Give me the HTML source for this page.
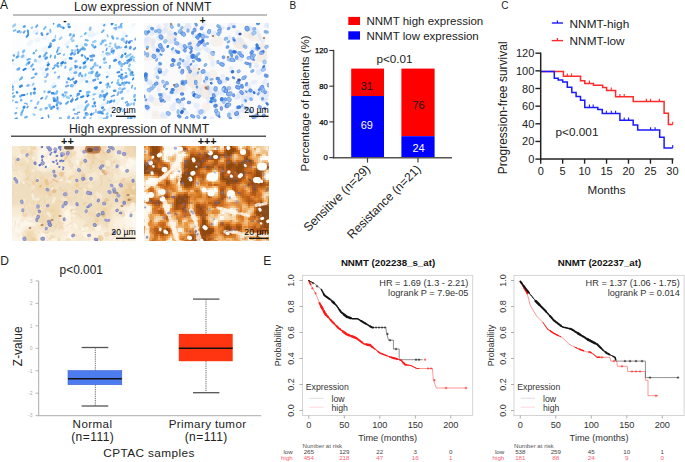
<!DOCTYPE html><html><head><meta charset="utf-8"><style>html,body{margin:0;padding:0;background:#fff;width:685px;height:462px;overflow:hidden}svg{display:block}text{font-family:"Liberation Sans",sans-serif}</style></head><body>
<svg width="685" height="462" viewBox="0 0 685 462">
<rect width="685" height="462" fill="#fff"/>
<text x="0" y="8.8" font-size="12" text-anchor="start" fill="#111" font-weight="normal" >A</text>
<text x="74.0" y="11.2" font-size="12.25" text-anchor="start" fill="#222" font-weight="normal" >Low expression of NNMT</text>
<line x1="13" y1="15" x2="267" y2="15" stroke="#aaa" stroke-width="1.6" />
<clipPath id="cp0"><rect x="12" y="23" width="124" height="96"/></clipPath>
<filter id="bl0" x="-10%" y="-10%" width="120%" height="120%"><feGaussianBlur stdDeviation="2.4"/></filter>
<filter id="sb0"><feGaussianBlur stdDeviation="0.35"/></filter>
<g clip-path="url(#cp0)">
<rect x="12" y="23" width="124" height="96" fill="#fcfdff"/>
<g filter="url(#sb0)" fill="none" stroke-linecap="round">
<path d="M97.8 93.4l3.4 -0.4M36.6 40.4l1.3 -0.4M123.3 37l1.1 -3.7M100.7 97.9l0.6 -1.1M75.7 70.6l0 -0.4M28.7 44.4l2.6 -2.7M66 44.6l2.7 -2.3M71.2 71.7l0.1 0.5M34.3 31.8l3 -0.6M108 72.5l0 0.5M77.3 107.2l0.6 -0.5M41.2 68.8l1.3 -0.8M65 59.7l0.1 -0.1M52.6 85.7l1.8 -1.7M107.5 111.2l2.4 -1.9M102.7 24.4l2.3 0.2" stroke="#e4f0fc" stroke-width="4.0" stroke-opacity="0.6"/>
<path d="M31.6 85.4l0.5 -0.3M99.8 44.6l3.1 -3M89.6 35.8l3.9 -1.9M117.2 103.3l1.2 -2.9M102.6 90.9l1 -0.8M123.8 51l3.3 -1.9M22 56.7l3.1 0.2M83.8 79l0.7 -1.6M71.5 86.3l2.6 -1.1M73.2 96.3l0.1 -0.6M44.1 38.6l1.7 -1.1M88.6 77.4l1.3 -1.1M80.2 67.5l0.3 -1.8" stroke="#e4f0fc" stroke-width="3.5" stroke-opacity="0.6"/>
<path d="M116.9 58.7l1.9 -1.6M38.7 61.3l2 -1M58.7 109.6l0.7 -2.6M129.5 48l0.4 -0.1M59.2 51.7l1.5 -1.6M113.1 110.5l1.1 -3.1M81.3 80l0.6 -0.7" stroke="#e4f0fc" stroke-width="4.5" stroke-opacity="0.6"/>
<path d="M121.5 86.5l1.8 -1.9M44.5 49.8l2.3 -1.6M103.5 104.1l1.2 0M79.7 107.3l1.7 -1M99.8 118l0.6 -0.2M44.5 73.3l1.3 -0.9M130.6 56.9l0.3 -0.7" stroke="#e4f0fc" stroke-width="5.0" stroke-opacity="0.6"/>
<path d="M116.8 38.7l4.1 0.2M91.4 95.4l2.7 -1.1M88.7 35.8l3.6 0.4M66 25.4l1.6 -0.9M73.2 76.7l3.3 -2.2M132.6 25.7l3.5 -3.3M73.7 33.2l0.4 -1.7M128.3 76.4l1.2 -3.9M94.1 35.5l3.8 -2.7M76 62l1.5 -1.5M99.8 105.3l4 -0.2" stroke="#e4f0fc" stroke-width="2.5" stroke-opacity="0.6"/>
<path d="M93.3 70.7l1 -3.9M110.2 107.1l1.6 -0.6M78.2 69.7l1.7 -2.4M131.6 61.7l3.9 -0.4M81 45.8l0.6 -1M13 83.5l3.7 -2.4M87.4 33.5l4.3 -2.8M106.5 90.6l1.3 -3M127.1 92.2l1.8 -1.5M64.6 95.2l4.8 0.8M64.1 60.1l1.4 -0.9M132.4 99.9l4.2 -2.1M101.9 54.9l3.1 1.4M10.3 63.7l3.7 -0M28.9 68.5l2.5 -0.6M88.1 83.1l4.7 -1.2" stroke="#e4f0fc" stroke-width="3.0" stroke-opacity="0.6"/>
<path d="M105 40.4l0.2 -0M123.9 78l1 -0.6M79.1 75.7l0.4 -1.4M21.3 114.8l0.2 -1.7M34.5 93.6l0 -0M135 88.6l1.9 -0.8M12.7 89.6l0.3 0M119 27.2l0.9 -0.2M22.1 56.8l1 -1.1M84.6 110l0.8 -0.5M75.5 61.5l0.5 -0.4M87.8 105.2l0.5 -0.7M117.3 38.3l0.1 0.1" stroke="#70b0f0" stroke-width="2.5" stroke-opacity="0.8"/>
<path d="M105.6 95.2l1.5 -1.7M94.3 47.3l1 -0.4M111.7 51.6l1.9 -1M71 54.3l1.4 -1.5M121.6 57l0.8 -1.7M114.1 90.8l1.1 0M60.1 118.4l0.1 -0.1M45.6 58.7l1.2 -1.1M135 99.9l1.2 0.2" stroke="#2080e0" stroke-width="2.5" stroke-opacity="0.8"/>
<path d="M11.2 101.2l1.6 -0.9M124.2 41.7l0.2 -0.6M131.6 57.7l2.7 -0.2M17.2 69.7l1.9 -0.4M45.7 98.8l1.3 -2.5M57.4 98.7l0.2 -1.1M118 81.1l0.4 -1.4M97.7 78.9l0.5 0M119.7 47.9l1.6 -0.4M102.8 51.9l0.5 -0.2M32.9 84.7l0.7 -1.2M95.6 75.1l1 -2.1M114.9 44.6l0.6 -0.7M63.7 96.7l1.8 -1.5M95.8 65.6l2 -0.2M59.7 39.2l1.8 -1.8M90.8 68.6l0.6 -0.1M73.4 35.7l0.7 -1" stroke="#80c0f0" stroke-width="2.0" stroke-opacity="0.8"/>
<path d="M89.9 29.6l0.5 -1.9M60.1 119.2l0.6 -0.8M94.6 65l0.6 -1.6" stroke="#90c0f0" stroke-width="2.5"/>
<path d="M132.7 79.6l0.8 -1.4" stroke="#2080e0" stroke-width="1.5"/>
<path d="M80.2 67.7l0.1 -0.1M85.8 113.5l0.8 -0.3M130.1 48.2l0.5 -1.1M92.8 55.5l1.1 0.3M97.9 76.1l0.3 -0.4M108 84.2l0 -0.5M46.1 69.6l1.4 -0.7M48.5 92.1l1.2 -0.4M127.4 60.8l1.6 -0.8M39.5 56.7l0.5 -0.3M42.2 34.9l-0.6 -1.5M93.5 80.4l1.6 -0.5" stroke="#3080e0" stroke-width="2.5" stroke-opacity="0.8"/>
<path d="M107.5 103.1l0.4 -1.8M122.3 89.5l2.5 -1.2M135.2 39.5l1 -1.1M20.9 78.9l1.3 -1.6M103.7 110.1l0.9 -0.6" stroke="#70b0f0" stroke-width="2.0"/>
<path d="M57.5 108.4l0.1 -0.2M126.3 76.8l0 -0.8M80.3 73.7l-0.1 -0.3" stroke="#60a0f0" stroke-width="2.5"/>
<path d="M15.8 102.3l1.4 -0.1M92.8 67.1l0.4 -0.3M102 32.2l1.6 -1.9M109.5 68l0.5 -2.3M127.9 118.2l0.8 -0.4M54.9 57.8l0.2 -1.8M30.9 94.4l-0 -1.7M85.6 40.1l2.2 0.4" stroke="#50a0e0" stroke-width="2.0" stroke-opacity="0.8"/>
<path d="M95.9 88.1l-0.1 -0.1M82.7 48.6l0.4 -0.7" stroke="#50a0e0" stroke-width="3.0" stroke-opacity="0.8"/>
<path d="M96.7 73.5l0.5 -1.1M16.8 57.2l1.4 -0.9M23.9 26.7l0.8 -0.4M95 88l1.7 -0.7M52.9 40.8l1.7 -0.8" stroke="#3090e0" stroke-width="2.5" stroke-opacity="0.8"/>
<path d="M74.7 113.7l2.8 0.2" stroke="#5090e0" stroke-width="1.5" stroke-opacity="0.8"/>
<path d="M111.9 24.1l0.8 -1.8M47.8 65.3l0.8 -1.1M53.5 106.9l0.2 -0.1M100.2 82.8l0.4 -0.2M75 82.9l1.2 -1.5M91.2 114.4l0.5 -0.4M129.2 42.5l0.4 -0.4M70 58.3l1.4 0.2" stroke="#3080e0" stroke-width="2.5"/>
<path d="M50.9 109.2l2.3 -1.5M107.2 34.9l0.8 1.9M133.9 61l-0.2 -1.6M111 50l1.5 -2M90.4 57l2 0.4M72.2 101.1l0.5 -3" stroke="#70b0f0" stroke-width="1.5" stroke-opacity="0.8"/>
<path d="M27.4 59.8l0.7 -0.4M54.6 65.7l1.4 -0.4M25.2 117.5l1.8 -0.8M21.9 112.4l1.2 -2.3M113.9 101.6l0.4 -1.2M31.3 66.4l1.5 -2" stroke="#60b0f0" stroke-width="2.0"/>
<path d="M35.1 107.8l1 -0.3M85.5 108.6l0.2 -1.3M15.3 113.4l0.9 -0.4M104 25.5l0.5 -0.6M97.3 76.4l2.3 -1.8M51.3 109.1l0.3 -1.6M90.1 56.1l1.4 -0M124 63.9l1.5 -1M23.8 32.6l0.9 -1.3M36.2 26.9l1.1 -1.6" stroke="#4090e0" stroke-width="2.0" stroke-opacity="0.8"/>
<path d="M61.5 63.5l1.4 -1.2M49.2 46.9l1.2 -0.6M34.5 89.2l0.2 -0.5M83.8 63.2l1 -0.8M87.5 58.7l0.3 0M54.2 100.8l1.7 -0.4" stroke="#2080e0" stroke-width="2.5"/>
<path d="M109.6 86.9l0.3 -0.5M71.6 50.5l1.2 -0.3M93.5 94.5l1.5 -0.4M37.4 104l1.1 -2.1M86.1 60.9l0.7 -0.7M50.5 32l-0.3 -2.3M63.8 54.9l0.5 -0.5M58.1 48.1l0.9 -0.6M134 104.8l0.1 -1.8M105.5 45.3l0.8 -0.6M36.5 33.8l0.4 -0.5M54.5 94.2l1.1 -0.6M115.7 29.4l0.6 -0.2M54.8 72.7l0.5 -0.3M60.6 26.9l2.1 0.3" stroke="#70b0f0" stroke-width="2.0" stroke-opacity="0.8"/>
<path d="M84.3 117.8l0.3 -0.2M126.1 46.9l0 0.2M33.8 93l0.8 -0.5M62.8 95l-0.1 -0.4M13.9 55.6l-0 0M119 76.2l1 -0.1M50.3 45.5l0.4 -1.9M103.6 96.1l0.3 -1M76.5 66.7l0.5 -0.1M122.3 83.3l0.1 -0.3M134.5 116.9l0.2 0.1M58.3 25.4l0.8 -0.6M100.1 67.3l0.1 -0.1M65.2 63l0.2 -0.2M17.8 31.9l1.5 -0.6M90.9 60.2l1.3 -0.2M57.7 66.3l0.4 0.1" stroke="#4090e0" stroke-width="2.5" stroke-opacity="0.8"/>
<path d="M44.9 77.2l2 -0.5M122.1 79.8l0.4 -2.4M76.6 96.1l1 -0.6" stroke="#60a0f0" stroke-width="1.5" stroke-opacity="0.8"/>
<path d="M12.2 87.1l0.8 -0.4M123.7 83.5l0.8 -0.9M28.2 33.1l-0.4 -2.7M57.4 63.7l0.7 -0.7M41.5 119l1.1 -1.1M106.7 77.1l1 -0.6" stroke="#2080e0" stroke-width="2.0" stroke-opacity="0.8"/>
<path d="M68.6 79l0 -0.4M23.7 107.6l0.6 -0.7" stroke="#3090e0" stroke-width="2.5"/>
<path d="M85.3 44.5l1 0.4M122.2 39.6l0.9 -0.6" stroke="#80c0f0" stroke-width="3.0"/>
<path d="M85.6 102.4l1.3 -1.3M104.6 97.4l0.6 -0.9M60.3 103.8l0.7 -0.4M47 34.4l0.9 -0.9M75.5 67.7l-0.3 -1.9M72.6 119l1 -1M125.1 47.3l1.1 -1.1" stroke="#3080e0" stroke-width="2.0" stroke-opacity="0.8"/>
<path d="M99.8 96.7l1.9 -1M73.7 109.8l0.3 -0.3M122.1 98.8l0.5 -0.6M87.1 92.2l2.3 -0.3M65.1 92.4l1.3 -0M101.1 43.8l0.1 -0.1M91.6 68.7l-0 0M57.9 26.3l2.2 -0.7M50.1 106.9l0.3 0.2M104 99.8l0.4 -0.4M44.1 56.3l0.5 -0.2" stroke="#60b0f0" stroke-width="2.5" stroke-opacity="0.8"/>
<path d="M102.2 107.9l0.6 -0.4M17 92.4l0.2 0.1M110 102.1l1.5 -1.2M63.5 28.1l0 0M114.3 60.7l1.5 -0.7M20.1 86.7l1.7 -1M81.9 55.4l0.3 -0.2M68.8 26.8l0.9 0.1M94.5 103.4l0.2 -1M52 93.3l1.4 -0" stroke="#4090e0" stroke-width="2.5"/>
<path d="M68.4 24.4l0.4 -0.2M126.5 36.1l0 -0.1M74.6 72.8l1.5 -0.2M106.1 118.5l1.3 -1.7M21.3 100.1l-0.1 0.2M92.7 106.3l0.7 0M102.5 41.9l0.3 -1.2M70.1 35.2l0.4 -1" stroke="#50a0f0" stroke-width="2.5" stroke-opacity="0.8"/>
<path d="M133.9 49.3l2.2 -1.8M119.1 85l1.5 -0.1M118.7 62.8l1.1 -1.3M127.2 63.1l1.6 -2" stroke="#60a0f0" stroke-width="2.0"/>
<path d="M131.5 73.3l0.6 -0.8" stroke="#4090e0" stroke-width="3.0"/>
<path d="M109.1 46.6l1.4 -0M47.6 62.8l1 -0.7" stroke="#80c0f0" stroke-width="1.5" stroke-opacity="0.8"/>
<path d="M100.3 112.8l1.9 -0.9M71.2 86l0.2 -0.7M45 54.7l0.2 -0.1M13.5 96.8l0.8 -0.7M82.7 49l2.1 0.3M104 59.5l0.6 -1M45.8 108.4l0.9 -0.4M119.5 109.5l1.7 -0.7M82.1 76l-0.1 -0.3M33.7 53.2l0.3 -0.2" stroke="#50a0e0" stroke-width="2.5" stroke-opacity="0.8"/>
<path d="M45.4 81.2l0 0.2M107.4 54.5l2.3 -0.4M119.3 88.7l0.6 -0.1" stroke="#90c0f0" stroke-width="2.5" stroke-opacity="0.8"/>
<path d="M91.6 73l0.9 -1.1M113.1 38.4l-0.8 -1.8M46.3 53l0.1 -0M128.8 82.9l0.4 -0.2M76.7 46.2l0.2 0" stroke="#60b0f0" stroke-width="2.5"/>
<path d="M130.4 119.4l1.1 -1.9" stroke="#50a0f0" stroke-width="2.5"/>
<path d="M50.5 57.4l0.4 -2.2M111.6 82.9l0.8 -0.8M106.3 50.4l0.6 -2.2" stroke="#3090e0" stroke-width="1.5" stroke-opacity="0.8"/>
<path d="M18.2 55l0.2 -2.7M89.6 119.8l1.1 -2.1M74.9 51.6l0.4 -1.2M71.2 39.3l0.8 -1.6M20.6 32.6l0.9 -0.4" stroke="#90c0f0" stroke-width="2.0" stroke-opacity="0.8"/>
<path d="M128.6 68.8l1.8 1.9M65.1 67.9l0.5 -1.4M43.9 29.1l1.8 -2.1M85.8 115.4l2.3 -1.1M29 58.9l1.2 0M93.2 99.3l0.6 -0.3M119.5 64.4l1.6 -1.4M85.3 75.7l0.4 -1.5M44.4 92l0.2 -0.8" stroke="#60b0f0" stroke-width="2.0" stroke-opacity="0.8"/>
<path d="M53.7 98.1l0.3 -0.1M47.2 74.9l0.4 -0.5M17.9 69.1l1.2 -0.7M66.9 82.4l0.2 -0.1M77.5 118.7l0.6 -1.1M55.8 100.9l1.8 -0.2M27.5 85.6l1 -0.3M68.4 118.5l0.4 -1.8M74.1 54.3l0.9 -0.5M116.9 48.1l1.9 -1.3" stroke="#60a0f0" stroke-width="2.5" stroke-opacity="0.8"/>
<path d="M101.9 113.3l1 0.3M125.5 83l1.4 -0.7M26.6 36.8l1.6 -2M77.6 50.5l0 -1M70.7 95.8l0.2 -0.2M117.4 72.5l1.9 -0.4" stroke="#4090e0" stroke-width="2.0"/>
<path d="M87.3 96.1l1.2 -0.7M79.8 91.2l0.9 -0.1M125.2 54.2l0.3 -0.7M23.5 69.9l2.2 -1.2" stroke="#2080e0" stroke-width="2.0"/>
<path d="M93.2 46.2l-0.9 -1.4M23.1 51.9l1 -1.4M104 119.4l-0.1 -0.7M72.3 86.1l0.5 -0.7M102.5 91.5l0.1 -0.1M121.5 66.1l1 -1.9M115.6 46.4l0.1 0.3M56.3 93.4l0.9 -2.1M134.2 96.7l0.7 -1.6" stroke="#80c0f0" stroke-width="2.5"/>
<path d="M61.2 65.5l0.1 -0.6M121.6 27.5l-0.5 -1.7M13.7 30.9l1.8 -0.8M106.1 53.5l2.3 -0.4M35.9 51l0.5 -0.7M129.1 66.2l0.9 -1.9M104.2 62.7l1.9 -0.3M53.2 87.2l2.3 -1.2" stroke="#80c0f0" stroke-width="2.0"/>
<path d="M126.1 43.1l0.7 -1.8M33.2 69.7l0.5 -0.6M72.3 79.4l1.1 -1" stroke="#5090e0" stroke-width="2.0"/>
<path d="M53.5 24l0.2 -0.9M56.8 52.3l1.1 -2.7M27.1 107.7l0.9 -1.4" stroke="#2080e0" stroke-width="1.5" stroke-opacity="0.8"/>
<path d="M84.7 34.3l1.1 -1.3" stroke="#70c0f0" stroke-width="2.0"/>
<path d="M15.3 119l1.6 -0.7M11.9 60.5l1.1 -0.3M53.7 99.3l1.3 -0.4" stroke="#50a0e0" stroke-width="2.0"/>
<path d="M95.5 106.6l-0.2 -0.8M111.5 96.4l2.8 -1.1M58.3 77l1 -0.6M57.6 98.9l-0.3 -1.8M111.2 116.2l-0.1 -1.2M52.8 68.9l1.6 -1.3" stroke="#3080e0" stroke-width="1.5" stroke-opacity="0.8"/>
<path d="M117.7 83.2l0.4 -0.1" stroke="#70c0f0" stroke-width="3.0"/>
<path d="M106.4 84.9l0.3 -0.5M67 97.3l1.9 0.6M124 84.6l0.5 -2.2M31.8 27.7l0.3 -0.2M89.2 73l1.6 -0.4M13.3 26.3l1.7 -1.6M49.2 105.5l0.5 -0.7M58.5 78l0.3 -0.2M40.4 109.6l0.8 -0.4M106.8 114.2l0.8 -0.6M127.1 105.1l2.3 -0.2M93.4 41.9l1.9 -0.6M57 103l0.9 -0.6M131.5 103.8l0 -0M72.4 40.9l1 -0.3M67.5 47.1l0.2 -0.3M70.1 69.7l1.2 -1.5M12 85.7l0 -0.3" stroke="#80c0f0" stroke-width="2.5" stroke-opacity="0.8"/>
<path d="M110.4 43.4l0 -0M126.3 56.7l1.2 -0.8M35.8 74.3l0.7 -0.6" stroke="#70c0f0" stroke-width="2.5" stroke-opacity="0.8"/>
<path d="M76.8 99.5l0.9 -1.4M125.7 102.6l1.5 -0.7M132.9 75.3l0.7 -0.2M120.7 25.2l1.4 -2.5M121.6 69.9l-0.3 -0.5M35.2 74.2l0.8 -0.7" stroke="#50a0f0" stroke-width="2.0" stroke-opacity="0.8"/>
<path d="M127.3 105.2l0.8 -1.2M20.4 96.6l0.1 -0.7M120.6 92.6l1.4 -1.1M73.6 36.1l0.1 -0.5" stroke="#70b0f0" stroke-width="2.5"/>
<path d="M28.3 63.3l0.9 -1M71.1 101.4l1.3 -1.6" stroke="#5090e0" stroke-width="2.5"/>
<path d="M75.7 99.9l1.5 -1.3" stroke="#4090e0" stroke-width="1.5"/>
<path d="M66.1 103.7l1.9 -1.8" stroke="#3090e0" stroke-width="2.0" stroke-opacity="0.8"/>
<path d="M40.9 98.9l1.6 -1.2" stroke="#3080e0" stroke-width="1.5"/>
<path d="M93 114.3l1 -1.8M96 112.5l-0.1 -2.9" stroke="#90c0f0" stroke-width="1.5"/>
<path d="M125.2 72.7l1.3 0.5M130.4 57.3l2.4 -1.2M27.1 94.4l0.3 -0.9" stroke="#70c0f0" stroke-width="1.5"/>
<path d="M131 74.6l0.1 -0M84 67.6l1.3 -0.9" stroke="#60b0f0" stroke-width="3.0" stroke-opacity="0.8"/>
<path d="M22 95.2l2.5 -0.3M77.9 53l0.6 -0.9M121.5 74.4l0.7 -0" stroke="#3080e0" stroke-width="2.0"/>
<path d="M81 97.2l2.5 -1" stroke="#3090e0" stroke-width="2.0"/>
<path d="M24.8 103.2l2.7 0.9M19.6 79.9l2 -2.3" stroke="#70b0f0" stroke-width="1.5"/>
<path d="M86.9 94.5l1.1 -1.2M129.1 55.1l1.5 -1M115.5 25l0.6 -0.1M33.6 114.4l1.1 0.5M26.3 64.9l1 -1.7" stroke="#70c0f0" stroke-width="2.0" stroke-opacity="0.8"/>
<path d="M98.6 112.4l1.3 -0.3" stroke="#4090e0" stroke-width="3.0" stroke-opacity="0.8"/>
<path d="M122.5 111.4l1.7 -2M57.4 103.3l2.6 -1.2" stroke="#60b0f0" stroke-width="1.5" stroke-opacity="0.8"/>
<path d="M85.7 58.1l-1 -2.1" stroke="#50a0f0" stroke-width="1.5"/>
<path d="M16.4 108.3l0.9 -0.2M80.6 36.5l1.2 -0.2M55.3 37.7l0.2 -2.1" stroke="#90c0f0" stroke-width="1.5" stroke-opacity="0.8"/>
<path d="M117.5 95l1 -2.7M100.3 95l0.2 -0.1M130.2 41.1l1.7 -0.2M114.2 28.3l2.4 -0.7M74 82l0.5 0.1" stroke="#60a0f0" stroke-width="2.0" stroke-opacity="0.8"/>
<path d="M35.5 60.8l-0.2 -0.4" stroke="#80c0f0" stroke-width="3.0" stroke-opacity="0.8"/>
<path d="M86.4 81.5l0.7 -0.1M56.8 105.4l0.1 -0.4M121.1 77.7l0.2 -1.2" stroke="#50a0e0" stroke-width="2.5"/>
<path d="M30.8 100.9l0.8 -0.3" stroke="#90c0f0" stroke-width="2.0"/>
<path d="M48.7 117.4l-0.4 -2.2M57.4 54.2l2.9 -0.6M70.3 80.2l1.1 -0.8" stroke="#50a0e0" stroke-width="1.5"/>
<path d="M107 87.6l1.4 -2.5M113 53.7l1.1 -1.9" stroke="#50a0f0" stroke-width="1.5" stroke-opacity="0.8"/>
<path d="M131.7 87.9l0.6 -2.3M31.5 78.3l2.6 -1.2M77.7 112.5l1.9 -0.2" stroke="#4090e0" stroke-width="1.5" stroke-opacity="0.8"/>
<path d="M130 60.1l0.9 -0.6M78.1 94.2l0.6 -0.1" stroke="#3080e0" stroke-width="3.0" stroke-opacity="0.8"/>
<path d="M11.6 93.8l1.7 -0.8" stroke="#60b0f0" stroke-width="1.5"/>
<path d="M79.5 51l1.3 -1.6" stroke="#50a0f0" stroke-width="2.0"/>
<path d="M96.2 75.8l1.4 -1" stroke="#70b0f0" stroke-width="3.0" stroke-opacity="0.8"/>
<path d="M86.6 106.9l0.4 -1.2" stroke="#70c0f0" stroke-width="2.5"/>
<path d="M66 86.5l2.3 -0.9" stroke="#5090e0" stroke-width="2.0" stroke-opacity="0.8"/>
</g>
</g>
<clipPath id="cp1"><rect x="144" y="23" width="125" height="96"/></clipPath>
<filter id="bl1" x="-10%" y="-10%" width="120%" height="120%"><feGaussianBlur stdDeviation="2.4"/></filter>
<filter id="sb1"><feGaussianBlur stdDeviation="0.35"/></filter>
<g clip-path="url(#cp1)">
<rect x="144" y="23" width="125" height="96" fill="#fbfafa"/>
<g filter="url(#sb1)" fill="none" stroke-linecap="round">
<path d="M214.6 41.7l4.2 0M145.8 56.2l4.3 0M253 36.4l4.4 0" stroke="#f0e4d8" stroke-width="9.5" stroke-opacity="0.4"/>
<path d="M201.2 86.7l2.4 0" stroke="#f0e4d8" stroke-width="5.5" stroke-opacity="0.4"/>
<path d="M180.1 88.4l0 2.1M222 105.2l2.3 0" stroke="#f0e4d8" stroke-width="7.5" stroke-opacity="0.4"/>
<path d="M152.8 40.6l0 1.9M253.1 60.9l2.5 0M239.8 93.9l6.5 0M176.6 88.2l6.7 0" stroke="#f0e4d8" stroke-width="6.5" stroke-opacity="0.4"/>
<path d="M189.4 68.3l0.8 0M156.1 102l3.5 0M185.1 29.5l2.3 0M187.8 28.2l0 0.7M244.4 45.9l0.2 0" stroke="#f0e4d8" stroke-width="8.0" stroke-opacity="0.4"/>
<path d="M192.7 43l3.6 0M194.6 86.9l0 0.7M210.9 55.1l0 2.1M154.4 117.2l7.3 0" stroke="#f0e4d8" stroke-width="6.0" stroke-opacity="0.4"/>
<path d="M143.7 77.2l3 0M151.4 85.7l9 0" stroke="#f0e4d8" stroke-width="4.0" stroke-opacity="0.4"/>
<path d="M166.6 28.9l0 0.9M232.9 57.8l4.4 0" stroke="#f0e4d8" stroke-width="7.0" stroke-opacity="0.4"/>
<path d="M206.3 106.7l0 0.7M247.3 34.4l3 0M213 73.9l0 0.9" stroke="#f0e4d8" stroke-width="8.5" stroke-opacity="0.4"/>
<path d="M229.6 88.6l1.5 0" stroke="#f0e4d8" stroke-width="4.5" stroke-opacity="0.4"/>
<path d="M244.1 99.1l2 0M153.9 113l2.8 0M150 44.2l1.6 0" stroke="#f0e4d8" stroke-width="5.0" stroke-opacity="0.4"/>
<path d="M194 76l0 4" stroke="#f0e4d8" stroke-width="16.0" stroke-opacity="0.6"/>
<path d="M206 89l0 4M239 43l0.1 0" stroke="#f0e4d8" stroke-width="12.0" stroke-opacity="0.6"/>
<path d="M171 38l2 0M262 48l0 10" stroke="#f0e4d8" stroke-width="10.0" stroke-opacity="0.6"/>
<path d="M159.2 55.7l-0.2 0.4M251.2 28.9l-0 0M196.2 48.2l-0.1 0.5M173.4 40.8l-0.7 1.2M256.6 66l-0.1 0.1M150.2 81.7l-2.1 0M194.5 35.8l-0.3 0M180.9 45.5l0.5 0.3M148.4 108.3l-0.4 0.8M230.3 58.4l-1.9 0.1M149.7 29l-0.6 -1.1M180.1 61l-1 0.3M238.6 110.5l1.5 0.1M213.9 102.3l0 0M221.1 82.4l-0.3 -0.7M199.4 89.9l-1.1 0.8M186 62.8l-0.2 0.1M251.8 96.1l0.1 0.7M227.6 104.7l0 0.2M204.3 34.3l0 1M150.2 99.9l1.2 0.4M222.8 63.5l-1.1 0.7M168.5 97.8l-0.1 0.8M262.6 40.1l-0.3 0.4M166.9 23.5l-1.1 0.8M152.3 33.2l-0.1 -0.1M217 92.1l-1 -0.3M159 27.2l-0.3 0.2M229.4 37.7l0 0M204 47.4l1.8 1.2M244.9 108.7l-0.8 1.9M188.2 57.9l-0.1 -0.3M199.9 94.9l-0.3 -0.3M223.2 101.7l-0 -0.7M214.4 87.9l-0.9 0.5M240.1 39.9l0.5 1.5M147.6 105l-0.9 1.3M186.2 112.9l-0.5 0.1M234.9 41.7l-0 -0M253.2 49.5l0.1 0.2M241.1 58.2l-0.2 0.8" stroke="#d8e4fc" stroke-width="5.0" stroke-opacity="0.6"/>
<path d="M230.1 57l-0.3 2M268.7 93.2l-1.2 1.6M196.2 65.6l-1.5 1.6M266.9 98.6l-1.5 2M259.5 109.5l1.7 0.6M181.7 108.9l0.9 0.5M238.8 94.4l-0.2 2.4M232.1 50.3l-2.2 0.4M174.6 35.8l-0.5 0.5M252.7 116.5l2.4 1.1M162.6 37.5l-2.1 1.5M231.1 68.1l0 2.7M268.1 24.2l1.3 2.2M153.3 41.1l-0.1 1.9M232.7 111.6l-2.1 0.5M166.6 70.6l0.1 0.2M255.6 82.1l-3 0.4M219.5 93.1l3 0.7M220.9 26.9l2 1.1M248.2 97.7l1 0.8M150.7 96.4l1.9 1.8M166.8 113.1l1.5 1.4M158.7 89.6l0.1 0.6M184.2 62.9l0.7 3.2M222.2 81l2.9 0.4M188.3 61.1l-0.1 2M160.8 48l2.4 0.3M264.4 91.5l1.1 1.4" stroke="#d8e4fc" stroke-width="4.0" stroke-opacity="0.6"/>
<path d="M173.3 64.7l1.5 0.2M265.6 99.9l-2.8 0.5M156.6 68.7l-1.1 0.8M245.5 101.8l-2.8 0.1M174.8 103.6l-1.4 1.7M258.8 35.1l1 2.7M236.5 108l-0.3 1" stroke="#d8e4fc" stroke-width="3.5" stroke-opacity="0.6"/>
<path d="M262.2 97.1l1.3 0.2M258.8 72l0.1 0.2M172.6 107.9l0.5 0.4M148.3 39.1l-0.5 0.2M159.3 37.5l-0.1 0.1M206.9 74.4l-0 1.3M187.7 23.2l0.4 0.1" stroke="#d8e4fc" stroke-width="6.0" stroke-opacity="0.6"/>
<path d="M249.4 111.1l2.6 0.3M250.5 28.2l-0.5 0.2M176.1 90.9l-0.4 1.6M153.3 47.1l0 0M231.4 53.6l-0.9 0.2M146.2 39.7l-1.5 0.4M246.8 98.1l-0 0.1M238.5 82.8l0.6 2.4M150.9 98.7l0.8 0.6M230.1 25.2l0.8 0.9M165.4 116.4l-0.1 0.2M146.5 43.5l-0.4 1.5M155 55l-1.4 1.7M169.4 41.2l0.3 0.8M258.6 92.5l0 0.1M197.6 48.6l1.9 1M185.6 64.6l2.4 1.2M157.9 66.8l0.2 0.5M230.2 115.5l-0.4 1M162.7 114.1l-0.3 1.4M157 49.4l-2.6 0.1M212.7 61.8l-0.2 2.8M237.3 114.4l0.9 2.2M211.9 118.6l-0 0.1M206.7 81.2l-1.1 0.4M180.4 102.4l1.8 2.1M150.6 83.5l-0 -0M266.1 25.1l1.3 1M249 86.2l0.3 0M171.7 91.7l-0.5 1.3M204.2 24.2l-0.1 0.9M265.5 81l-1.2 1.7M189.1 26.9l-0.1 0.1M152.5 30.5l-0.8 0.2M157.1 82.1l0.7 1.4M203.7 111.6l-1.6 1.8M241.9 52.9l-1.3 1M222.6 76.1l-0.6 0.3M262 90.6l-0.2 0.9M157.9 31.4l-0 0M256.1 91.4l-0.2 0.2M186.2 27.7l-0.2 0.2M209.7 91.7l1.3 1.5M227.2 90l-0.4 -1.1M257.2 31.5l-0 0M208.5 98.6l0.2 2.6M194.6 74.5l-0.4 0.2" stroke="#d8e4fc" stroke-width="4.5" stroke-opacity="0.6"/>
<path d="M243.9 92l-1 1.5M196.3 105.4l0.6 0M156.2 74.9l-0.1 0.1M164.9 29.9l-0.7 0.9M233.3 24.1l-0 -0.1M170.5 32.9l-0.6 0.2M208.4 50.3l0.3 0.1M215 94.6l0.3 0.2M164.6 73.4l-0.9 0.1M163.4 94.9l0.5 0.6M247.4 92.2l1.7 0.3M158.5 33l1.7 0.3M214.1 33.5l-0.9 0.8M174.7 51.1l-0.9 0.2M265.4 91.7l-0.1 0.1M198.8 111l0 0.5M237.5 97.1l-1.2 0.3M237.8 32.9l0.9 0.6M183.5 48.2l-0.2 0.1M243.6 98.1l-0.2 0.8" stroke="#d8e4fc" stroke-width="5.5" stroke-opacity="0.6"/>
<path d="M172.9 48.2l-0.8 1M193 61.3l0.8 0" stroke="#70b0f0" stroke-width="2.5"/>
<path d="M234.2 26.7l-0.6 0.1M196.5 37.1l1.5 1.2M187 117.5l-0.6 0.9M192.5 32.4l0.1 0.8M243.4 77.6l1 0.4M225.3 98.9l0.5 0.9M198 35.7l0.8 0.6" stroke="#4080e0" stroke-width="3.0" stroke-opacity="0.8"/>
<path d="M228.4 59.5l0.9 0.6M208 87l-0.2 1.7M193.5 92.3l-0.5 0.9M233.5 38.2l-0.1 0.4" stroke="#70a0f0" stroke-width="3.0" stroke-opacity="0.8"/>
<path d="M262.9 51.9l-1.2 0.6M211.7 98.4l0.9 0M172.3 89.8l0.7 0M239.5 107l-1.4 0.2" stroke="#4080e0" stroke-width="3.5"/>
<path d="M263.9 69.3l-1.3 0.5M212.2 53.1l0.6 0.9M223.6 88.4l-0.2 1.3M148.7 89.9l0.6 0.4M143.8 52.7l0.6 0.6M256.8 48.4l0.4 0.4M218.1 113.1l-0.4 0.5" stroke="#70a0f0" stroke-width="4.0" stroke-opacity="0.8"/>
<path d="M264.5 108l0.8 0.9M259.1 89.5l0.2 0.8M177.9 99.2l-1.1 0.7" stroke="#4080e0" stroke-width="2.5" stroke-opacity="0.8"/>
<path d="M183.2 33.8l0.7 0.7" stroke="#5080e0" stroke-width="4.5" stroke-opacity="0.8"/>
<path d="M218.8 115.9l0.5 0.8M168 46.1l-0.4 0.6M211.1 83l0.4 0.4M233.9 40.1l0.6 0.3M266.7 103.3l0.9 1.1M264 66.3l-0.6 0.7" stroke="#4080e0" stroke-width="2.5"/>
<path d="M181.4 72.3l0.7 0.8M217.9 61.5l0.1 1.1M199.4 96.1l-0.8 1M183 81.2l-1.1 0.4" stroke="#6090e0" stroke-width="3.0" stroke-opacity="0.8"/>
<path d="M215.9 105.7l-0.7 0.2" stroke="#3070d0" stroke-width="4.0" stroke-opacity="0.8"/>
<path d="M166.8 82.6l0.6 0.8M204.1 44.2l0.6 0.8M198 116.4l0.7 0.9M220.3 28.6l-0.3 1.2M160.5 96l0.7 0.3M162.9 81.5l0.1 0.4" stroke="#70a0f0" stroke-width="3.5" stroke-opacity="0.8"/>
<path d="M167.1 88.7l-0.9 0.5M245.9 91.3l0.8 0.6M175.7 50.6l0.9 0.7" stroke="#4080e0" stroke-width="2.0" stroke-opacity="0.8"/>
<path d="M236.8 113.4l-0.6 0.3" stroke="#3070d0" stroke-width="4.5" stroke-opacity="0.8"/>
<path d="M233.6 94.7l-0 0.9M162.7 100l-1.5 0.9M250 64l0 0.5M199.3 41.9l0.4 0.6M230.3 118.4l0.4 0.5M190.5 71.3l-0.6 0.6" stroke="#3070e0" stroke-width="3.0" stroke-opacity="0.8"/>
<path d="M180.3 58.9l0.1 0.7M199.5 59.1l0.7 1.2M183.3 60.3l-0.5 0.7M213.3 100.5l-0.9 0.4M163.7 101.3l1.1 0.1" stroke="#5090e0" stroke-width="2.5" stroke-opacity="0.8"/>
<path d="M175.3 39.1l-0.4 1M206.3 36.7l1.3 0.3M157.1 59.1l-0.9 1.4M242.4 105.2l-0.6 0.9M204.2 80.8l0.1 0.9" stroke="#70a0f0" stroke-width="2.5" stroke-opacity="0.8"/>
<path d="M205.8 64.6l-0.8 0.7M188.1 30.1l-0.2 1M228.9 28.2l-0.7 0.5M250.8 98.9l0.6 0.6M159.4 94.4l1.8 0.1M164.9 85.2l-0.6 1.2M185.7 81.2l0.2 1.2M190.3 43.3l-1.2 0.5M246.8 83.3l-0.6 1.7M242.9 78.2l-0.1 0.6" stroke="#5090e0" stroke-width="3.0" stroke-opacity="0.8"/>
<path d="M198.1 72.2l-0.5 1.2" stroke="#70b0f0" stroke-width="2.0"/>
<path d="M181.7 93.9l0.8 0M263.9 115.3l-0.4 0.3M201.8 28.1l-0.3 0.5M241 55.4l1.3 0.6M241 91.8l1.1 1.3M199.1 44l-0.9 0.8M226.4 90.6l-1.4 0.5M182.5 70.6l0 1.1M189.3 102.4l-0.7 0" stroke="#3070e0" stroke-width="3.5" stroke-opacity="0.8"/>
<path d="M194.6 29.4l-0.1 1.1M145.8 76.6l-0 0.5M209.3 31l-0.4 1.2M176.2 43.3l1.2 0.2M193.7 55.8l-0.8 0.9M230.4 51.5l0.1 0.9" stroke="#5090e0" stroke-width="4.0" stroke-opacity="0.8"/>
<path d="M253.2 116.9l0.5 0.7M228.8 104.4l0.5 0.1M230.6 93.2l-0.4 1.2M160 70.1l-0.5 0" stroke="#6090e0" stroke-width="4.0" stroke-opacity="0.8"/>
<path d="M226.2 105l-0.6 1.2M197.1 86.6l-0.2 0.8M185.1 47.8l0.6 0.3M245.3 100.2l0.6 0.8" stroke="#60a0e0" stroke-width="2.5"/>
<path d="M179.3 63.6l-0.7 0.8M227.1 78.7l0.5 0.3M216.2 110.3l-0.3 1.1M191.9 115.9l1.6 0.8M178.7 115.8l1 0.9M157.7 50.7l0.8 0.2M252.2 51.7l-0.9 1M241.7 85.6l0.5 1.4M198.2 59.8l0.7 0.4M184.5 45.9l0.8 1.1M206.6 78l-0 0.7M195.7 81.4l0.1 1.8M265.1 92l0 0.6" stroke="#4080e0" stroke-width="3.5" stroke-opacity="0.8"/>
<path d="M191.4 63.9l-0.9 0.9M180.1 67.1l-0.9 0.7" stroke="#3070e0" stroke-width="2.0" stroke-opacity="0.8"/>
<path d="M237.1 87.1l1.5 0.6M227.3 104.9l-0.3 1.3M262.3 86.8l-1 1M147.6 107.3l-0.4 0.3" stroke="#3070e0" stroke-width="4.0" stroke-opacity="0.8"/>
<path d="M252.4 55.6l0.1 0.7M219.4 81.6l0.4 0.5" stroke="#3070e0" stroke-width="4.5" stroke-opacity="0.8"/>
<path d="M268.5 84.5l-0 1.3M254.5 28.8l-0.4 0.2M188.2 67.6l0.6 1.5M238.9 71.2l-0.5 0.3M259.3 106.7l0.8 0.5M261.9 53.1l-1.1 0.1" stroke="#6090e0" stroke-width="3.5" stroke-opacity="0.8"/>
<path d="M165.5 41.1l-0.4 0.5M264.5 61.6l0.2 0.9M254.4 32.6l-1 0.8" stroke="#70b0f0" stroke-width="4.0" stroke-opacity="0.8"/>
<path d="M145.8 32.2l0.5 1.3M239 53l0.7 0.1M180.6 30.6l-0.8 1.2M151.3 88.4l0.6 0.1M256.8 115.4l-0.6 0.3" stroke="#60a0e0" stroke-width="4.0" stroke-opacity="0.8"/>
<path d="M212.4 79.3l-1.8 0.1" stroke="#70a0e0" stroke-width="2.5" stroke-opacity="0.8"/>
<path d="M160.1 45.4l0.5 0.9" stroke="#3080e0" stroke-width="4.5" stroke-opacity="0.8"/>
<path d="M168 113.3l0.7 0.3M159 30.9l0.5 0.3" stroke="#60a0e0" stroke-width="4.5" stroke-opacity="0.8"/>
<path d="M183.8 98.8l-1.5 0.6M175.1 33.4l0.7 0.5M245.9 63.1l1.7 0.4M181.7 32.9l0.2 0.5M221.3 107.8l0.1 1.4" stroke="#3070d0" stroke-width="3.0" stroke-opacity="0.8"/>
<path d="M201.4 111.7l-0.8 0.5M196.2 95.8l0 0.5" stroke="#70a0f0" stroke-width="4.5" stroke-opacity="0.8"/>
<path d="M160.7 36.6l0.5 0.7M228.1 94l0.5 0.2M203.4 71.4l-0.6 0.2M231.8 59.7l0.6 0M153.7 56.1l0.5 0.4" stroke="#4080e0" stroke-width="4.5" stroke-opacity="0.8"/>
<path d="M172.7 64.9l-0.9 0.3M196.2 57.2l-0.2 0.9M156.6 83.4l-1.1 0.7M213.6 95l0.4 1.1" stroke="#3070d0" stroke-width="3.5" stroke-opacity="0.8"/>
<path d="M215.7 88.2l-0.2 1.4M250.2 90.4l0.5 0.2M176.9 85.4l-1.2 0.3M221.3 64l1.4 0.8M190.7 47.7l0.3 0.4M265.8 75.6l0.9 0.3" stroke="#4080e0" stroke-width="4.0" stroke-opacity="0.8"/>
<path d="M200.9 42.7l-0.5 0.1" stroke="#5080e0" stroke-width="3.0"/>
<path d="M234.4 60.1l-0.1 1" stroke="#70a0f0" stroke-width="2.0"/>
<path d="M229.1 41.4l-1.3 0.9M183.5 108.8l1.1 0.4" stroke="#60a0e0" stroke-width="2.5" stroke-opacity="0.8"/>
<path d="M145.9 74.3l-0.4 0.9M221.9 99l-0.1 0.6M199.7 34.8l0.3 0.7M159.6 71.3l0.4 0.6M173.1 60.2l0.6 0.3" stroke="#4080e0" stroke-width="4.0"/>
<path d="M253 70.6l-1.3 0.9M155.7 30.9l-0.2 0.5M250 110.6l0.4 0.8M254.5 55.2l-0.9 0.8M178.7 24.8l0.1 0.7M207.3 43.6l0.4 0" stroke="#60a0e0" stroke-width="3.0" stroke-opacity="0.8"/>
<path d="M157.2 77.1l0.7 0.7M188.5 46.9l1 0.2" stroke="#70a0e0" stroke-width="3.0" stroke-opacity="0.8"/>
<path d="M182.2 111.6l-0.6 0.7" stroke="#3070d0" stroke-width="3.5"/>
<path d="M266.9 46.5l-0.8 0.6M245.4 107.8l1.6 0.5M228.8 87.9l0.6 0.3M244.5 46.3l1.1 0.7M245.2 76.8l-0.8 1" stroke="#70a0e0" stroke-width="3.5" stroke-opacity="0.8"/>
<path d="M226.2 90.4l-0.2 0.4" stroke="#5080e0" stroke-width="3.5" stroke-opacity="0.8"/>
<path d="M182.1 27.5l-0.4 0.1M198.9 53.6l-1.6 1.2M153.4 85.7l0.9 1.1M224 102l-0.3 0.4M178.2 110.7l-0.3 1.7" stroke="#70b0f0" stroke-width="3.0" stroke-opacity="0.8"/>
<path d="M218 25.9l0.8 0.5M218 33.9l0.5 0.6M228.9 114.2l-0.2 1.6M263.2 89.1l-0.8 1.8M147.5 54l-0.1 1.7M171.5 26.2l0.5 0.9M265.4 31.8l1.7 0.3M226.3 38.5l-0.8 0.5" stroke="#60a0e0" stroke-width="3.5" stroke-opacity="0.8"/>
<path d="M184.5 50.2l0.5 0.5M223.4 57l0.2 0.4" stroke="#70a0f0" stroke-width="3.5"/>
<path d="M214.9 100.1l-0 0.6M159.9 63.6l0.5 0.2M151.9 28.5l0.5 0.2" stroke="#60a0e0" stroke-width="3.5"/>
<path d="M233 77.4l1 0.7" stroke="#6090e0" stroke-width="2.5"/>
<path d="M253.9 92.3l0.4 0.7M157.3 49.6l0.9 0.5M259.2 48.2l-1.7 0.1" stroke="#3070e0" stroke-width="2.5"/>
<path d="M258.6 93.4l-0.6 0.9M252.9 59.4l1 0.4" stroke="#70a0f0" stroke-width="2.5"/>
<path d="M250.1 65.8l0.1 1.3" stroke="#70b0f0" stroke-width="2.5" stroke-opacity="0.8"/>
<path d="M256.8 44.8l0.6 1.6" stroke="#3080e0" stroke-width="3.0"/>
<path d="M192.3 55.9l-0.1 0.8" stroke="#6090e0" stroke-width="4.5" stroke-opacity="0.8"/>
<path d="M177.6 52.1l0.9 0.2M258.3 23.3l-0.6 0.1" stroke="#5090e0" stroke-width="3.5"/>
<path d="M202.8 36.1l0.2 0.7M179 101.2l-0.6 0M228.7 99.1l0.8 0.7" stroke="#5090e0" stroke-width="4.5" stroke-opacity="0.8"/>
<path d="M183.9 83l-0.1 0.7" stroke="#70a0f0" stroke-width="4.0"/>
<path d="M147.7 47.3l-0.5 0.1" stroke="#70b0f0" stroke-width="3.0"/>
<path d="M213.8 52.2l-1.1 0.3M146.2 99.6l-0.4 0.6" stroke="#6090e0" stroke-width="2.5" stroke-opacity="0.8"/>
<path d="M144 96l0.2 0.8M231.3 54.1l0.4 1.6" stroke="#60a0e0" stroke-width="3.0"/>
<path d="M218.9 30.6l1 1.4M249.2 57.8l-1 0.1M251.7 57.8l0.8 0.3M227.7 46.9l-0.4 0.3" stroke="#5090e0" stroke-width="3.5" stroke-opacity="0.8"/>
<path d="M146.1 79.3l-0 0.6M237.4 82.3l1.3 0.6" stroke="#3080e0" stroke-width="3.0" stroke-opacity="0.8"/>
<path d="M232.8 71.6l-0.6 0.3" stroke="#3070d0" stroke-width="3.0"/>
<path d="M205.3 117.4l-1 0.6M146 106.1l1 0.4" stroke="#5090e0" stroke-width="2.5"/>
<path d="M233.8 51.8l1.3 0.1M202.8 40.7l-1.1 0.8" stroke="#3070e0" stroke-width="3.5"/>
<path d="M171.1 92.3l1.3 0.1M148.6 31.7l-0.6 0.6" stroke="#5090e0" stroke-width="3.0"/>
<path d="M191.5 51.1l-1 1.5M224 87.2l1.2 0.7M182.7 82.7l-0.9 1" stroke="#3070d0" stroke-width="2.5" stroke-opacity="0.8"/>
<path d="M192.8 55.3l-0.1 1.9M210.7 101.6l0.6 0.2" stroke="#4080e0" stroke-width="3.0"/>
<path d="M160.8 98.2l-0.7 0.6" stroke="#70a0e0" stroke-width="2.5"/>
<path d="M160.4 54.3l1.2 0.5" stroke="#5090e0" stroke-width="2.0"/>
<path d="M247 28.4l0.2 0.5" stroke="#3070d0" stroke-width="5.0" stroke-opacity="0.8"/>
<path d="M236.7 57l0.1 1.1" stroke="#3080e0" stroke-width="3.5" stroke-opacity="0.8"/>
<path d="M217.2 114.2l0.9 0.5" stroke="#70a0e0" stroke-width="4.0" stroke-opacity="0.8"/>
<path d="M217.3 78.5l1 0.3" stroke="#6090e0" stroke-width="3.5"/>
<path d="M195.7 23.5l0.7 1.6M262.6 98.5l-0.1 0.6" stroke="#70a0e0" stroke-width="3.0"/>
<path d="M162.3 49.4l0.5 0.7" stroke="#5080e0" stroke-width="4.0" stroke-opacity="0.8"/>
<path d="M194.4 94.4l-0.6 1" stroke="#3070e0" stroke-width="3.0"/>
<path d="M228.4 59.5l0.9 0.6M204.1 44.2l0.6 0.8M198 116.4l0.7 0.9M157.2 77.1l0.7 0.7M266.9 46.5l-0.8 0.6M188.5 46.9l1 0.2M153.4 85.7l0.9 1.1M224 102l-0.3 0.4M193.5 92.3l-0.5 0.9" stroke="#b0d0f0" stroke-width="1.5" stroke-opacity="0.8"/>
<path d="M263.9 69.3l-1.3 0.5M165.5 41.1l-0.4 0.5M212.2 53.1l0.6 0.9M264.5 61.6l0.2 0.9M196.2 95.8l0 0.5M148.7 89.9l0.6 0.4M218.1 113.1l-0.4 0.5" stroke="#b0d0f0" stroke-width="2.5" stroke-opacity="0.8"/>
<path d="M183.2 33.8l0.7 0.7M228.1 94l0.5 0.2M231.8 59.7l0.6 0M153.7 56.1l0.5 0.4" stroke="#90c0f0" stroke-width="3.0" stroke-opacity="0.8"/>
<path d="M181.4 72.3l0.7 0.8M205.8 64.6l-0.8 0.7M217.9 61.5l0.1 1.1M199.4 96.1l-0.8 1M188.1 30.1l-0.2 1M250.8 98.9l0.6 0.6M164.9 85.2l-0.6 1.2M218 33.9l0.5 0.6M188.2 67.6l0.6 1.5M155.7 30.9l-0.2 0.5M254.5 55.2l-0.9 0.8M242.9 78.2l-0.1 0.6" stroke="#a0c0f0" stroke-width="1.5" stroke-opacity="0.8"/>
<path d="M236.8 113.4l-0.6 0.3M252.4 55.6l0.1 0.7M219.4 81.6l0.4 0.5" stroke="#90b0f0" stroke-width="3.0" stroke-opacity="0.8"/>
<path d="M233.6 94.7l-0 0.9M250 64l0 0.5M225.3 98.9l0.5 0.9M146.1 79.3l-0 0.6M226.4 90.6l-1.4 0.5M230.3 118.4l0.4 0.5M221.3 107.8l0.1 1.4M237.4 82.3l1.3 0.6M190.5 71.3l-0.6 0.6" stroke="#90b0f0" stroke-width="1.5" stroke-opacity="0.8"/>
<path d="M179.3 63.6l-0.7 0.8M216.2 110.3l-0.3 1.1M226.2 90.4l-0.2 0.4M221.3 64l1.4 0.8M184.5 45.9l0.8 1.1M206.6 78l-0 0.7M195.7 81.4l0.1 1.8" stroke="#90c0f0" stroke-width="2.0" stroke-opacity="0.8"/>
<path d="M237.1 87.1l1.5 0.6M263.9 115.3l-0.4 0.3M201.8 28.1l-0.3 0.5M241 55.4l1.3 0.6M172.7 64.9l-0.9 0.3M191.9 115.9l1.6 0.8M241 91.8l1.1 1.3M199.1 44l-0.9 0.8M236.7 57l0.1 1.1M182.5 70.6l0 1.1M147.6 107.3l-0.4 0.3M189.3 102.4l-0.7 0M265.1 92l0 0.6" stroke="#90b0f0" stroke-width="2.0" stroke-opacity="0.8"/>
<path d="M206.3 36.7l1.3 0.3M242.4 105.2l-0.6 0.9" stroke="#b0d0f0" stroke-width="1.0" stroke-opacity="0.8"/>
<path d="M268.5 84.5l-0 1.3M145.8 32.2l0.5 1.3M254.5 28.8l-0.4 0.2M218.9 30.6l1 1.4M209.3 31l-0.4 1.2M249.2 57.8l-1 0.1M228.9 114.2l-0.2 1.6M251.7 57.8l0.8 0.3M238.9 71.2l-0.5 0.3M263.2 89.1l-0.8 1.8M147.5 54l-0.1 1.7M171.5 26.2l0.5 0.9M261.9 53.1l-1.1 0.1M160 70.1l-0.5 0M244.5 46.3l1.1 0.7M226.3 38.5l-0.8 0.5" stroke="#a0c0f0" stroke-width="2.0" stroke-opacity="0.8"/>
<path d="M227.3 104.9l-0.3 1.3M160.1 45.4l0.5 0.9M160.7 36.6l0.5 0.7M262.3 86.8l-1 1" stroke="#90b0f0" stroke-width="2.5" stroke-opacity="0.8"/>
<path d="M168 113.3l0.7 0.3M202.8 36.1l0.2 0.7M159 30.9l0.5 0.3M179 101.2l-0.6 0M228.7 99.1l0.8 0.7" stroke="#a0c0f0" stroke-width="3.0" stroke-opacity="0.8"/>
<path d="M183.8 98.8l-1.5 0.6M245.9 63.1l1.7 0.4M181.7 32.9l0.2 0.5" stroke="#80b0f0" stroke-width="1.5" stroke-opacity="0.8"/>
<path d="M201.4 111.7l-0.8 0.5" stroke="#b0d0f0" stroke-width="3.0" stroke-opacity="0.8"/>
<path d="M223.6 88.4l-0.2 1.3M228.8 87.9l0.6 0.3M143.8 52.7l0.6 0.6M162.9 81.5l0.1 0.4M254.4 32.6l-1 0.8" stroke="#b0d0f0" stroke-width="2.0" stroke-opacity="0.8"/>
<path d="M215.7 88.2l-0.2 1.4M176.9 85.4l-1.2 0.3M203.4 71.4l-0.6 0.2M162.3 49.4l0.5 0.7" stroke="#90c0f0" stroke-width="2.5" stroke-opacity="0.8"/>
<path d="M180.6 30.6l-0.8 1.2M151.3 88.4l0.6 0.1M228.8 104.4l0.5 0.1M230.6 93.2l-0.4 1.2M176.2 43.3l1.2 0.2" stroke="#a0c0f0" stroke-width="2.5" stroke-opacity="0.8"/>
<path d="M196.2 57.2l-0.2 0.9M156.6 83.4l-1.1 0.7M213.6 95l0.4 1.1" stroke="#80b0f0" stroke-width="2.0" stroke-opacity="0.8"/>
<path d="M187 117.5l-0.6 0.9M243.4 77.6l1 0.4" stroke="#90c0f0" stroke-width="1.5" stroke-opacity="0.8"/>
<path d="M247 28.4l0.2 0.5" stroke="#80b0f0" stroke-width="3.5" stroke-opacity="0.8"/>
<path d="M224 87.2l1.2 0.7" stroke="#90b0f0" stroke-width="1.0" stroke-opacity="0.8"/>
<path d="M198 35.7l0.8 0.6" stroke="#90c0f0" stroke-width="1.0" stroke-opacity="0.8"/>
<path d="M163.7 101.3l1.1 0.1" stroke="#a0c0f0" stroke-width="1.0" stroke-opacity="0.8"/>
<path d="M173.8 85l0.4 0M198.8 69l0.4 0M212.8 36l0.4 0M227.8 57l0.4 0M170.8 24l0.4 0M146.8 49l0.4 0M263.8 38l0.4 0" stroke="#9c6c3c" stroke-width="2.0" stroke-opacity="0.8"/>
<path d="M205.8 87.6l0.5 0.9" stroke="#a86024" stroke-width="2.5" stroke-opacity="0.8"/>
<path d="M238.6 80l0.8 0" stroke="#183090" stroke-width="3.0" stroke-opacity="0.8"/>
<path d="M239.6 34l0.8 0" stroke="#183090" stroke-width="2.5" stroke-opacity="0.8"/>
</g>
</g>
<clipPath id="cp2"><rect x="12" y="146" width="124" height="95"/></clipPath>
<filter id="bl2" x="-10%" y="-10%" width="120%" height="120%"><feGaussianBlur stdDeviation="2.4"/></filter>
<filter id="sb2"><feGaussianBlur stdDeviation="0.35"/></filter>
<g clip-path="url(#cp2)">
<g filter="url(#bl2)">
<path d="M-13.1 122h13v12.5h-13zM-0.7 122h13v12.5h-13zM11.7 122h13v12.5h-13zM110.9 122h13v12.5h-13zM-13.1 133.8h13v12.5h-13zM-0.7 133.8h13v12.5h-13zM11.7 133.8h13v12.5h-13zM110.9 133.8h13v12.5h-13zM-13.1 145.7h13v12.5h-13zM-0.7 145.7h13v12.5h-13zM11.7 145.7h13v12.5h-13zM110.9 145.7h13v12.5h-13zM61.3 157.6h13v12.5h-13zM73.7 157.6h13v12.5h-13zM110.9 157.6h13v12.5h-13zM-13.1 169.4h13v12.5h-13zM-0.7 169.4h13v12.5h-13zM11.7 169.4h13v12.5h-13zM61.3 169.4h13v12.5h-13zM86.1 169.4h13v12.5h-13zM110.9 169.4h13v12.5h-13zM123.3 169.4h13v12.5h-13zM135.7 169.4h13v12.5h-13zM148.1 169.4h13v12.5h-13zM-13.1 205.1h13v12.5h-13zM-0.7 205.1h13v12.5h-13zM11.7 205.1h13v12.5h-13zM110.9 205.1h13v12.5h-13zM73.7 216.9h13v12.5h-13zM48.9 228.8h13v12.5h-13zM73.7 228.8h13v12.5h-13zM48.9 240.7h13v12.5h-13zM73.7 240.7h13v12.5h-13zM48.9 252.6h13v12.5h-13zM73.7 252.6h13v12.5h-13z" fill="#f6ead2"/>
<path d="M24.1 122h13v12.5h-13zM24.1 133.8h13v12.5h-13zM24.1 145.7h13v12.5h-13zM-13.1 157.6h13v12.5h-13zM-0.7 157.6h13v12.5h-13zM11.7 157.6h13v12.5h-13zM24.1 157.6h13v12.5h-13zM86.1 157.6h13v12.5h-13zM98.5 157.6h13v12.5h-13zM24.1 169.4h13v12.5h-13zM36.5 169.4h13v12.5h-13zM48.9 169.4h13v12.5h-13zM73.7 169.4h13v12.5h-13zM98.5 169.4h13v12.5h-13zM-13.1 181.3h13v12.5h-13zM-0.7 181.3h13v12.5h-13zM11.7 181.3h13v12.5h-13zM24.1 181.3h13v12.5h-13zM48.9 181.3h13v12.5h-13zM61.3 181.3h13v12.5h-13zM73.7 181.3h13v12.5h-13zM86.1 181.3h13v12.5h-13zM98.5 181.3h13v12.5h-13zM110.9 181.3h13v12.5h-13zM-13.1 193.2h13v12.5h-13zM-0.7 193.2h13v12.5h-13zM11.7 193.2h13v12.5h-13zM24.1 193.2h13v12.5h-13zM36.5 193.2h13v12.5h-13zM48.9 193.2h13v12.5h-13zM61.3 193.2h13v12.5h-13zM73.7 193.2h13v12.5h-13zM86.1 193.2h13v12.5h-13zM98.5 193.2h13v12.5h-13zM110.9 193.2h13v12.5h-13zM24.1 205.1h13v12.5h-13zM36.5 205.1h13v12.5h-13zM73.7 205.1h13v12.5h-13zM86.1 205.1h13v12.5h-13zM48.9 216.9h13v12.5h-13zM86.1 216.9h13v12.5h-13zM98.5 216.9h13v12.5h-13z" fill="#f0dec0"/>
<path d="M36.5 122h13v12.5h-13zM48.9 122h13v12.5h-13zM36.5 133.8h13v12.5h-13zM48.9 133.8h13v12.5h-13zM36.5 145.7h13v12.5h-13zM48.9 145.7h13v12.5h-13zM36.5 157.6h13v12.5h-13zM123.3 157.6h13v12.5h-13zM135.7 157.6h13v12.5h-13zM148.1 157.6h13v12.5h-13zM61.3 205.1h13v12.5h-13zM123.3 205.1h13v12.5h-13zM135.7 205.1h13v12.5h-13zM148.1 205.1h13v12.5h-13zM-13.1 216.9h13v12.5h-13zM-0.7 216.9h13v12.5h-13zM11.7 216.9h13v12.5h-13zM24.1 216.9h13v12.5h-13zM123.3 216.9h13v12.5h-13zM135.7 216.9h13v12.5h-13zM148.1 216.9h13v12.5h-13zM-13.1 228.8h13v12.5h-13zM-0.7 228.8h13v12.5h-13zM11.7 228.8h13v12.5h-13zM-13.1 240.7h13v12.5h-13zM-0.7 240.7h13v12.5h-13zM11.7 240.7h13v12.5h-13zM-13.1 252.6h13v12.5h-13zM-0.7 252.6h13v12.5h-13zM11.7 252.6h13v12.5h-13z" fill="#fcf6ea"/>
<path d="M61.3 122h13v12.5h-13zM123.3 122h13v12.5h-13zM135.7 122h13v12.5h-13zM148.1 122h13v12.5h-13zM61.3 133.8h13v12.5h-13zM123.3 133.8h13v12.5h-13zM135.7 133.8h13v12.5h-13zM148.1 133.8h13v12.5h-13zM61.3 145.7h13v12.5h-13zM123.3 145.7h13v12.5h-13zM135.7 145.7h13v12.5h-13zM148.1 145.7h13v12.5h-13z" fill="#f0d8b4"/>
<path d="M73.7 122h13v12.5h-13zM73.7 133.8h13v12.5h-13zM73.7 145.7h13v12.5h-13z" fill="#fcf0e4"/>
<path d="M86.1 122h13v12.5h-13zM86.1 133.8h13v12.5h-13zM86.1 145.7h13v12.5h-13zM123.3 181.3h13v12.5h-13zM135.7 181.3h13v12.5h-13zM148.1 181.3h13v12.5h-13zM123.3 193.2h13v12.5h-13zM135.7 193.2h13v12.5h-13zM148.1 193.2h13v12.5h-13z" fill="#eacc9c"/>
<path d="M98.5 122h13v12.5h-13zM98.5 133.8h13v12.5h-13zM98.5 145.7h13v12.5h-13zM36.5 181.3h13v12.5h-13zM48.9 205.1h13v12.5h-13zM98.5 205.1h13v12.5h-13zM36.5 216.9h13v12.5h-13zM24.1 228.8h13v12.5h-13zM24.1 240.7h13v12.5h-13zM24.1 252.6h13v12.5h-13z" fill="#f0d8ae"/>
<path d="M48.9 157.6h13v12.5h-13zM61.3 216.9h13v12.5h-13zM110.9 216.9h13v12.5h-13zM36.5 228.8h13v12.5h-13zM61.3 228.8h13v12.5h-13zM86.1 228.8h13v12.5h-13zM98.5 228.8h13v12.5h-13zM110.9 228.8h13v12.5h-13zM123.3 228.8h13v12.5h-13zM135.7 228.8h13v12.5h-13zM148.1 228.8h13v12.5h-13zM36.5 240.7h13v12.5h-13zM61.3 240.7h13v12.5h-13zM86.1 240.7h13v12.5h-13zM98.5 240.7h13v12.5h-13zM110.9 240.7h13v12.5h-13zM123.3 240.7h13v12.5h-13zM135.7 240.7h13v12.5h-13zM148.1 240.7h13v12.5h-13zM36.5 252.6h13v12.5h-13zM61.3 252.6h13v12.5h-13zM86.1 252.6h13v12.5h-13zM98.5 252.6h13v12.5h-13zM110.9 252.6h13v12.5h-13zM123.3 252.6h13v12.5h-13zM135.7 252.6h13v12.5h-13zM148.1 252.6h13v12.5h-13z" fill="#fcf0de"/>
</g>
<g filter="url(#sb2)" fill="none" stroke-linecap="round">
<path d="M108.5 146.3l1.9 4.6M95.7 227.4l-3.5 3.8M101.6 184.1l-2.6 3.1M18.9 223.2l-0 3.4M112.7 172.5l-0.7 5.4M25.8 179.6l5.3 0.5M56.8 224.5l-0.9 3.1M21.9 232.3l2.6 5M34 198.4l-0.6 5.5M37.7 171.1l3.5 3M32 181.1l1.8 2.9M56 187.8l4.8 0.2M99 145.3l-2.2 3.3M92.7 163.1l-2.9 2.1M84.6 156.3l2.2 3.7M106.1 219.7l0.8 3.8M11.2 218.8l1.8 3.2M30 175.8l-3.7 3.6M60.6 161.3l4.6 3.9M27.2 220.7l4 0.9M53.6 222.9l-5.2 3M125.1 236.1l-1.9 4.6M16.3 173.5l3.8 3.5M60.6 148.1l-4.3 0.8M59.8 227.8l3.2 0.3M26.3 173.6l1.7 4.4M97.2 144.3l1.4 3.6M120.1 144.4l2.4 3.8M79.3 187.7l3 1.6M99.3 160.2l2.9 3.9M111.5 161.3l0.6 5M70.1 213.4l-3.5 0.2M127 192l-4.8 0.2M43.4 200l2.5 3.9M92 167.5l-3.5 4.8M34.7 211.7l-2.7 5M52 209.3l1.4 2.9M52.1 235.3l2.5 2.3M51 237.6l-4.4 3.2M60.1 230l2.7 3.1M27.3 178.4l-3 1.2M93.5 214.4l1.7 3.9M39.5 223.5l4.8 3.1M132.1 176.3l-4.7 3.2M95.5 150.1l-2.3 3.3M86.8 224.4l3.8 3.7M71.2 154.1l-0 3.2M126 209.6l-5 2.5M56.4 190.1l-0.8 4.6M71.5 153.2l3.5 3.5M131.9 191.1l2.7 2.7M112.2 156.1l-3.2 1.1M119.7 230.5l-5.7 0.7M34.3 189.8l-2.2 2.1M135.2 175.5l-0.7 3.4M81.2 187.8l-5.4 2M95.4 181.5l-2.6 2.2M44.1 196.9l-0.5 4.2M78 167.5l4 3.6M52.2 227.7l-3.6 4.1M113.4 171.8l-3.9 2.6M83 162.6l5 3M85.3 183.2l3.8 1M58.9 221l0.2 3.7M47.9 198.3l-3.9 3.1M86.9 225l-3.5 1M52.5 235l-2.1 4.4M94.5 170.2l-5.1 2.9M52.8 185.1l-2.7 4.1M54.1 226.1l1.1 3M125.4 229.1l-3.2 0.8M102.4 152.1l4.5 1.3M132.3 154.7l-4 4.4M70.3 223.5l-4 2.8M29.9 226.5l4.7 0.9M86.9 211.8l5.4 2.5M61.4 198.3l1.9 2.7M109.2 198.1l-0.6 4.9M111.2 147.2l-0.7 4.5M98.5 191.5l-2.2 3.5M120.5 183.6l0.7 3.8M90.9 145l0.5 4.7M73.1 213.4l5.3 1.3M26.5 183.2l3.8 2.6M117.7 213l4.4 3.9M45.9 209.3l-3.5 3.2M83.6 230.7l-0 4.7M39.9 177.5l4.2 0.7M76.1 196.7l-2.5 2.1M108.6 167l-3 0.2M34.8 217.2l-4 4.1M61.3 149.2l-2.8 3.9M47 210.1l5.1 0.7M15.6 221.1l-0.9 5.7M50 235l2.9 3.5M117 238.7l1.9 4.3M59.5 190.4l5.3 0.8M92.3 149.4l1 3.1M107.5 177.2l3.3 3.6M15.2 202l-3.2 1M117.7 168.1l-5.2 1.7M68.8 212.4l3.8 1M79.6 215.7l3.2 2.5M63.1 201.4l-0.5 3.7M54.9 235.9l-4.4 3.2M109.5 203.1l-3.9 0.6M116.4 214.8l4.6 2.1M64 174.1l0.6 5.3M44.9 156.3l-0.9 3.3M21.1 232.2l-2.9 4.7M92 162.7l-1.2 5.4M82.5 179.4l4.4 0.2M116.4 169.5l2.7 5.1M27.9 166.1l0.2 4.2M68.1 163.6l2.1 2.8M40.5 162.8l3.5 4.3M14.1 170.3l3 0.6M60 193.6l4.9 2.9M47.3 213.1l3.9 3.7M35.1 174.6l-0.3 5.2M135.2 146.1l-0.7 5.9M46.7 236.3l3.4 2.2M23.7 146.6l-4.6 1.1M74 209.2l3.7 0.1M130.2 211.2l1 5.2M60.5 187.6l2.7 2.7M51 152.6l-4.4 1.9M57.1 156.4l-4.1 0.4M86.9 148.6l1.2 4.4M64.8 188.2l2.4 4M58.3 201.7l3.6 0.5M54.5 214.8l-1.3 4.9M24.9 204.8l-1.1 5.7M106.1 171.3l3.8 2M19.5 181l3 4.3M101.9 149.9l3.2 4.9M116.2 196l1.5 4.4M119.3 165.9l-0.8 4.9M130.2 188.3l2.5 5.4M135.5 209.3l-4.2 3.2M33.3 236.9l0.1 4.4M117.6 180.8l4.4 3.5M47.4 191.4l1.5 3.3M49.7 177.7l1.9 3.7M132.4 228.2l-3.3 0.5M41.1 200.5l-4.1 3.7M102.3 161.3l3.4 3.8M45.5 154.6l2.7 3M124 212.9l-2.9 3.1M39.9 201.3l-2.4 1.8M106.9 179.2l4.1 2.1M71 223.3l-1.8 2.9M101.5 178.3l0.1 5.7M92.2 145.8l0 5.2M35.4 208.2l2.6 2.1M59.9 171.9l5.5 0.7M15.4 158.6l0.7 5.1M71.5 200.7l-1.4 5.2M32.7 168.9l-0.4 4.7M94.3 158.1l-1.3 3.2M106.7 229.4l4 3.2M88.9 235.3l-0 4.7M107.4 190.8l2 3.8M27.5 171.4l3 3.7M67.8 181.8l-0 3.2M87.4 188.8l1.8 5.4M81.6 159l4.8 2.1M124.6 224.6l-1.6 4.9M10.4 193.1l3.4 1.1M21.7 198.8l-4.2 1" stroke="#e0b880" stroke-width="0.5" stroke-opacity="0.6"/>
<path d="M30.8 203.4l-0.8 2.1M74.9 152.8l-0.3 0.7" stroke="#f0d8b0" stroke-width="3.0" stroke-opacity="0.8"/>
<path d="M82.3 149.5l-0.1 1.1M15.8 193.5l0.1 1.3M103.6 178.1l0.7 1.6M107.3 190.7l2.5 1.4M29.4 147.2l-1 1.8M87.8 216.5l1.6 0.7M14.1 203.7l-0.3 -0M115.7 160.5l-0.4 0.6M80.4 167.9l-0.2 0.1M65 203.2l0 0.3" stroke="#f0e0c0" stroke-width="3.5" stroke-opacity="0.8"/>
<path d="M121.6 216.2l-1.1 -0.8" stroke="#f8f0e8" stroke-width="3.0" stroke-opacity="0.8"/>
<path d="M87.7 186.8l-0.2 2.3M90.9 184.9l-0.2 0.7M50.2 179.6l-0.6 -1.2" stroke="#f0d8b0" stroke-width="2.5" stroke-opacity="0.8"/>
<path d="M29.6 204.3l0.8 1.4M108.9 216.7l0.1 3M81.9 147.9l0.7 1.9M56 180.2l0.1 0.5" stroke="#f8e8d8" stroke-width="2.0" stroke-opacity="0.8"/>
<path d="M96.8 193.1l0.9 2.6M124.7 160.8l-0.4 2.2M24.8 154.3l-1.2 2.3M36.4 216.6l-0.8 0M116.1 184.1l0.4 1" stroke="#f8e8d8" stroke-width="3.0" stroke-opacity="0.8"/>
<path d="M67.1 208.6l-0.9 1.9M108.4 149.3l-2 0.7M88.3 228.5l1.6 1.4" stroke="#f8e8c8" stroke-width="4.5" stroke-opacity="0.8"/>
<path d="M69.9 234.9l0.8 2.3M123.4 232.1l0 0.2M42.9 234.4l0 0.1M121.5 168l1.8 1.8" stroke="#fff8f0" stroke-width="4.0" stroke-opacity="0.8"/>
<path d="M104.3 201.6l-0.3 2.9M110.7 206l-0 0.4M49.3 210.2l0.3 0.2M126.3 186.6l-0.1 2.4" stroke="#f0d8b0" stroke-width="3.5" stroke-opacity="0.8"/>
<path d="M130.6 195.6l4.4 1M113.9 170.8l3.8 2.6M119.2 208.7l1.2 2.1M69.8 190.8l0.5 0.3M21.5 206.4l1.8 0.4" stroke="#f8e0c8" stroke-width="2.0" stroke-opacity="0.8"/>
<path d="M118.9 229.1l-0.9 1.4M91.8 221.8l-0.8 0.4M48.7 219.7l-0.3 0.9M50.4 228.3l-0.7 2.3M107.2 216.4l2.5 1.3M47.6 204.7l0.3 1.3" stroke="#f0e0c0" stroke-width="2.5" stroke-opacity="0.8"/>
<path d="M128.4 166.2l0.4 0.2M52.8 189.1l-0.8 1M132.6 160.8l-0.7 0.6M126.9 239.1l-0.8 0.7M17 231.3l3.3 2" stroke="#fff8f0" stroke-width="3.0" stroke-opacity="0.8"/>
<path d="M71.5 167.8l-0.1 0.1M85.6 158.8l2.8 2.2M76.2 235.9l-0.2 0.1M92.6 199.1l0.8 0.3" stroke="#f8e0c8" stroke-width="3.0" stroke-opacity="0.8"/>
<path d="M25.7 159.4l2 1.9M48.1 225.1l-0.5 1.3M100.4 225.5l0.2 2.7M26.6 203.5l-0.3 1.5M33.3 187.1l-0.7 0.9M121.4 145.5l1.4 2.2" stroke="#f8e8d0" stroke-width="3.0" stroke-opacity="0.8"/>
<path d="M35.1 172.5l0.4 3.5M29.4 145.6l-0.4 2.5M60.7 223l1.8 0.4M92.6 213.8l-3.6 1.9M106.8 226.2l-0.7 -1.1M45.6 209.3l3.2 0.3M32.9 193.6l-0.9 -0M58.8 219.4l-0.1 0.1" stroke="#f0d8b8" stroke-width="2.5" stroke-opacity="0.8"/>
<path d="M110.6 224.4l2.9 0.9M47.6 154.6l0.5 4.1M126.9 216.8l-0.2 0.5" stroke="#fff8f0" stroke-width="2.5" stroke-opacity="0.8"/>
<path d="M33.1 221.2l-0 -0.3M21.9 220.8l-0.1 -0.4M28.8 148.5l0.5 0" stroke="#f8e8d8" stroke-width="4.0" stroke-opacity="0.8"/>
<path d="M126.2 190.7l-0.3 -0.2" stroke="#e8c090" stroke-width="3.5" stroke-opacity="0.8"/>
<path d="M126.2 211.5l0.2 3M100.3 231.5l-1.8 1M134.8 166.7l0.4 2.5M23.6 200.9l0.9 0.4" stroke="#f8f0e0" stroke-width="4.0" stroke-opacity="0.8"/>
<path d="M129.7 159.1l0 0.8M126.3 214.3l-0 0.1M134.3 224.5l-0.4 1.5M135.1 215.4l0.2 0.8M45.1 156.9l1.1 1M18.6 181.8l-0.3 0M132.6 161.7l0.3 0.3" stroke="#fff8f0" stroke-width="3.5" stroke-opacity="0.8"/>
<path d="M119.8 235.5l2.5 2.4M61.2 154.2l-2.1 1.5M123.5 177.2l-0 0.1M99.8 200l-0.4 0.1M32.8 170.3l0.7 0.7M30.2 151.7l0.1 0.5M48.2 213.3l1.8 2.7" stroke="#f8f0e0" stroke-width="3.0" stroke-opacity="0.8"/>
<path d="M127.5 191.9l-1.7 0.2" stroke="#f0d098" stroke-width="4.0" stroke-opacity="0.8"/>
<path d="M44.2 231.4l3.2 0.8M72.2 165.2l-0.4 0.6M101.5 176.8l-0.3 1.2" stroke="#f0d8b8" stroke-width="3.5" stroke-opacity="0.8"/>
<path d="M97.2 155.3l1.6 1.2M62.2 228.1l0.2 0.8M111.8 173.2l0.7 0.1M77.4 164l-0.7 1.5" stroke="#f8e0c8" stroke-width="4.0" stroke-opacity="0.8"/>
<path d="M31.1 151.9l-0.5 1.1M82 162.3l-1.6 1.5M34.2 148.2l0.3 0.1M34.4 182l-0.8 1.2" stroke="#f0d0a0" stroke-width="3.5" stroke-opacity="0.8"/>
<path d="M54.3 190.6l-0.6 0.6" stroke="#e0b078" stroke-width="4.0" stroke-opacity="0.8"/>
<path d="M22.7 151.2l0.6 0M96.1 223l0.4 2M66.7 197.9l1.5 1.1M122.1 213l0.8 1.4" stroke="#f0d8b0" stroke-width="5.0" stroke-opacity="0.8"/>
<path d="M68.1 240.5l-0 0.1" stroke="#f0e0c0" stroke-width="5.0" stroke-opacity="0.8"/>
<path d="M70.4 226l0.2 1.1M134.2 218.3l-1 3" stroke="#fff8f8" stroke-width="3.0" stroke-opacity="0.8"/>
<path d="M59.3 223.4l-0.3 -0.3M103.7 174l-0.5 -0M87.2 192.5l-0.8 -0M26.7 202l-0.5 1.7" stroke="#f0d8b8" stroke-width="4.0" stroke-opacity="0.8"/>
<path d="M113.4 209.8l-0.9 2M45.7 157.6l0 0M51.4 178.6l-1.9 0.8" stroke="#f8e0c8" stroke-width="4.5" stroke-opacity="0.8"/>
<path d="M48.5 152.6l-2.7 2.9M93.8 238.1l-0.4 1.3" stroke="#f8e8d8" stroke-width="2.5" stroke-opacity="0.8"/>
<path d="M127.3 165.5l0.2 0.2M100.1 237.1l-0.8 0.1M46 158l-3.2 2.8" stroke="#fff8f0" stroke-width="2.0" stroke-opacity="0.8"/>
<path d="M76.9 177.7l-0.1 -0.1M93.1 146.9l-2.1 3.4M37.2 199.4l-0.4 1.2M46.9 230.3l-0.3 -0.3M58.4 227.7l1 1.2M83.6 161.2l2.2 2.1M73 204.3l-0.6 -0.4M109.8 155.1l-0.9 1.5M47.6 198.3l-1.2 -1.2" stroke="#f0e0c0" stroke-width="3.0" stroke-opacity="0.8"/>
<path d="M31.5 146.3l-0.6 2.1M73.7 176.1l-3.8 2.3" stroke="#f0d8a8" stroke-width="2.5" stroke-opacity="0.8"/>
<path d="M47.6 206.8l0.8 1.7M125.2 189.4l-2.2 1.1M80.8 192.9l-0.1 0.5M136.6 155l-2.1 1M58.9 238.4l0 2" stroke="#f0d8b0" stroke-width="2.0" stroke-opacity="0.8"/>
<path d="M42.5 215.6l-0.8 0.2M61.3 226.4l-0.8 1.4M95.5 216.8l0.7 0.2M42.1 177.7l-2.2 2.1" stroke="#f0d8b0" stroke-width="4.0" stroke-opacity="0.8"/>
<path d="M54.4 159.9l-3.3 1.3" stroke="#f8f0e8" stroke-width="2.5" stroke-opacity="0.8"/>
<path d="M129.8 164.6l-0.7 0.2M77.4 161.8l0.4 2.1" stroke="#f8f8e8" stroke-width="3.5" stroke-opacity="0.8"/>
<path d="M114.1 161.6l-0.6 0.8M72.4 234.8l-0.1 0.2M100.4 214.7l-1.4 -0.1M85.4 203l-1.8 0.8" stroke="#f0d0a0" stroke-width="2.5" stroke-opacity="0.8"/>
<path d="M67.2 181l2.9 1.2M64.8 233.8l-2.5 1.2M84.5 153.2l1.2 0.9M117.8 151.7l-1.9 1.6M32.5 194.4l0.8 4" stroke="#f8f0e0" stroke-width="2.5" stroke-opacity="0.8"/>
<path d="M81.9 229.2l-3.1 0.3M70.9 222.8l3.2 2.1M83.1 216.6l-0 -1.3M86.1 226.4l-1 -0.9M18 165.3l0.7 0.4" stroke="#f8e0c8" stroke-width="2.5" stroke-opacity="0.8"/>
<path d="M60.1 155.6l0.5 0.3M33.5 158.5l-0.1 -0.6" stroke="#f8f0d8" stroke-width="3.5" stroke-opacity="0.8"/>
<path d="M107.1 177l0.7 0.5M100.8 190.9l-0 0.7M96.1 228.9l-0.8 -0.3M22.5 199.7l0 0.9" stroke="#f0e0c0" stroke-width="4.0" stroke-opacity="0.8"/>
<path d="M98.6 227.9l-1.7 0.4M68.1 211.9l-1 0.4" stroke="#fff8e8" stroke-width="5.0" stroke-opacity="0.8"/>
<path d="M99.2 211.8l-2.2 0.5M38.3 178.4l1.2 2.1M38.1 149.4l-4.4 1.7" stroke="#f8e8c8" stroke-width="2.0" stroke-opacity="0.8"/>
<path d="M65 176.8l-3.3 2.7M53.8 146.3l2.2 2.9M116.7 231.5l-5 0.4" stroke="#f8f0e8" stroke-width="2.0" stroke-opacity="0.8"/>
<path d="M130.2 238.4l-3 1.1" stroke="#f8f0e8" stroke-width="3.5" stroke-opacity="0.8"/>
<path d="M85.4 227.2l-0.2 -1.2M73.4 187.1l1.1 3M128.3 153.3l-0 0M121 193.4l-2.3 1M99 239l-0.9 -0.3M80.2 180.8l1.9 1.5M68.9 160.6l1.3 2.1" stroke="#f0d8b8" stroke-width="3.0" stroke-opacity="0.8"/>
<path d="M71.6 215l0.2 3.7M35.4 233.7l-1.8 3.4M133.1 202.4l2.4 1.4M21.6 198.8l-5.2 0.3" stroke="#f0e0c0" stroke-width="2.0" stroke-opacity="0.8"/>
<path d="M113.9 231.9l-2.2 1.7M14.1 166.1l-0.1 0.2M133.6 187.1l-0.2 0.4" stroke="#f8e0c8" stroke-width="3.5" stroke-opacity="0.8"/>
<path d="M49.8 193l-1.8 -0.4M51.9 181.7l-1.6 0.9M55.9 188.3l-1.2 1.3M71.8 209.7l-1 1.3" stroke="#f0d0a8" stroke-width="2.5" stroke-opacity="0.8"/>
<path d="M100 213.9l-0.3 0.5M89 154.3l1 2" stroke="#f0d8a8" stroke-width="4.5" stroke-opacity="0.8"/>
<path d="M13.2 228.7l-1 0.2" stroke="#f8f0e8" stroke-width="4.0" stroke-opacity="0.8"/>
<path d="M93.1 161.3l0.8 2" stroke="#f0d098" stroke-width="2.0" stroke-opacity="0.8"/>
<path d="M105.1 206.1l-2.7 3.7M99.6 233.3l1.3 3.4M62.9 232.6l-2.5 2.9M27.9 155.4l-0.8 0.3" stroke="#f8e8d0" stroke-width="2.5" stroke-opacity="0.8"/>
<path d="M40.7 185.9l-0.5 0.6" stroke="#e0b078" stroke-width="2.0" stroke-opacity="0.8"/>
<path d="M83.2 175.3l0.4 2.7" stroke="#e8c898" stroke-width="4.0" stroke-opacity="0.8"/>
<path d="M98.9 194.9l1.5 1.4M45.5 229.1l0 0.3M12.1 162l0.2 0.1" stroke="#f8e8d8" stroke-width="4.5" stroke-opacity="0.8"/>
<path d="M61.7 230.6l-0.8 1.9M114.5 236.4l-0.1 0.2M62.7 199.2l2.7 0.6M111.6 223.4l-0.4 2M37.3 231.6l-1.4 1" stroke="#f8e8d0" stroke-width="3.5" stroke-opacity="0.8"/>
<path d="M40 224.1l-1.5 -0.1M41 169.3l4.3 1.2M23.4 182.6l-0.1 0.4M70.3 171.1l-0.2 0.1M64.9 150.1l0.4 0M73.7 215.8l-2.2 -0.1M59.7 175.5l-0.1 0.1M55.9 155.2l-2.6 0.7" stroke="#f8f0d8" stroke-width="2.5" stroke-opacity="0.8"/>
<path d="M82.8 229l-0 0.6" stroke="#fff8e8" stroke-width="4.0" stroke-opacity="0.8"/>
<path d="M54.4 198.5l-1.5 3.6" stroke="#f8f0d8" stroke-width="3.0" stroke-opacity="0.8"/>
<path d="M134.3 215.9l1.6 1.1" stroke="#f8f8e8" stroke-width="4.5" stroke-opacity="0.8"/>
<path d="M91.1 178.5l-1.1 0.5M25.1 217.5l-0.6 0.5M74.5 219.3l-1 2.4" stroke="#f8e8d0" stroke-width="4.5" stroke-opacity="0.8"/>
<path d="M67 232.6l-2 1.4" stroke="#f8e8d8" stroke-width="3.5" stroke-opacity="0.8"/>
<path d="M108.5 147.2l-0.2 -0.2M73 227.7l-1 -0.1M101.7 173.2l-0.4 0.1M112.2 226.9l-0.5 0.1" stroke="#f8e8d0" stroke-width="4.0" stroke-opacity="0.8"/>
<path d="M14.2 173.1l-4 2.4M84.2 195.2l-0.6 2.1" stroke="#f8e8d0" stroke-width="2.0" stroke-opacity="0.8"/>
<path d="M44.2 199.6l-3.5 3.2M55.3 178.5l-2.3 1.8M84.7 233.4l1.9 0.3M37.8 231.7l1.5 0.7" stroke="#f0e0c0" stroke-width="1.5" stroke-opacity="0.8"/>
<path d="M77.1 185.2l-0.1 -0.1" stroke="#f0d098" stroke-width="4.5" stroke-opacity="0.8"/>
<path d="M128.7 199.1l2.8 0.3" stroke="#d8b078" stroke-width="2.0" stroke-opacity="0.8"/>
<path d="M92.4 197.5l0.3 4.6" stroke="#f8f0e0" stroke-width="1.5" stroke-opacity="0.8"/>
<path d="M103 161.3l-1.5 0.8" stroke="#f0d0a0" stroke-width="2.0" stroke-opacity="0.8"/>
<path d="M103.7 208.5l0.4 2.3M112.9 193.9l0.7 2.1" stroke="#f0d8a8" stroke-width="4.0" stroke-opacity="0.8"/>
<path d="M107.4 234.3l-1.1 0.2M64 178.1l-0.1 0.3" stroke="#f0d8b8" stroke-width="5.0" stroke-opacity="0.8"/>
<path d="M89.8 185.8l0.6 0.2" stroke="#f8e8d0" stroke-width="5.0" stroke-opacity="0.8"/>
<path d="M65.9 158.5l-0.3 1.3M101.3 145.4l-2.1 4.1" stroke="#f0d8b8" stroke-width="2.0" stroke-opacity="0.8"/>
<path d="M20.4 156l-1 0.8M17.2 234.4l1.6 0" stroke="#f8f0e0" stroke-width="4.5" stroke-opacity="0.8"/>
<path d="M24.4 214.6l0.7 0.1" stroke="#f0d0a8" stroke-width="4.5" stroke-opacity="0.8"/>
<path d="M46.2 180.7l1 3.1" stroke="#e8c088" stroke-width="3.5" stroke-opacity="0.8"/>
<path d="M51.2 192l-0.8 2.6M123.9 179.4l-1.7 1.9" stroke="#f0d0a8" stroke-width="4.0" stroke-opacity="0.8"/>
<path d="M117.4 162.3l0.3 0.7" stroke="#f0e0c8" stroke-width="5.0" stroke-opacity="0.8"/>
<path d="M135 197.6l0 1.3M104.5 208.9l0.7 0.7" stroke="#f0d0a0" stroke-width="3.0" stroke-opacity="0.8"/>
<path d="M87.2 228.9l-1.3 -1.3" stroke="#f8f8e8" stroke-width="2.5" stroke-opacity="0.8"/>
<path d="M120.8 155.8l2.7 2.2" stroke="#fff8f0" stroke-width="1.5" stroke-opacity="0.8"/>
<path d="M74.5 226l0 2.4M103.7 168.4l-0 -0.4M78.4 231.4l2 0.1" stroke="#f8f0d8" stroke-width="4.5" stroke-opacity="0.8"/>
<path d="M74.6 165.8l2.6 3.6M38.7 199.1l-4.4 0.4M126.2 232.7l3.1 0.3M67.9 234.8l0.8 0.1M62.4 179.6l-2 0.7" stroke="#f8f0e0" stroke-width="2.0" stroke-opacity="0.8"/>
<path d="M74.3 223.7l2.5 4.3" stroke="#fff8e8" stroke-width="2.0" stroke-opacity="0.8"/>
<path d="M54.9 146.8l0.9 0.4" stroke="#fffff8" stroke-width="5.0" stroke-opacity="0.8"/>
<path d="M96.7 220.3l0.1 0" stroke="#f0d0a0" stroke-width="4.5" stroke-opacity="0.8"/>
<path d="M125.4 237.1l-2.8 0.1M134.6 238l-0.3 2.1M12.4 229.5l0.1 2" stroke="#f8f0e0" stroke-width="3.5" stroke-opacity="0.8"/>
<path d="M114.4 209l-1 0.9M84.6 189.7l0.7 1.1M69.1 175.7l-0.2 0.7" stroke="#f8e8c8" stroke-width="3.5" stroke-opacity="0.8"/>
<path d="M103 171.1l2.4 2.2" stroke="#d8a870" stroke-width="3.5" stroke-opacity="0.8"/>
<path d="M53 239.8l2.9 0.1M99.4 234.5l2.2 2.2" stroke="#fff8e8" stroke-width="3.0" stroke-opacity="0.8"/>
<path d="M70.7 176.1l-2.1 3.4" stroke="#f0d0a0" stroke-width="1.5" stroke-opacity="0.8"/>
<path d="M115.4 185.4l0.1 1.4" stroke="#f8e8d8" stroke-width="5.0" stroke-opacity="0.8"/>
<path d="M103.8 214.8l-1 1.3" stroke="#e0b880" stroke-width="3.5" stroke-opacity="0.8"/>
<path d="M106.5 200.4l0.2 0.1M61.7 174.2l-0.6 0.3" stroke="#e8c090" stroke-width="4.5" stroke-opacity="0.8"/>
<path d="M88.9 147.8l-0 -1.8" stroke="#e0b078" stroke-width="2.5" stroke-opacity="0.8"/>
<path d="M90.7 150.4l2.2 1.9" stroke="#e8c088" stroke-width="4.0" stroke-opacity="0.8"/>
<path d="M111.5 235.9l0.2 4.7M87.6 148.9l-1.9 2.6" stroke="#f8f0d8" stroke-width="2.0" stroke-opacity="0.8"/>
<path d="M98.8 148.1l-2.3 2.5" stroke="#d8a868" stroke-width="2.5" stroke-opacity="0.8"/>
<path d="M100.5 237l0.5 1.3" stroke="#e8c898" stroke-width="5.0" stroke-opacity="0.8"/>
<path d="M106.1 171.8l-0.1 0.1" stroke="#f0d0a8" stroke-width="3.0" stroke-opacity="0.8"/>
<path d="M118.7 182l-2 4.5" stroke="#f8e8d0" stroke-width="1.5" stroke-opacity="0.8"/>
<path d="M33.6 174.6l-0.1 0.3M51.6 228.3l1.2 1.3M93.9 201.4l-0.3 0.2" stroke="#f0e0c0" stroke-width="4.5" stroke-opacity="0.8"/>
<path d="M100.5 217.1l2.3 0.4M24.8 211.2l0.3 2.6" stroke="#f0e0b8" stroke-width="2.0" stroke-opacity="0.8"/>
<path d="M108.7 203l-0 0" stroke="#f0e0b8" stroke-width="4.5" stroke-opacity="0.8"/>
<path d="M57.6 187.5l-1.8 0.5" stroke="#f8f0d8" stroke-width="1.5" stroke-opacity="0.8"/>
<path d="M130.9 204.6l0.8 1.3" stroke="#e8c898" stroke-width="2.0" stroke-opacity="0.8"/>
<path d="M66.8 215.7l-1.3 1.1M41 163.9l-2.5 1.2" stroke="#f8f8e8" stroke-width="1.5" stroke-opacity="0.8"/>
<path d="M41.3 208.6l-2.6 1.1M19.4 176.5l-0 -0.1" stroke="#f8e8c8" stroke-width="2.5" stroke-opacity="0.8"/>
<path d="M48 165.1l-0.3 0.1" stroke="#fffff8" stroke-width="4.0" stroke-opacity="0.8"/>
<path d="M90.5 150.3l-0.6 -0.2" stroke="#f0d0a0" stroke-width="4.0" stroke-opacity="0.8"/>
<path d="M58.4 201l-0 0" stroke="#f0d8b8" stroke-width="4.5" stroke-opacity="0.8"/>
<path d="M33.9 240.2l0.1 0" stroke="#f0d0a0" stroke-width="5.0" stroke-opacity="0.8"/>
<path d="M23.7 164.6l-3.5 0.4" stroke="#f0d8a8" stroke-width="2.0" stroke-opacity="0.8"/>
<path d="M132.5 204.8l-0.4 1.5M84.3 234.1l2 0.9" stroke="#fff8e8" stroke-width="4.5" stroke-opacity="0.8"/>
<path d="M100.3 234.4l3.6 2" stroke="#f8e8d8" stroke-width="1.5" stroke-opacity="0.8"/>
<path d="M107.6 162.6l0.4 1.3" stroke="#f8f0d8" stroke-width="5.0" stroke-opacity="0.8"/>
<path d="M106.7 238.8l0.4 0.1" stroke="#f8e8c8" stroke-width="4.0" stroke-opacity="0.8"/>
<path d="M66.7 156.8l-1.4 2.1" stroke="#e8c890" stroke-width="2.5" stroke-opacity="0.8"/>
<path d="M53 179.3l4.6 2.6" stroke="#e0b888" stroke-width="1.5" stroke-opacity="0.8"/>
<path d="M26.1 170.8l1.2 1.5" stroke="#f0d8a8" stroke-width="3.5" stroke-opacity="0.8"/>
<path d="M78.6 169.9l0.7 0.5M98.8 214.6l-0.8 0.7M127.3 170.8l-0.4 0.2M38.2 216.4l-0.2 1" stroke="#6c78b4" stroke-width="3.5" stroke-opacity="0.8"/>
<path d="M21.6 201.4l0.4 1M55.1 149.2l0.6 0.5M114.2 189.2l-0.5 0.6M38 206l0 0.9M109.1 191.8l0.8 0.5M102.7 212.5l-0.1 0.4M103.8 203.5l0.7 0.2M84.7 151.6l-0.7 0.3M118.1 195.4l0.6 0.3" stroke="#7884c0" stroke-width="3.5" stroke-opacity="0.8"/>
<path d="M131.1 215l-0.2 0.8M90.7 204.8l-1 0.5M76.9 191.4l-0.5 0.5M63.1 205.9l-0.2 0.8M117.2 166l-0.3 0.7M84.8 160.6l0.3 0.4M27.3 154.7l-0.5 0.6M22.8 209.7l-0 1M105.7 220l0.6 0.3M111.3 185.3l0.8 0.5M86.3 210.8l-0.2 0.7M46.4 228.2l-0.2 0.8" stroke="#7884c0" stroke-width="3.0" stroke-opacity="0.8"/>
<path d="M114.5 191.8l0.4 0.1M108.9 150.9l-0.6 0.5M94.5 224.8l0.6 0.4" stroke="#606cb4" stroke-width="3.5" stroke-opacity="0.8"/>
<path d="M114 232.3l0.8 0.4M112.5 148.1l0.7 0.8M90.6 193.1l0.2 0.5M117.4 210.1l-0.6 0.5M116.4 199.9l0.3 0.8M54.7 175.5l0.5 0.5M76.9 203.7l0.3 1.1M98.7 200.2l-0.5 0.7M39.2 211l0.3 0.7M14.8 178.7l0.6 0.8M85.3 160.5l0.4 0.6M16.8 181.1l0.1 1" stroke="#606cb4" stroke-width="3.0" stroke-opacity="0.8"/>
<path d="M42.4 238.7l0.6 0.1M110.1 146.8l0.5 0.4M65.7 203l-0.2 0.6" stroke="#606cb4" stroke-width="4.0" stroke-opacity="0.8"/>
<path d="M123.8 153.9l0.6 0.1M24.4 238.6l0.2 0.6M88.1 192.9l0.5 0.1" stroke="#6c78c0" stroke-width="4.0" stroke-opacity="0.8"/>
<path d="M132.9 180.4l0.2 0.7M35 163l0.2 0.5M102.9 166l-1.1 0.1" stroke="#5460b4" stroke-width="3.0" stroke-opacity="0.8"/>
<path d="M64.2 218.8l-0 1M76.7 180.2l0.2 0.5M36.7 219.6l0.1 0.8M18.2 159.3l-0.4 0.2" stroke="#6c78b4" stroke-width="3.0" stroke-opacity="0.8"/>
<path d="M47.9 205.6l-0.5 0.2M53.8 171.2l0.1 0.7M73.6 235.2l-0.9 0.6M62.4 153.7l-0.9 0M47 189.4l1 0.6M63.5 154.3l-1 0.2M89.6 235.3l-1.1 0.1" stroke="#6c78c0" stroke-width="3.0" stroke-opacity="0.8"/>
<path d="M118.7 152.2l0.7 0M65.6 194.2l-0.7 0.1" stroke="#7884c0" stroke-width="4.0" stroke-opacity="0.8"/>
<path d="M100.2 167.8l0.5 0.5" stroke="#6078b4" stroke-width="3.0" stroke-opacity="0.8"/>
<path d="M49.5 224.3l0.6 0.7M49.5 148.9l0.5 0.6" stroke="#5460b4" stroke-width="4.0" stroke-opacity="0.8"/>
<path d="M109 220l-0.4 0.6" stroke="#7878c0" stroke-width="2.5" stroke-opacity="0.8"/>
<path d="M82.7 177.9l-0 0.9" stroke="#7884c0" stroke-width="2.5" stroke-opacity="0.8"/>
<path d="M124.2 202.6l-0 0.6" stroke="#546cb4" stroke-width="3.5" stroke-opacity="0.8"/>
<path d="M42.8 163.1l-0.4 0.3" stroke="#6c78b4" stroke-width="4.0" stroke-opacity="0.8"/>
<path d="M91 178.5l0 0.6M120.4 184.8l0.9 0.8M48.2 146.9l-0.3 0.4M68 152.8l-0.3 1" stroke="#6c78c0" stroke-width="3.5" stroke-opacity="0.8"/>
<path d="M120.1 212.9l0.9 0" stroke="#606cb4" stroke-width="2.5" stroke-opacity="0.8"/>
<path d="M37.6 180.4l-0.6 0.3" stroke="#6c78b4" stroke-width="2.5" stroke-opacity="0.8"/>
<path d="M48.8 221.6l0.8 0.4M83.6 178.8l-0.5 0.3M95.6 239.4l1 0.2" stroke="#5460b4" stroke-width="3.5" stroke-opacity="0.8"/>
<path d="M102.9 213.1l-0.3 0.4" stroke="#6078b4" stroke-width="3.5" stroke-opacity="0.8"/>
<path d="M88.5 206.7l-0.9 0.2" stroke="#546cb4" stroke-width="2.5" stroke-opacity="0.8"/>
<path d="M63.5 160.9l-0.7 0.3M39.5 165l-0.1 0.3M60.4 149.3l0.1 0.3M55.8 151.7l-0.2 0.5M63 169.3l-0 -0M42.2 160.1l0 0.1M57.4 163.3l-0.1 0.8M60.4 149.3l-0.1 -0.1M40.2 164.9l-0.2 0.2M59.5 166.8l-0.3 0.2M42.2 155.9l0.9 0.6M42.5 156.8l0.1 0.2M54.4 152l0.6 0.3M57.4 155.8l-0.9 0.2M50.3 154.5l0.1 0.2M46 166.6l-0.3 0.6M52.9 161.7l0.9 0.4M41.8 156.7l0.4 0.8M56.4 160.5l-0.1 0.2" stroke="#4860c0" stroke-width="2.0" stroke-opacity="0.8"/>
<path d="M59 147.4l-0 0.1M61.5 155.7l0.4 0.1M60.3 146.8l0.1 0.1M60.4 161.1l0 0M41.9 146.9l-0 0.1" stroke="#4860c0" stroke-width="2.5" stroke-opacity="0.8"/>
<path d="M51.7 152.5l-0.7 0.7M61.7 160.2l-0.3 0.2M39.8 164.8l-0 0.8M62.9 167l0.9 0.8" stroke="#4860c0" stroke-width="1.5" stroke-opacity="0.8"/>
<path d="M78.6 169.9l0.7 0.5M98.8 214.6l-0.8 0.7M120.4 184.8l0.9 0.8M47 189.4l1 0.6M48.2 146.9l-0.3 0.4M127.3 170.8l-0.4 0.2M38.2 216.4l-0.2 1" stroke="#9ca8d8" stroke-width="2.0" stroke-opacity="0.8"/>
<path d="M21.6 201.4l0.4 1M90.7 204.8l-1 0.5M114.2 189.2l-0.5 0.6M105.7 220l0.6 0.3M38 206l0 0.9M109.1 191.8l0.8 0.5M102.7 212.5l-0.1 0.4M103.8 203.5l0.7 0.2M84.7 151.6l-0.7 0.3M63.5 154.3l-1 0.2M89.6 235.3l-1.1 0.1" stroke="#a8a8d8" stroke-width="2.0" stroke-opacity="0.8"/>
<path d="M131.1 215l-0.2 0.8M117.2 166l-0.3 0.7M47.9 205.6l-0.5 0.2M84.8 160.6l0.3 0.4M27.3 154.7l-0.5 0.6M109 220l-0.4 0.6M82.7 177.9l-0 0.9M111.3 185.3l0.8 0.5M46.4 228.2l-0.2 0.8" stroke="#a8a8d8" stroke-width="1.5" stroke-opacity="0.8"/>
<path d="M114.5 191.8l0.4 0.1M112.5 148.1l0.7 0.8M108.9 150.9l-0.6 0.5M102.9 213.1l-0.3 0.4M94.5 224.8l0.6 0.4M14.8 178.7l0.6 0.8M85.3 160.5l0.4 0.6M16.8 181.1l0.1 1" stroke="#9ca8cc" stroke-width="2.0" stroke-opacity="0.8"/>
<path d="M76.9 191.4l-0.5 0.5" stroke="#a8b4d8" stroke-width="2.0" stroke-opacity="0.8"/>
<path d="M63.1 205.9l-0.2 0.8M22.8 209.7l-0 1M86.3 210.8l-0.2 0.7" stroke="#a8b4d8" stroke-width="1.5" stroke-opacity="0.8"/>
<path d="M114 232.3l0.8 0.4M117.4 210.1l-0.6 0.5M116.4 199.9l0.3 0.8M54.7 175.5l0.5 0.5M98.7 200.2l-0.5 0.7M39.2 211l0.3 0.7" stroke="#9ca8cc" stroke-width="1.5" stroke-opacity="0.8"/>
<path d="M42.4 238.7l0.6 0.1M110.1 146.8l0.5 0.4M65.7 203l-0.2 0.6" stroke="#9ca8cc" stroke-width="2.5" stroke-opacity="0.8"/>
<path d="M123.8 153.9l0.6 0.1M55.1 149.2l0.6 0.5M118.7 152.2l0.7 0M24.4 238.6l0.2 0.6M68 152.8l-0.3 1M88.1 192.9l0.5 0.1M65.6 194.2l-0.7 0.1" stroke="#a8a8d8" stroke-width="2.5" stroke-opacity="0.8"/>
<path d="M132.9 180.4l0.2 0.7M124.2 202.6l-0 0.6M76.9 203.7l0.3 1.1M102.9 166l-1.1 0.1M95.6 239.4l1 0.2" stroke="#9c9ccc" stroke-width="2.0" stroke-opacity="0.8"/>
<path d="M64.2 218.8l-0 1M76.7 180.2l0.2 0.5M100.2 167.8l0.5 0.5M53.8 171.2l0.1 0.7M36.7 219.6l0.1 0.8M73.6 235.2l-0.9 0.6M62.4 153.7l-0.9 0M18.2 159.3l-0.4 0.2M37.6 180.4l-0.6 0.3" stroke="#9ca8d8" stroke-width="1.5" stroke-opacity="0.8"/>
<path d="M90.6 193.1l0.2 0.5M35 163l0.2 0.5" stroke="#9c9ccc" stroke-width="1.5" stroke-opacity="0.8"/>
<path d="M49.5 224.3l0.6 0.7M48.8 221.6l0.8 0.4M49.5 148.9l0.5 0.6M83.6 178.8l-0.5 0.3" stroke="#9c9ccc" stroke-width="2.5" stroke-opacity="0.8"/>
<path d="M42.8 163.1l-0.4 0.3M91 178.5l0 0.6" stroke="#9ca8d8" stroke-width="2.5" stroke-opacity="0.8"/>
<path d="M120.1 212.9l0.9 0" stroke="#9ca8cc" stroke-width="1.0" stroke-opacity="0.8"/>
<path d="M118.1 195.4l0.6 0.3" stroke="#a8b4d8" stroke-width="2.5" stroke-opacity="0.8"/>
<path d="M88.5 206.7l-0.9 0.2" stroke="#9c9ccc" stroke-width="1.0" stroke-opacity="0.8"/>
<path d="M89.5 149l7 0" stroke="#b46c3c" stroke-width="9.0" stroke-opacity="0.8"/>
<path d="M89 150l2 0" stroke="#603c24" stroke-width="4.0" stroke-opacity="0.8"/>
<path d="M95 149l2 0" stroke="#6c6090" stroke-width="4.0" stroke-opacity="0.6"/>
<path d="M66 147.5l6 0" stroke="#483024" stroke-width="4.0" stroke-opacity="0.8"/>
<path d="M127.5 195l1 0M128.5 200l1 0M41.5 225l1 0M59.5 216l1 0M29.5 228l1 0M116.5 193l1 0M51.5 220l1 0M121.5 206l1 0" stroke="#90603c" stroke-width="2.0" stroke-opacity="0.6"/>
</g>
</g>
<clipPath id="cp3"><rect x="144" y="146" width="125" height="95"/></clipPath>
<filter id="bl3" x="-10%" y="-10%" width="120%" height="120%"><feGaussianBlur stdDeviation="2.4"/></filter>
<filter id="sb3"><feGaussianBlur stdDeviation="0.35"/></filter>
<g clip-path="url(#cp3)">
<filter id="fb3"><feGaussianBlur stdDeviation="0.7"/></filter><g filter="url(#fb3)">
<path d="M144 146h2v2h-2zM148 150h2v2h-2zM188 150h2v2h-2zM218 150h2v2h-2zM188 152h2v2h-2zM240 158h2v2h-2zM168 170h2v2h-2zM262 172h2v2h-2zM206 176h2v2h-2zM160 178h2v2h-2zM204 178h2v2h-2zM204 180h2v2h-2zM214 182h2v2h-2zM216 182h2v2h-2zM242 182h2v2h-2zM266 186h2v2h-2zM174 188h2v2h-2zM150 192h2v2h-2zM194 192h2v2h-2zM210 192h2v2h-2zM218 192h2v2h-2zM246 192h2v2h-2zM212 194h2v2h-2zM236 194h2v2h-2zM190 198h2v2h-2zM266 202h2v2h-2zM238 206h2v2h-2zM248 206h2v2h-2zM216 210h2v2h-2zM166 212h2v2h-2zM238 212h2v2h-2zM238 214h2v2h-2zM188 216h2v2h-2zM238 218h2v2h-2zM162 220h2v2h-2zM148 222h2v2h-2zM178 222h2v2h-2zM252 222h2v2h-2zM152 226h2v2h-2zM198 226h2v2h-2zM232 232h2v2h-2zM244 232h2v2h-2zM184 238h2v2h-2zM164 240h2v2h-2z" fill="#e09038" shape-rendering="crispEdges"/>
<path d="M146 146h2v2h-2zM212 146h2v2h-2zM144 148h2v2h-2zM196 148h2v2h-2zM146 154h2v2h-2zM260 154h2v2h-2zM254 158h2v2h-2zM254 166h2v2h-2zM216 170h2v2h-2zM170 172h2v2h-2zM218 176h2v2h-2zM208 180h2v2h-2zM266 180h2v2h-2zM172 182h2v2h-2zM176 186h2v2h-2zM246 188h2v2h-2zM184 190h2v2h-2zM248 190h2v2h-2zM228 196h2v2h-2zM266 196h2v2h-2zM238 198h2v2h-2zM168 200h2v2h-2zM170 200h2v2h-2zM150 204h2v2h-2zM192 204h2v2h-2zM156 214h2v2h-2zM208 214h2v2h-2zM216 214h2v2h-2zM230 214h2v2h-2zM144 218h2v2h-2zM186 218h2v2h-2zM192 218h2v2h-2zM244 218h2v2h-2zM246 218h2v2h-2zM222 220h2v2h-2zM196 222h2v2h-2zM210 222h2v2h-2zM182 226h2v2h-2zM242 232h2v2h-2zM250 232h2v2h-2zM238 234h2v2h-2zM246 234h2v2h-2zM264 234h2v2h-2zM146 236h2v2h-2zM168 236h2v2h-2zM176 236h2v2h-2zM148 238h2v2h-2zM172 238h2v2h-2zM252 238h2v2h-2zM260 238h2v2h-2zM174 240h2v2h-2zM226 240h2v2h-2zM232 240h2v2h-2zM260 240h2v2h-2zM268 240h2v2h-2z" fill="#f0b068" shape-rendering="crispEdges"/>
<path d="M148 146h2v2h-2zM180 146h2v2h-2zM234 146h2v2h-2zM224 148h2v2h-2zM236 148h2v2h-2zM246 148h2v2h-2zM182 150h2v2h-2zM192 150h2v2h-2zM212 150h2v2h-2zM242 150h2v2h-2zM202 152h2v2h-2zM208 152h2v2h-2zM222 152h2v2h-2zM244 152h2v2h-2zM240 154h2v2h-2zM188 156h2v2h-2zM230 156h2v2h-2zM230 158h2v2h-2zM224 160h2v2h-2zM242 160h2v2h-2zM206 162h2v2h-2zM210 162h2v2h-2zM224 162h2v2h-2zM266 164h2v2h-2zM158 166h2v2h-2zM216 166h2v2h-2zM250 166h2v2h-2zM202 168h2v2h-2zM204 168h2v2h-2zM250 168h2v2h-2zM264 168h2v2h-2zM166 170h2v2h-2zM218 170h2v2h-2zM252 170h2v2h-2zM200 172h2v2h-2zM180 174h2v2h-2zM164 176h2v2h-2zM196 176h2v2h-2zM248 176h2v2h-2zM246 180h2v2h-2zM164 182h2v2h-2zM202 182h2v2h-2zM220 182h2v2h-2zM244 182h2v2h-2zM164 184h2v2h-2zM170 184h2v2h-2zM182 186h2v2h-2zM218 186h2v2h-2zM226 186h2v2h-2zM230 186h2v2h-2zM148 188h2v2h-2zM166 188h2v2h-2zM170 188h2v2h-2zM172 188h2v2h-2zM242 188h2v2h-2zM258 188h2v2h-2zM260 188h2v2h-2zM244 190h2v2h-2zM250 190h2v2h-2zM258 190h2v2h-2zM196 192h2v2h-2zM198 192h2v2h-2zM244 192h2v2h-2zM258 192h2v2h-2zM152 194h2v2h-2zM206 194h2v2h-2zM246 194h2v2h-2zM248 194h2v2h-2zM260 194h2v2h-2zM152 196h2v2h-2zM194 196h2v2h-2zM206 196h2v2h-2zM250 196h2v2h-2zM256 196h2v2h-2zM156 198h2v2h-2zM194 198h2v2h-2zM216 198h2v2h-2zM242 198h2v2h-2zM208 200h2v2h-2zM210 200h2v2h-2zM256 200h2v2h-2zM198 202h2v2h-2zM204 202h2v2h-2zM264 202h2v2h-2zM268 202h2v2h-2zM152 204h2v2h-2zM206 204h2v2h-2zM210 204h2v2h-2zM206 206h2v2h-2zM220 206h2v2h-2zM156 208h2v2h-2zM194 208h2v2h-2zM254 208h2v2h-2zM180 210h2v2h-2zM188 210h2v2h-2zM194 210h2v2h-2zM240 210h2v2h-2zM154 212h2v2h-2zM156 212h2v2h-2zM160 214h2v2h-2zM166 214h2v2h-2zM254 214h2v2h-2zM242 216h2v2h-2zM250 216h2v2h-2zM242 218h2v2h-2zM248 218h2v2h-2zM250 220h2v2h-2zM158 222h2v2h-2zM226 222h2v2h-2zM228 222h2v2h-2zM256 222h2v2h-2zM208 224h2v2h-2zM256 224h2v2h-2zM260 224h2v2h-2zM166 226h2v2h-2zM212 226h2v2h-2zM218 226h2v2h-2zM220 226h2v2h-2zM248 226h2v2h-2zM256 226h2v2h-2zM258 226h2v2h-2zM194 228h2v2h-2zM152 230h2v2h-2zM192 230h2v2h-2zM196 230h2v2h-2zM220 230h2v2h-2zM264 230h2v2h-2zM146 232h2v2h-2zM152 232h2v2h-2zM192 232h2v2h-2zM264 232h2v2h-2zM158 234h2v2h-2zM222 234h2v2h-2zM256 234h2v2h-2zM268 234h2v2h-2zM160 236h2v2h-2zM186 236h2v2h-2zM224 236h2v2h-2zM258 236h2v2h-2zM212 238h2v2h-2zM198 240h2v2h-2z" fill="#d87828" shape-rendering="crispEdges"/>
<path d="M150 146h2v2h-2zM158 148h2v2h-2zM158 150h2v2h-2zM214 152h2v2h-2zM220 154h2v2h-2zM158 156h2v2h-2zM190 156h2v2h-2zM198 156h2v2h-2zM216 156h2v2h-2zM218 156h2v2h-2zM246 156h2v2h-2zM200 158h2v2h-2zM204 158h2v2h-2zM206 158h2v2h-2zM244 158h2v2h-2zM188 160h2v2h-2zM228 160h2v2h-2zM186 162h2v2h-2zM194 162h2v2h-2zM198 162h2v2h-2zM240 162h2v2h-2zM198 164h2v2h-2zM226 164h2v2h-2zM234 164h2v2h-2zM152 166h2v2h-2zM164 166h2v2h-2zM184 166h2v2h-2zM234 166h2v2h-2zM262 166h2v2h-2zM264 166h2v2h-2zM146 168h2v2h-2zM160 168h2v2h-2zM162 168h2v2h-2zM164 168h2v2h-2zM226 168h2v2h-2zM230 168h2v2h-2zM234 168h2v2h-2zM258 168h2v2h-2zM162 170h2v2h-2zM186 170h2v2h-2zM230 172h2v2h-2zM194 174h2v2h-2zM260 174h2v2h-2zM254 176h2v2h-2zM228 178h2v2h-2zM256 178h2v2h-2zM258 178h2v2h-2zM192 180h2v2h-2zM238 180h2v2h-2zM252 180h2v2h-2zM166 182h2v2h-2zM230 182h2v2h-2zM234 182h2v2h-2zM254 182h2v2h-2zM262 182h2v2h-2zM252 184h2v2h-2zM254 184h2v2h-2zM186 186h2v2h-2zM252 186h2v2h-2zM254 188h2v2h-2zM184 194h2v2h-2zM150 200h2v2h-2zM160 200h2v2h-2zM186 200h2v2h-2zM152 202h2v2h-2zM154 202h2v2h-2zM156 202h2v2h-2zM214 202h2v2h-2zM218 202h2v2h-2zM178 204h2v2h-2zM256 204h2v2h-2zM262 204h2v2h-2zM196 206h2v2h-2zM256 206h2v2h-2zM176 208h2v2h-2zM198 208h2v2h-2zM200 210h2v2h-2zM202 210h2v2h-2zM256 210h2v2h-2zM200 212h2v2h-2zM202 212h2v2h-2zM200 214h2v2h-2zM260 216h2v2h-2zM260 218h2v2h-2zM262 222h2v2h-2zM266 224h2v2h-2zM236 226h2v2h-2zM238 226h2v2h-2zM262 226h2v2h-2zM268 226h2v2h-2zM200 228h2v2h-2zM212 228h2v2h-2zM238 228h2v2h-2zM224 230h2v2h-2zM160 232h2v2h-2zM200 232h2v2h-2zM224 232h2v2h-2zM192 236h2v2h-2zM204 236h2v2h-2zM190 238h2v2h-2zM192 238h2v2h-2z" fill="#a05018" shape-rendering="crispEdges"/>
<path d="M152 146h2v2h-2zM154 146h2v2h-2zM156 146h2v2h-2zM226 146h2v2h-2zM228 146h2v2h-2zM230 146h2v2h-2zM152 148h2v2h-2zM154 148h2v2h-2zM156 148h2v2h-2zM226 148h2v2h-2zM228 148h2v2h-2zM230 148h2v2h-2zM232 148h2v2h-2zM152 150h2v2h-2zM154 150h2v2h-2zM156 150h2v2h-2zM226 150h2v2h-2zM228 150h2v2h-2zM230 150h2v2h-2zM232 150h2v2h-2zM152 152h2v2h-2zM154 152h2v2h-2zM156 152h2v2h-2zM226 152h2v2h-2zM228 152h2v2h-2zM230 152h2v2h-2zM152 154h2v2h-2zM154 154h2v2h-2zM156 154h2v2h-2zM206 154h2v2h-2zM208 154h2v2h-2zM210 154h2v2h-2zM212 154h2v2h-2zM214 154h2v2h-2zM216 154h2v2h-2zM226 154h2v2h-2zM228 154h2v2h-2zM154 156h2v2h-2zM156 156h2v2h-2zM194 156h2v2h-2zM206 156h2v2h-2zM208 156h2v2h-2zM210 156h2v2h-2zM212 156h2v2h-2zM192 158h2v2h-2zM194 158h2v2h-2zM196 158h2v2h-2zM198 158h2v2h-2zM246 158h2v2h-2zM190 160h2v2h-2zM192 160h2v2h-2zM194 160h2v2h-2zM196 160h2v2h-2zM198 160h2v2h-2zM200 160h2v2h-2zM202 160h2v2h-2zM246 160h2v2h-2zM150 162h2v2h-2zM188 162h2v2h-2zM200 162h2v2h-2zM144 164h2v2h-2zM146 164h2v2h-2zM148 164h2v2h-2zM150 164h2v2h-2zM152 164h2v2h-2zM188 164h2v2h-2zM190 164h2v2h-2zM192 164h2v2h-2zM194 164h2v2h-2zM200 164h2v2h-2zM228 164h2v2h-2zM230 164h2v2h-2zM232 164h2v2h-2zM238 164h2v2h-2zM240 164h2v2h-2zM242 164h2v2h-2zM144 166h2v2h-2zM146 166h2v2h-2zM186 166h2v2h-2zM188 166h2v2h-2zM190 166h2v2h-2zM192 166h2v2h-2zM194 166h2v2h-2zM196 166h2v2h-2zM198 166h2v2h-2zM200 166h2v2h-2zM206 166h2v2h-2zM226 166h2v2h-2zM228 166h2v2h-2zM230 166h2v2h-2zM236 166h2v2h-2zM238 166h2v2h-2zM240 166h2v2h-2zM242 166h2v2h-2zM144 168h2v2h-2zM154 168h2v2h-2zM188 168h2v2h-2zM190 168h2v2h-2zM192 168h2v2h-2zM194 168h2v2h-2zM228 168h2v2h-2zM236 168h2v2h-2zM238 168h2v2h-2zM240 168h2v2h-2zM144 170h2v2h-2zM154 170h2v2h-2zM156 170h2v2h-2zM158 170h2v2h-2zM160 170h2v2h-2zM188 170h2v2h-2zM190 170h2v2h-2zM192 170h2v2h-2zM194 170h2v2h-2zM236 170h2v2h-2zM238 170h2v2h-2zM240 170h2v2h-2zM258 170h2v2h-2zM144 172h2v2h-2zM158 172h2v2h-2zM160 172h2v2h-2zM184 172h2v2h-2zM186 172h2v2h-2zM188 172h2v2h-2zM190 172h2v2h-2zM192 172h2v2h-2zM238 172h2v2h-2zM240 172h2v2h-2zM256 172h2v2h-2zM258 172h2v2h-2zM182 174h2v2h-2zM184 174h2v2h-2zM186 174h2v2h-2zM188 174h2v2h-2zM190 174h2v2h-2zM192 174h2v2h-2zM240 174h2v2h-2zM256 174h2v2h-2zM258 174h2v2h-2zM182 176h2v2h-2zM184 176h2v2h-2zM186 176h2v2h-2zM188 176h2v2h-2zM190 176h2v2h-2zM192 176h2v2h-2zM222 176h2v2h-2zM240 176h2v2h-2zM256 176h2v2h-2zM258 176h2v2h-2zM180 178h2v2h-2zM182 178h2v2h-2zM184 178h2v2h-2zM186 178h2v2h-2zM188 178h2v2h-2zM190 178h2v2h-2zM192 178h2v2h-2zM222 178h2v2h-2zM224 178h2v2h-2zM226 178h2v2h-2zM180 180h2v2h-2zM182 180h2v2h-2zM184 180h2v2h-2zM186 180h2v2h-2zM188 180h2v2h-2zM190 180h2v2h-2zM226 180h2v2h-2zM228 180h2v2h-2zM230 180h2v2h-2zM232 180h2v2h-2zM234 180h2v2h-2zM256 180h2v2h-2zM258 180h2v2h-2zM182 182h2v2h-2zM184 182h2v2h-2zM186 182h2v2h-2zM188 182h2v2h-2zM190 182h2v2h-2zM226 182h2v2h-2zM228 182h2v2h-2zM256 182h2v2h-2zM258 182h2v2h-2zM260 182h2v2h-2zM184 184h2v2h-2zM186 184h2v2h-2zM188 184h2v2h-2zM190 184h2v2h-2zM260 184h2v2h-2zM184 196h2v2h-2zM186 196h2v2h-2zM176 198h2v2h-2zM178 198h2v2h-2zM180 198h2v2h-2zM182 198h2v2h-2zM184 198h2v2h-2zM176 200h2v2h-2zM178 200h2v2h-2zM180 200h2v2h-2zM182 200h2v2h-2zM184 200h2v2h-2zM176 202h2v2h-2zM178 202h2v2h-2zM180 202h2v2h-2zM260 202h2v2h-2zM176 204h2v2h-2zM258 204h2v2h-2zM258 206h2v2h-2zM260 206h2v2h-2zM262 206h2v2h-2zM264 206h2v2h-2zM266 206h2v2h-2zM200 208h2v2h-2zM258 208h2v2h-2zM260 208h2v2h-2zM262 208h2v2h-2zM264 208h2v2h-2zM266 208h2v2h-2zM268 208h2v2h-2zM258 210h2v2h-2zM260 210h2v2h-2zM264 210h2v2h-2zM266 210h2v2h-2zM268 210h2v2h-2zM256 212h2v2h-2zM258 212h2v2h-2zM260 212h2v2h-2zM266 212h2v2h-2zM268 212h2v2h-2zM258 214h2v2h-2zM262 214h2v2h-2zM264 214h2v2h-2zM266 214h2v2h-2zM268 214h2v2h-2zM264 216h2v2h-2zM266 216h2v2h-2zM268 216h2v2h-2zM262 218h2v2h-2zM264 218h2v2h-2zM266 218h2v2h-2zM268 218h2v2h-2zM202 220h2v2h-2zM204 220h2v2h-2zM260 220h2v2h-2zM262 220h2v2h-2zM264 220h2v2h-2zM266 220h2v2h-2zM268 220h2v2h-2zM202 222h2v2h-2zM204 222h2v2h-2zM264 222h2v2h-2zM268 222h2v2h-2zM202 224h2v2h-2zM204 224h2v2h-2zM264 224h2v2h-2zM202 226h2v2h-2zM204 226h2v2h-2zM206 226h2v2h-2zM226 226h2v2h-2zM228 226h2v2h-2zM264 226h2v2h-2zM266 226h2v2h-2zM166 228h2v2h-2zM202 228h2v2h-2zM204 228h2v2h-2zM208 228h2v2h-2zM226 228h2v2h-2zM228 228h2v2h-2zM164 230h2v2h-2zM166 230h2v2h-2zM202 230h2v2h-2zM204 230h2v2h-2zM206 230h2v2h-2zM208 230h2v2h-2zM210 230h2v2h-2zM226 230h2v2h-2zM228 230h2v2h-2zM162 232h2v2h-2zM166 232h2v2h-2zM202 232h2v2h-2zM204 232h2v2h-2zM206 232h2v2h-2zM208 232h2v2h-2zM210 232h2v2h-2zM226 232h2v2h-2zM202 234h2v2h-2zM204 234h2v2h-2zM190 236h2v2h-2zM202 238h2v2h-2zM204 238h2v2h-2z" fill="#904810" shape-rendering="crispEdges"/>
<path d="M158 146h2v2h-2zM232 152h2v2h-2zM248 152h2v2h-2zM198 154h2v2h-2zM248 154h2v2h-2zM152 156h2v2h-2zM244 156h2v2h-2zM208 158h2v2h-2zM216 158h2v2h-2zM214 160h2v2h-2zM216 160h2v2h-2zM226 160h2v2h-2zM144 162h2v2h-2zM156 162h2v2h-2zM214 162h2v2h-2zM216 162h2v2h-2zM226 162h2v2h-2zM242 162h2v2h-2zM246 162h2v2h-2zM156 164h2v2h-2zM164 164h2v2h-2zM202 164h2v2h-2zM236 164h2v2h-2zM244 164h2v2h-2zM246 164h2v2h-2zM248 164h2v2h-2zM250 164h2v2h-2zM150 166h2v2h-2zM156 166h2v2h-2zM166 166h2v2h-2zM202 166h2v2h-2zM204 166h2v2h-2zM220 166h2v2h-2zM222 166h2v2h-2zM244 166h2v2h-2zM266 166h2v2h-2zM150 168h2v2h-2zM152 168h2v2h-2zM198 168h2v2h-2zM206 168h2v2h-2zM260 168h2v2h-2zM146 170h2v2h-2zM148 170h2v2h-2zM184 170h2v2h-2zM226 170h2v2h-2zM232 170h2v2h-2zM260 170h2v2h-2zM150 172h2v2h-2zM162 172h2v2h-2zM224 172h2v2h-2zM242 172h2v2h-2zM248 172h2v2h-2zM180 176h2v2h-2zM202 176h2v2h-2zM220 176h2v2h-2zM224 176h2v2h-2zM232 176h2v2h-2zM234 176h2v2h-2zM236 176h2v2h-2zM242 176h2v2h-2zM178 178h2v2h-2zM220 178h2v2h-2zM230 178h2v2h-2zM254 178h2v2h-2zM260 178h2v2h-2zM222 180h2v2h-2zM240 180h2v2h-2zM168 182h2v2h-2zM192 182h2v2h-2zM236 182h2v2h-2zM166 184h2v2h-2zM226 184h2v2h-2zM264 184h2v2h-2zM256 186h2v2h-2zM222 188h2v2h-2zM234 188h2v2h-2zM252 190h2v2h-2zM254 190h2v2h-2zM220 192h2v2h-2zM220 194h2v2h-2zM176 196h2v2h-2zM188 196h2v2h-2zM224 196h2v2h-2zM162 200h2v2h-2zM218 200h2v2h-2zM250 200h2v2h-2zM160 202h2v2h-2zM248 202h2v2h-2zM258 202h2v2h-2zM262 202h2v2h-2zM158 204h2v2h-2zM174 204h2v2h-2zM180 204h2v2h-2zM214 204h2v2h-2zM264 204h2v2h-2zM174 206h2v2h-2zM184 206h2v2h-2zM202 206h2v2h-2zM174 208h2v2h-2zM178 208h2v2h-2zM180 208h2v2h-2zM196 208h2v2h-2zM202 208h2v2h-2zM256 208h2v2h-2zM160 210h2v2h-2zM160 212h2v2h-2zM196 212h2v2h-2zM206 224h2v2h-2zM222 224h2v2h-2zM226 224h2v2h-2zM228 224h2v2h-2zM230 226h2v2h-2zM240 226h2v2h-2zM164 228h2v2h-2zM168 228h2v2h-2zM236 228h2v2h-2zM254 228h2v2h-2zM256 228h2v2h-2zM156 230h2v2h-2zM156 232h2v2h-2zM158 232h2v2h-2zM260 232h2v2h-2zM190 234h2v2h-2zM192 234h2v2h-2zM208 234h2v2h-2zM200 236h2v2h-2zM200 238h2v2h-2z" fill="#b05818" shape-rendering="crispEdges"/>
<path d="M160 146h2v2h-2zM184 146h2v2h-2zM160 148h2v2h-2zM186 148h2v2h-2zM192 152h2v2h-2zM206 152h2v2h-2zM218 152h2v2h-2zM206 160h2v2h-2zM236 162h2v2h-2zM258 166h2v2h-2zM200 168h2v2h-2zM224 168h2v2h-2zM246 168h2v2h-2zM220 170h2v2h-2zM182 172h2v2h-2zM220 172h2v2h-2zM226 172h2v2h-2zM228 172h2v2h-2zM234 172h2v2h-2zM226 174h2v2h-2zM228 174h2v2h-2zM244 174h2v2h-2zM250 174h2v2h-2zM162 176h2v2h-2zM198 176h2v2h-2zM230 176h2v2h-2zM202 178h2v2h-2zM168 180h2v2h-2zM220 180h2v2h-2zM208 184h2v2h-2zM210 184h2v2h-2zM164 186h2v2h-2zM166 186h2v2h-2zM150 188h2v2h-2zM224 188h2v2h-2zM236 188h2v2h-2zM152 190h2v2h-2zM242 190h2v2h-2zM238 192h2v2h-2zM242 192h2v2h-2zM250 194h2v2h-2zM162 196h2v2h-2zM174 196h2v2h-2zM188 198h2v2h-2zM258 200h2v2h-2zM148 202h2v2h-2zM212 202h2v2h-2zM250 202h2v2h-2zM252 202h2v2h-2zM218 204h2v2h-2zM220 204h2v2h-2zM248 204h2v2h-2zM184 208h2v2h-2zM204 208h2v2h-2zM162 210h2v2h-2zM184 210h2v2h-2zM254 210h2v2h-2zM182 212h2v2h-2zM184 212h2v2h-2zM184 214h2v2h-2zM186 214h2v2h-2zM192 214h2v2h-2zM168 216h2v2h-2zM204 216h2v2h-2zM252 216h2v2h-2zM168 218h2v2h-2zM162 222h2v2h-2zM200 222h2v2h-2zM220 222h2v2h-2zM260 222h2v2h-2zM164 224h2v2h-2zM240 224h2v2h-2zM160 226h2v2h-2zM232 226h2v2h-2zM234 226h2v2h-2zM160 228h2v2h-2zM232 228h2v2h-2zM234 228h2v2h-2zM266 230h2v2h-2zM262 232h2v2h-2zM268 232h2v2h-2zM154 234h2v2h-2zM166 234h2v2h-2zM210 234h2v2h-2zM260 234h2v2h-2zM196 238h2v2h-2zM152 240h2v2h-2z" fill="#c86820" shape-rendering="crispEdges"/>
<path d="M162 146h2v2h-2zM236 146h2v2h-2zM248 146h2v2h-2zM180 148h2v2h-2zM190 148h2v2h-2zM242 148h2v2h-2zM244 148h2v2h-2zM206 150h2v2h-2zM144 154h2v2h-2zM256 154h2v2h-2zM186 156h2v2h-2zM250 156h2v2h-2zM144 158h2v2h-2zM220 158h2v2h-2zM238 158h2v2h-2zM162 160h2v2h-2zM166 162h2v2h-2zM258 164h2v2h-2zM268 164h2v2h-2zM170 168h2v2h-2zM170 170h2v2h-2zM204 170h2v2h-2zM262 174h2v2h-2zM166 176h2v2h-2zM246 176h2v2h-2zM176 178h2v2h-2zM218 178h2v2h-2zM262 178h2v2h-2zM174 184h2v2h-2zM178 184h2v2h-2zM206 184h2v2h-2zM206 186h2v2h-2zM208 186h2v2h-2zM244 186h2v2h-2zM246 186h2v2h-2zM146 188h2v2h-2zM182 188h2v2h-2zM226 188h2v2h-2zM244 188h2v2h-2zM154 190h2v2h-2zM168 190h2v2h-2zM170 190h2v2h-2zM186 190h2v2h-2zM200 190h2v2h-2zM260 190h2v2h-2zM264 190h2v2h-2zM170 192h2v2h-2zM176 192h2v2h-2zM190 192h2v2h-2zM154 194h2v2h-2zM170 194h2v2h-2zM226 194h2v2h-2zM226 196h2v2h-2zM230 196h2v2h-2zM268 196h2v2h-2zM202 198h2v2h-2zM240 198h2v2h-2zM190 202h2v2h-2zM192 202h2v2h-2zM240 202h2v2h-2zM242 202h2v2h-2zM228 204h2v2h-2zM246 204h2v2h-2zM226 206h2v2h-2zM236 206h2v2h-2zM192 208h2v2h-2zM218 210h2v2h-2zM164 212h2v2h-2zM172 212h2v2h-2zM252 212h2v2h-2zM150 214h2v2h-2zM174 214h2v2h-2zM178 214h2v2h-2zM150 216h2v2h-2zM192 216h2v2h-2zM198 216h2v2h-2zM206 216h2v2h-2zM146 218h2v2h-2zM150 218h2v2h-2zM176 218h2v2h-2zM206 218h2v2h-2zM160 220h2v2h-2zM164 220h2v2h-2zM168 220h2v2h-2zM192 220h2v2h-2zM238 220h2v2h-2zM152 222h2v2h-2zM218 222h2v2h-2zM146 224h2v2h-2zM154 224h2v2h-2zM184 224h2v2h-2zM210 224h2v2h-2zM144 226h2v2h-2zM146 226h2v2h-2zM148 226h2v2h-2zM186 226h2v2h-2zM216 228h2v2h-2zM244 228h2v2h-2zM174 230h2v2h-2zM184 230h2v2h-2zM216 230h2v2h-2zM242 230h2v2h-2zM244 230h2v2h-2zM148 232h2v2h-2zM150 232h2v2h-2zM188 232h2v2h-2zM236 232h2v2h-2zM240 232h2v2h-2zM152 234h2v2h-2zM262 234h2v2h-2zM152 236h2v2h-2zM224 238h2v2h-2zM236 238h2v2h-2zM258 238h2v2h-2zM266 238h2v2h-2zM268 238h2v2h-2zM182 240h2v2h-2z" fill="#e89848" shape-rendering="crispEdges"/>
<path d="M164 146h2v2h-2zM164 148h2v2h-2zM168 150h2v2h-2zM168 152h2v2h-2zM176 152h2v2h-2zM184 154h2v2h-2zM180 156h2v2h-2zM264 158h2v2h-2zM268 158h2v2h-2zM268 160h2v2h-2zM178 162h2v2h-2zM174 166h2v2h-2zM144 192h2v2h-2zM232 210h2v2h-2zM214 220h2v2h-2zM214 222h2v2h-2z" fill="#fff8f8" shape-rendering="crispEdges"/>
<path d="M166 146h2v2h-2zM168 146h2v2h-2zM170 146h2v2h-2zM172 146h2v2h-2zM174 146h2v2h-2zM240 146h2v2h-2zM170 148h2v2h-2zM172 148h2v2h-2zM174 148h2v2h-2zM170 150h2v2h-2zM172 150h2v2h-2zM174 150h2v2h-2zM176 150h2v2h-2zM170 152h2v2h-2zM172 152h2v2h-2zM164 154h2v2h-2zM170 154h2v2h-2zM178 154h2v2h-2zM180 154h2v2h-2zM182 154h2v2h-2zM164 156h2v2h-2zM178 156h2v2h-2zM264 156h2v2h-2zM164 158h2v2h-2zM178 158h2v2h-2zM266 158h2v2h-2zM176 160h2v2h-2zM178 160h2v2h-2zM176 162h2v2h-2zM174 164h2v2h-2zM176 164h2v2h-2zM174 172h2v2h-2zM176 172h2v2h-2zM178 172h2v2h-2zM214 172h2v2h-2zM172 174h2v2h-2zM174 174h2v2h-2zM214 174h2v2h-2zM216 174h2v2h-2zM266 174h2v2h-2zM268 174h2v2h-2zM170 176h2v2h-2zM172 176h2v2h-2zM214 176h2v2h-2zM216 176h2v2h-2zM266 176h2v2h-2zM268 176h2v2h-2zM150 178h2v2h-2zM152 178h2v2h-2zM154 178h2v2h-2zM156 178h2v2h-2zM214 178h2v2h-2zM148 180h2v2h-2zM150 180h2v2h-2zM152 180h2v2h-2zM154 180h2v2h-2zM146 182h2v2h-2zM148 182h2v2h-2zM150 182h2v2h-2zM152 182h2v2h-2zM214 188h2v2h-2zM214 190h2v2h-2zM144 194h2v2h-2zM144 196h2v2h-2zM148 208h2v2h-2zM170 240h2v2h-2z" fill="#fffff8" shape-rendering="crispEdges"/>
<path d="M176 146h2v2h-2zM176 148h2v2h-2zM166 154h2v2h-2zM268 156h2v2h-2zM180 160h2v2h-2zM216 172h2v2h-2zM148 178h2v2h-2zM266 178h2v2h-2zM146 180h2v2h-2zM230 210h2v2h-2zM234 210h2v2h-2zM222 216h2v2h-2zM170 238h2v2h-2zM168 240h2v2h-2z" fill="#fff8e8" shape-rendering="crispEdges"/>
<path d="M178 146h2v2h-2zM258 156h2v2h-2zM170 158h2v2h-2zM212 170h2v2h-2zM146 176h2v2h-2zM174 180h2v2h-2zM176 184h2v2h-2zM198 184h2v2h-2zM146 186h2v2h-2zM212 186h2v2h-2zM146 190h2v2h-2zM182 190h2v2h-2zM174 192h2v2h-2zM262 192h2v2h-2zM264 200h2v2h-2zM266 200h2v2h-2zM212 208h2v2h-2zM224 208h2v2h-2zM164 210h2v2h-2zM252 210h2v2h-2zM196 216h2v2h-2zM188 224h2v2h-2zM172 236h2v2h-2zM216 238h2v2h-2zM230 238h2v2h-2zM250 238h2v2h-2zM222 240h2v2h-2z" fill="#f0b870" shape-rendering="crispEdges"/>
<path d="M182 146h2v2h-2zM202 146h2v2h-2zM214 150h2v2h-2zM248 150h2v2h-2zM246 152h2v2h-2zM200 154h2v2h-2zM202 154h2v2h-2zM246 154h2v2h-2zM188 158h2v2h-2zM218 158h2v2h-2zM152 160h2v2h-2zM160 162h2v2h-2zM252 162h2v2h-2zM214 164h2v2h-2zM246 166h2v2h-2zM268 166h2v2h-2zM184 168h2v2h-2zM210 168h2v2h-2zM256 168h2v2h-2zM222 170h2v2h-2zM254 170h2v2h-2zM198 172h2v2h-2zM236 172h2v2h-2zM254 172h2v2h-2zM200 174h2v2h-2zM232 174h2v2h-2zM234 174h2v2h-2zM226 176h2v2h-2zM228 176h2v2h-2zM178 180h2v2h-2zM248 182h2v2h-2zM264 182h2v2h-2zM168 184h2v2h-2zM234 184h2v2h-2zM248 184h2v2h-2zM190 186h2v2h-2zM232 186h2v2h-2zM260 186h2v2h-2zM164 194h2v2h-2zM168 196h2v2h-2zM164 198h2v2h-2zM158 200h2v2h-2zM174 200h2v2h-2zM216 200h2v2h-2zM246 200h2v2h-2zM252 200h2v2h-2zM260 200h2v2h-2zM150 202h2v2h-2zM210 202h2v2h-2zM182 204h2v2h-2zM212 204h2v2h-2zM254 204h2v2h-2zM182 206h2v2h-2zM158 210h2v2h-2zM204 212h2v2h-2zM254 212h2v2h-2zM198 214h2v2h-2zM166 216h2v2h-2zM166 218h2v2h-2zM206 220h2v2h-2zM258 220h2v2h-2zM220 224h2v2h-2zM236 224h2v2h-2zM154 228h2v2h-2zM162 228h2v2h-2zM240 228h2v2h-2zM268 228h2v2h-2zM154 230h2v2h-2zM198 234h2v2h-2zM224 234h2v2h-2zM226 234h2v2h-2zM228 234h2v2h-2zM188 236h2v2h-2zM198 236h2v2h-2zM210 238h2v2h-2zM192 240h2v2h-2zM200 240h2v2h-2z" fill="#b86018" shape-rendering="crispEdges"/>
<path d="M186 146h2v2h-2zM216 146h2v2h-2zM210 160h2v2h-2zM240 186h2v2h-2zM266 190h2v2h-2zM154 196h2v2h-2zM196 200h2v2h-2zM152 206h2v2h-2zM158 208h2v2h-2zM190 216h2v2h-2zM186 224h2v2h-2zM180 236h2v2h-2zM160 238h2v2h-2z" fill="#e89040" shape-rendering="crispEdges"/>
<path d="M188 146h2v2h-2zM198 148h2v2h-2zM254 148h2v2h-2zM210 150h2v2h-2zM184 152h2v2h-2zM188 154h2v2h-2zM148 156h2v2h-2zM238 156h2v2h-2zM148 158h2v2h-2zM232 158h2v2h-2zM234 160h2v2h-2zM256 164h2v2h-2zM214 168h2v2h-2zM266 168h2v2h-2zM268 168h2v2h-2zM264 170h2v2h-2zM166 172h2v2h-2zM168 172h2v2h-2zM166 174h2v2h-2zM156 176h2v2h-2zM262 176h2v2h-2zM162 180h2v2h-2zM218 180h2v2h-2zM156 184h2v2h-2zM242 184h2v2h-2zM244 184h2v2h-2zM148 186h2v2h-2zM152 186h2v2h-2zM210 186h2v2h-2zM144 188h2v2h-2zM248 188h2v2h-2zM266 188h2v2h-2zM268 188h2v2h-2zM176 190h2v2h-2zM226 190h2v2h-2zM246 190h2v2h-2zM262 190h2v2h-2zM268 190h2v2h-2zM162 192h2v2h-2zM188 192h2v2h-2zM206 192h2v2h-2zM212 192h2v2h-2zM150 194h2v2h-2zM204 194h2v2h-2zM232 194h2v2h-2zM148 196h2v2h-2zM156 196h2v2h-2zM212 196h2v2h-2zM216 196h2v2h-2zM238 196h2v2h-2zM170 198h2v2h-2zM262 198h2v2h-2zM166 200h2v2h-2zM190 200h2v2h-2zM198 200h2v2h-2zM202 200h2v2h-2zM240 200h2v2h-2zM168 202h2v2h-2zM170 202h2v2h-2zM226 202h2v2h-2zM230 202h2v2h-2zM188 204h2v2h-2zM230 204h2v2h-2zM232 204h2v2h-2zM210 206h2v2h-2zM210 210h2v2h-2zM244 210h2v2h-2zM170 212h2v2h-2zM176 212h2v2h-2zM208 212h2v2h-2zM218 212h2v2h-2zM242 212h2v2h-2zM236 214h2v2h-2zM152 216h2v2h-2zM148 218h2v2h-2zM152 218h2v2h-2zM188 218h2v2h-2zM254 220h2v2h-2zM184 222h2v2h-2zM178 224h2v2h-2zM180 224h2v2h-2zM242 224h2v2h-2zM168 226h2v2h-2zM184 226h2v2h-2zM174 228h2v2h-2zM188 228h2v2h-2zM190 228h2v2h-2zM246 230h2v2h-2zM172 232h2v2h-2zM186 232h2v2h-2zM216 232h2v2h-2zM234 232h2v2h-2zM252 232h2v2h-2zM146 234h2v2h-2zM148 234h2v2h-2zM150 234h2v2h-2zM176 234h2v2h-2zM180 234h2v2h-2zM184 234h2v2h-2zM218 234h2v2h-2zM250 234h2v2h-2zM252 234h2v2h-2zM266 234h2v2h-2zM150 236h2v2h-2zM158 236h2v2h-2zM216 236h2v2h-2zM222 236h2v2h-2zM250 236h2v2h-2zM252 236h2v2h-2zM150 238h2v2h-2zM174 238h2v2h-2zM214 238h2v2h-2zM232 238h2v2h-2zM256 238h2v2h-2zM148 240h2v2h-2zM234 240h2v2h-2zM236 240h2v2h-2z" fill="#e8a050" shape-rendering="crispEdges"/>
<path d="M190 146h2v2h-2zM222 150h2v2h-2zM232 156h2v2h-2zM256 156h2v2h-2zM172 158h2v2h-2zM222 158h2v2h-2zM236 158h2v2h-2zM256 162h2v2h-2zM170 166h2v2h-2zM252 166h2v2h-2zM160 180h2v2h-2zM228 188h2v2h-2zM174 194h2v2h-2zM214 196h2v2h-2zM238 200h2v2h-2zM228 202h2v2h-2zM188 206h2v2h-2zM228 206h2v2h-2zM244 208h2v2h-2zM208 210h2v2h-2zM242 210h2v2h-2zM178 212h2v2h-2zM244 212h2v2h-2zM154 214h2v2h-2zM158 214h2v2h-2zM250 214h2v2h-2zM198 218h2v2h-2zM156 222h2v2h-2zM194 226h2v2h-2zM214 226h2v2h-2zM172 234h2v2h-2zM178 234h2v2h-2zM248 234h2v2h-2zM148 236h2v2h-2zM236 236h2v2h-2zM266 236h2v2h-2zM146 238h2v2h-2zM158 238h2v2h-2zM178 238h2v2h-2zM222 238h2v2h-2zM228 240h2v2h-2zM256 240h2v2h-2z" fill="#f0a860" shape-rendering="crispEdges"/>
<path d="M192 146h2v2h-2zM194 146h2v2h-2zM196 146h2v2h-2zM218 146h2v2h-2zM180 150h2v2h-2zM144 156h2v2h-2zM146 158h2v2h-2zM254 160h2v2h-2zM168 162h2v2h-2zM266 162h2v2h-2zM164 172h2v2h-2zM208 172h2v2h-2zM170 180h2v2h-2zM206 180h2v2h-2zM198 182h2v2h-2zM212 182h2v2h-2zM158 186h2v2h-2zM196 186h2v2h-2zM198 186h2v2h-2zM176 188h2v2h-2zM226 192h2v2h-2zM146 198h2v2h-2zM200 200h2v2h-2zM166 202h2v2h-2zM162 204h2v2h-2zM208 206h2v2h-2zM250 206h2v2h-2zM190 208h2v2h-2zM220 208h2v2h-2zM222 208h2v2h-2zM166 210h2v2h-2zM152 214h2v2h-2zM214 214h2v2h-2zM194 216h2v2h-2zM182 218h2v2h-2zM190 218h2v2h-2zM236 218h2v2h-2zM146 220h2v2h-2zM152 220h2v2h-2zM194 220h2v2h-2zM224 220h2v2h-2zM228 220h2v2h-2zM188 222h2v2h-2zM232 222h2v2h-2zM234 222h2v2h-2zM242 222h2v2h-2zM244 224h2v2h-2zM188 226h2v2h-2zM216 226h2v2h-2zM246 228h2v2h-2zM248 230h2v2h-2zM174 232h2v2h-2zM170 234h2v2h-2zM174 234h2v2h-2zM182 234h2v2h-2zM236 234h2v2h-2zM174 236h2v2h-2zM178 236h2v2h-2zM144 238h2v2h-2zM166 238h2v2h-2zM244 238h2v2h-2zM238 240h2v2h-2zM258 240h2v2h-2z" fill="#f0a858" shape-rendering="crispEdges"/>
<path d="M198 146h2v2h-2zM214 146h2v2h-2zM148 148h2v2h-2zM214 148h2v2h-2zM216 148h2v2h-2zM196 150h2v2h-2zM200 150h2v2h-2zM240 150h2v2h-2zM160 154h2v2h-2zM160 156h2v2h-2zM240 156h2v2h-2zM150 158h2v2h-2zM146 160h2v2h-2zM182 162h2v2h-2zM182 166h2v2h-2zM256 166h2v2h-2zM182 168h2v2h-2zM252 168h2v2h-2zM202 170h2v2h-2zM206 172h2v2h-2zM268 180h2v2h-2zM158 182h2v2h-2zM160 182h2v2h-2zM162 182h2v2h-2zM218 182h2v2h-2zM150 186h2v2h-2zM194 186h2v2h-2zM162 188h2v2h-2zM198 188h2v2h-2zM154 192h2v2h-2zM158 196h2v2h-2zM202 196h2v2h-2zM260 196h2v2h-2zM168 198h2v2h-2zM196 198h2v2h-2zM204 198h2v2h-2zM204 200h2v2h-2zM224 200h2v2h-2zM172 202h2v2h-2zM194 202h2v2h-2zM200 202h2v2h-2zM232 202h2v2h-2zM236 202h2v2h-2zM238 202h2v2h-2zM244 202h2v2h-2zM240 204h2v2h-2zM160 206h2v2h-2zM224 206h2v2h-2zM170 208h2v2h-2zM170 210h2v2h-2zM206 210h2v2h-2zM238 210h2v2h-2zM168 212h2v2h-2zM180 212h2v2h-2zM168 214h2v2h-2zM242 214h2v2h-2zM170 218h2v2h-2zM188 220h2v2h-2zM190 220h2v2h-2zM230 220h2v2h-2zM240 220h2v2h-2zM180 222h2v2h-2zM208 222h2v2h-2zM230 222h2v2h-2zM248 222h2v2h-2zM250 222h2v2h-2zM148 224h2v2h-2zM152 224h2v2h-2zM156 224h2v2h-2zM250 224h2v2h-2zM150 226h2v2h-2zM246 226h2v2h-2zM184 228h2v2h-2zM192 228h2v2h-2zM242 228h2v2h-2zM214 232h2v2h-2zM218 232h2v2h-2zM246 232h2v2h-2zM216 234h2v2h-2zM220 234h2v2h-2zM166 236h2v2h-2zM234 238h2v2h-2zM158 240h2v2h-2z" fill="#e09040" shape-rendering="crispEdges"/>
<path d="M200 146h2v2h-2zM190 152h2v2h-2zM238 152h2v2h-2zM244 154h2v2h-2zM224 156h2v2h-2zM252 160h2v2h-2zM162 162h2v2h-2zM224 164h2v2h-2zM246 170h2v2h-2zM250 170h2v2h-2zM152 174h2v2h-2zM204 174h2v2h-2zM204 176h2v2h-2zM250 176h2v2h-2zM178 182h2v2h-2zM224 182h2v2h-2zM246 182h2v2h-2zM162 184h2v2h-2zM182 184h2v2h-2zM264 186h2v2h-2zM256 192h2v2h-2zM224 194h2v2h-2zM198 196h2v2h-2zM148 198h2v2h-2zM244 198h2v2h-2zM222 200h2v2h-2zM156 206h2v2h-2zM214 206h2v2h-2zM188 212h2v2h-2zM196 214h2v2h-2zM258 222h2v2h-2zM222 226h2v2h-2zM194 230h2v2h-2zM232 230h2v2h-2zM198 232h2v2h-2zM188 234h2v2h-2zM194 234h2v2h-2zM196 234h2v2h-2zM258 234h2v2h-2zM154 236h2v2h-2zM154 238h2v2h-2zM188 240h2v2h-2z" fill="#c87020" shape-rendering="crispEdges"/>
<path d="M204 146h2v2h-2zM200 148h2v2h-2zM186 150h2v2h-2zM194 152h2v2h-2zM198 152h2v2h-2zM204 152h2v2h-2zM210 152h2v2h-2zM234 152h2v2h-2zM240 152h2v2h-2zM242 152h2v2h-2zM220 156h2v2h-2zM248 156h2v2h-2zM186 158h2v2h-2zM248 158h2v2h-2zM144 160h2v2h-2zM236 160h2v2h-2zM238 160h2v2h-2zM240 160h2v2h-2zM212 162h2v2h-2zM158 164h2v2h-2zM218 164h2v2h-2zM252 164h2v2h-2zM160 166h2v2h-2zM254 168h2v2h-2zM208 170h2v2h-2zM248 170h2v2h-2zM154 174h2v2h-2zM244 176h2v2h-2zM244 178h2v2h-2zM250 178h2v2h-2zM194 180h2v2h-2zM200 180h2v2h-2zM242 180h2v2h-2zM244 180h2v2h-2zM200 182h2v2h-2zM222 182h2v2h-2zM158 184h2v2h-2zM220 184h2v2h-2zM224 184h2v2h-2zM236 184h2v2h-2zM236 186h2v2h-2zM152 188h2v2h-2zM164 188h2v2h-2zM186 188h2v2h-2zM188 188h2v2h-2zM232 190h2v2h-2zM240 190h2v2h-2zM152 192h2v2h-2zM164 192h2v2h-2zM166 192h2v2h-2zM184 192h2v2h-2zM186 192h2v2h-2zM234 192h2v2h-2zM236 192h2v2h-2zM168 194h2v2h-2zM200 194h2v2h-2zM244 194h2v2h-2zM256 194h2v2h-2zM258 194h2v2h-2zM200 196h2v2h-2zM254 196h2v2h-2zM258 196h2v2h-2zM154 198h2v2h-2zM252 198h2v2h-2zM188 200h2v2h-2zM212 200h2v2h-2zM244 200h2v2h-2zM254 200h2v2h-2zM146 202h2v2h-2zM196 202h2v2h-2zM222 202h2v2h-2zM222 204h2v2h-2zM158 206h2v2h-2zM186 206h2v2h-2zM216 206h2v2h-2zM254 206h2v2h-2zM154 208h2v2h-2zM160 208h2v2h-2zM172 208h2v2h-2zM206 208h2v2h-2zM156 210h2v2h-2zM174 210h2v2h-2zM192 210h2v2h-2zM186 212h2v2h-2zM194 212h2v2h-2zM188 214h2v2h-2zM256 216h2v2h-2zM200 218h2v2h-2zM250 218h2v2h-2zM252 218h2v2h-2zM254 218h2v2h-2zM258 218h2v2h-2zM200 220h2v2h-2zM160 222h2v2h-2zM164 222h2v2h-2zM158 224h2v2h-2zM254 224h2v2h-2zM156 226h2v2h-2zM210 226h2v2h-2zM250 226h2v2h-2zM158 228h2v2h-2zM198 228h2v2h-2zM222 228h2v2h-2zM250 228h2v2h-2zM144 230h2v2h-2zM170 230h2v2h-2zM234 230h2v2h-2zM240 230h2v2h-2zM252 230h2v2h-2zM262 230h2v2h-2zM268 230h2v2h-2zM220 232h2v2h-2zM254 232h2v2h-2zM258 232h2v2h-2zM156 236h2v2h-2zM162 236h2v2h-2zM210 236h2v2h-2zM182 238h2v2h-2zM188 238h2v2h-2zM154 240h2v2h-2zM184 240h2v2h-2z" fill="#d07020" shape-rendering="crispEdges"/>
<path d="M206 146h2v2h-2zM256 146h2v2h-2zM260 148h2v2h-2zM164 150h2v2h-2zM252 150h2v2h-2zM164 152h2v2h-2zM168 158h2v2h-2zM262 160h2v2h-2zM148 176h2v2h-2zM172 180h2v2h-2zM156 186h2v2h-2zM230 192h2v2h-2zM264 192h2v2h-2zM268 192h2v2h-2zM144 200h2v2h-2zM226 200h2v2h-2zM234 200h2v2h-2zM190 204h2v2h-2zM144 208h2v2h-2zM228 208h2v2h-2zM150 212h2v2h-2zM246 212h2v2h-2zM170 214h2v2h-2zM210 214h2v2h-2zM210 216h2v2h-2zM208 218h2v2h-2zM176 220h2v2h-2zM172 226h2v2h-2zM266 240h2v2h-2z" fill="#f0c898" shape-rendering="crispEdges"/>
<path d="M208 146h2v2h-2zM254 146h2v2h-2zM264 146h2v2h-2zM208 148h2v2h-2zM220 148h2v2h-2zM146 150h2v2h-2zM178 150h2v2h-2zM256 152h2v2h-2zM268 162h2v2h-2zM266 170h2v2h-2zM156 188h2v2h-2zM180 188h2v2h-2zM208 188h2v2h-2zM204 190h2v2h-2zM216 192h2v2h-2zM158 194h2v2h-2zM230 198h2v2h-2zM230 200h2v2h-2zM226 210h2v2h-2zM226 212h2v2h-2zM248 212h2v2h-2zM228 216h2v2h-2zM232 216h2v2h-2zM158 218h2v2h-2zM210 218h2v2h-2zM228 218h2v2h-2zM174 220h2v2h-2zM170 222h2v2h-2zM144 224h2v2h-2zM168 224h2v2h-2zM190 224h2v2h-2zM192 224h2v2h-2zM216 224h2v2h-2zM190 226h2v2h-2zM182 228h2v2h-2zM254 238h2v2h-2zM146 240h2v2h-2zM166 240h2v2h-2zM264 240h2v2h-2z" fill="#f8d8b0" shape-rendering="crispEdges"/>
<path d="M210 146h2v2h-2zM238 148h2v2h-2zM262 150h2v2h-2zM264 150h2v2h-2zM162 152h2v2h-2zM182 152h2v2h-2zM262 152h2v2h-2zM264 152h2v2h-2zM184 156h2v2h-2zM236 156h2v2h-2zM234 158h2v2h-2zM170 160h2v2h-2zM182 160h2v2h-2zM264 160h2v2h-2zM180 162h2v2h-2zM180 170h2v2h-2zM178 174h2v2h-2zM152 176h2v2h-2zM168 176h2v2h-2zM158 178h2v2h-2zM216 180h2v2h-2zM162 190h2v2h-2zM190 190h2v2h-2zM202 190h2v2h-2zM204 192h2v2h-2zM262 196h2v2h-2zM226 198h2v2h-2zM230 206h2v2h-2zM210 208h2v2h-2zM250 212h2v2h-2zM208 216h2v2h-2zM212 216h2v2h-2zM158 220h2v2h-2zM186 220h2v2h-2zM182 222h2v2h-2zM170 226h2v2h-2zM238 236h2v2h-2zM172 240h2v2h-2zM180 240h2v2h-2zM218 240h2v2h-2zM224 240h2v2h-2zM230 240h2v2h-2zM254 240h2v2h-2z" fill="#f0c088" shape-rendering="crispEdges"/>
<path d="M220 146h2v2h-2zM268 154h2v2h-2zM174 176h2v2h-2zM158 192h2v2h-2zM234 198h2v2h-2zM146 206h2v2h-2zM174 222h2v2h-2zM174 224h2v2h-2zM178 230h2v2h-2z" fill="#f8f0d8" shape-rendering="crispEdges"/>
<path d="M222 146h2v2h-2zM238 146h2v2h-2zM178 148h2v2h-2zM256 148h2v2h-2zM264 154h2v2h-2zM162 156h2v2h-2zM260 160h2v2h-2zM172 168h2v2h-2zM264 174h2v2h-2zM210 176h2v2h-2zM178 188h2v2h-2zM210 188h2v2h-2zM214 192h2v2h-2zM266 194h2v2h-2zM150 206h2v2h-2zM164 208h2v2h-2zM234 208h2v2h-2zM218 214h2v2h-2zM234 214h2v2h-2zM218 216h2v2h-2zM216 218h2v2h-2zM156 220h2v2h-2zM172 220h2v2h-2zM144 222h2v2h-2zM182 230h2v2h-2zM240 236h2v2h-2zM176 238h2v2h-2z" fill="#f8e0c0" shape-rendering="crispEdges"/>
<path d="M224 146h2v2h-2zM202 148h2v2h-2zM152 158h2v2h-2zM160 160h2v2h-2zM184 160h2v2h-2zM204 162h2v2h-2zM160 164h2v2h-2zM166 164h2v2h-2zM206 164h2v2h-2zM208 164h2v2h-2zM210 164h2v2h-2zM212 164h2v2h-2zM220 164h2v2h-2zM224 166h2v2h-2zM248 166h2v2h-2zM220 168h2v2h-2zM262 168h2v2h-2zM244 170h2v2h-2zM246 172h2v2h-2zM252 172h2v2h-2zM156 174h2v2h-2zM230 174h2v2h-2zM160 176h2v2h-2zM194 178h2v2h-2zM248 180h2v2h-2zM160 184h2v2h-2zM192 184h2v2h-2zM216 184h2v2h-2zM220 186h2v2h-2zM224 186h2v2h-2zM250 186h2v2h-2zM262 186h2v2h-2zM150 190h2v2h-2zM196 190h2v2h-2zM250 192h2v2h-2zM210 194h2v2h-2zM240 194h2v2h-2zM242 194h2v2h-2zM244 196h2v2h-2zM220 198h2v2h-2zM222 198h2v2h-2zM250 198h2v2h-2zM214 200h2v2h-2zM220 202h2v2h-2zM256 202h2v2h-2zM186 204h2v2h-2zM204 204h2v2h-2zM190 214h2v2h-2zM200 216h2v2h-2zM222 222h2v2h-2zM160 224h2v2h-2zM224 224h2v2h-2zM252 226h2v2h-2zM222 230h2v2h-2zM236 230h2v2h-2zM154 232h2v2h-2zM156 234h2v2h-2zM196 236h2v2h-2zM194 238h2v2h-2zM206 238h2v2h-2z" fill="#c06820" shape-rendering="crispEdges"/>
<path d="M232 146h2v2h-2zM184 150h2v2h-2zM158 162h2v2h-2zM166 168h2v2h-2zM252 178h2v2h-2zM262 180h2v2h-2zM230 184h2v2h-2zM178 194h2v2h-2zM188 202h2v2h-2zM206 214h2v2h-2zM258 216h2v2h-2zM206 222h2v2h-2zM162 226h2v2h-2zM230 234h2v2h-2zM194 236h2v2h-2zM198 238h2v2h-2z" fill="#c06818" shape-rendering="crispEdges"/>
<path d="M242 146h2v2h-2zM250 146h2v2h-2zM258 146h2v2h-2zM206 148h2v2h-2zM144 150h2v2h-2zM252 152h2v2h-2zM260 152h2v2h-2zM234 154h2v2h-2zM266 160h2v2h-2zM144 178h2v2h-2zM174 178h2v2h-2zM206 178h2v2h-2zM214 186h2v2h-2zM200 188h2v2h-2zM206 188h2v2h-2zM178 190h2v2h-2zM228 192h2v2h-2zM148 194h2v2h-2zM172 194h2v2h-2zM214 194h2v2h-2zM216 194h2v2h-2zM264 198h2v2h-2zM236 200h2v2h-2zM146 204h2v2h-2zM170 206h2v2h-2zM232 206h2v2h-2zM250 208h2v2h-2zM252 208h2v2h-2zM212 214h2v2h-2zM144 216h2v2h-2zM160 216h2v2h-2zM216 216h2v2h-2zM172 218h2v2h-2zM176 222h2v2h-2zM194 222h2v2h-2zM176 224h2v2h-2zM174 226h2v2h-2zM244 236h2v2h-2zM264 236h2v2h-2zM240 240h2v2h-2z" fill="#f0c890" shape-rendering="crispEdges"/>
<path d="M244 146h2v2h-2zM218 148h2v2h-2zM250 148h2v2h-2zM162 150h2v2h-2zM252 154h2v2h-2zM266 154h2v2h-2zM252 156h2v2h-2zM172 160h2v2h-2zM220 160h2v2h-2zM222 160h2v2h-2zM260 162h2v2h-2zM180 172h2v2h-2zM218 172h2v2h-2zM218 174h2v2h-2zM144 176h2v2h-2zM154 176h2v2h-2zM196 180h2v2h-2zM144 186h2v2h-2zM180 186h2v2h-2zM216 186h2v2h-2zM154 188h2v2h-2zM160 188h2v2h-2zM192 190h2v2h-2zM230 190h2v2h-2zM202 192h2v2h-2zM156 194h2v2h-2zM160 194h2v2h-2zM230 194h2v2h-2zM266 198h2v2h-2zM242 204h2v2h-2zM162 206h2v2h-2zM234 206h2v2h-2zM218 208h2v2h-2zM248 208h2v2h-2zM246 210h2v2h-2zM244 214h2v2h-2zM246 216h2v2h-2zM162 218h2v2h-2zM174 218h2v2h-2zM194 218h2v2h-2zM144 220h2v2h-2zM232 220h2v2h-2zM244 220h2v2h-2zM190 222h2v2h-2zM244 222h2v2h-2zM182 224h2v2h-2zM196 224h2v2h-2zM176 226h2v2h-2zM180 226h2v2h-2zM196 226h2v2h-2zM178 232h2v2h-2zM180 232h2v2h-2zM184 232h2v2h-2zM218 236h2v2h-2zM220 236h2v2h-2zM262 236h2v2h-2zM218 238h2v2h-2zM220 238h2v2h-2zM226 238h2v2h-2zM228 238h2v2h-2zM246 238h2v2h-2z" fill="#f0b878" shape-rendering="crispEdges"/>
<path d="M246 146h2v2h-2zM194 148h2v2h-2zM198 150h2v2h-2zM148 152h2v2h-2zM160 152h2v2h-2zM250 152h2v2h-2zM148 154h2v2h-2zM238 154h2v2h-2zM258 154h2v2h-2zM184 158h2v2h-2zM218 160h2v2h-2zM232 160h2v2h-2zM262 162h2v2h-2zM254 164h2v2h-2zM216 168h2v2h-2zM182 170h2v2h-2zM204 172h2v2h-2zM148 174h2v2h-2zM164 174h2v2h-2zM246 178h2v2h-2zM176 180h2v2h-2zM206 182h2v2h-2zM172 184h2v2h-2zM202 184h2v2h-2zM238 186h2v2h-2zM242 186h2v2h-2zM192 188h2v2h-2zM166 190h2v2h-2zM174 190h2v2h-2zM178 192h2v2h-2zM180 192h2v2h-2zM182 192h2v2h-2zM208 192h2v2h-2zM248 192h2v2h-2zM188 194h2v2h-2zM194 194h2v2h-2zM218 194h2v2h-2zM160 196h2v2h-2zM172 196h2v2h-2zM192 196h2v2h-2zM192 198h2v2h-2zM206 200h2v2h-2zM224 202h2v2h-2zM234 202h2v2h-2zM172 204h2v2h-2zM226 204h2v2h-2zM236 204h2v2h-2zM238 204h2v2h-2zM218 206h2v2h-2zM240 206h2v2h-2zM162 208h2v2h-2zM186 208h2v2h-2zM188 208h2v2h-2zM214 210h2v2h-2zM152 212h2v2h-2zM174 212h2v2h-2zM206 212h2v2h-2zM216 212h2v2h-2zM176 214h2v2h-2zM180 214h2v2h-2zM194 214h2v2h-2zM252 214h2v2h-2zM176 216h2v2h-2zM178 216h2v2h-2zM184 216h2v2h-2zM186 216h2v2h-2zM256 218h2v2h-2zM148 220h2v2h-2zM198 220h2v2h-2zM242 220h2v2h-2zM150 224h2v2h-2zM198 224h2v2h-2zM248 224h2v2h-2zM158 226h2v2h-2zM196 228h2v2h-2zM214 228h2v2h-2zM218 228h2v2h-2zM220 228h2v2h-2zM172 230h2v2h-2zM190 230h2v2h-2zM218 230h2v2h-2zM144 232h2v2h-2zM238 232h2v2h-2zM144 236h2v2h-2zM184 236h2v2h-2zM214 236h2v2h-2zM256 236h2v2h-2zM268 236h2v2h-2zM162 240h2v2h-2z" fill="#e08838" shape-rendering="crispEdges"/>
<path d="M252 146h2v2h-2zM240 148h2v2h-2zM256 150h2v2h-2zM176 154h2v2h-2zM260 156h2v2h-2zM166 158h2v2h-2zM212 172h2v2h-2zM264 176h2v2h-2zM170 178h2v2h-2zM172 178h2v2h-2zM210 178h2v2h-2zM212 178h2v2h-2zM144 182h2v2h-2zM144 184h2v2h-2zM150 184h2v2h-2zM152 184h2v2h-2zM216 188h2v2h-2zM208 190h2v2h-2zM210 190h2v2h-2zM146 194h2v2h-2zM234 196h2v2h-2zM232 198h2v2h-2zM168 204h2v2h-2zM150 208h2v2h-2zM232 208h2v2h-2zM144 210h2v2h-2zM224 210h2v2h-2zM220 212h2v2h-2zM214 224h2v2h-2zM242 234h2v2h-2zM248 240h2v2h-2zM252 240h2v2h-2z" fill="#f8e8d0" shape-rendering="crispEdges"/>
<path d="M260 146h2v2h-2zM262 146h2v2h-2zM268 146h2v2h-2zM212 148h2v2h-2zM252 148h2v2h-2zM262 148h2v2h-2zM254 150h2v2h-2zM260 150h2v2h-2zM180 152h2v2h-2zM258 152h2v2h-2zM174 154h2v2h-2zM186 154h2v2h-2zM254 154h2v2h-2zM170 156h2v2h-2zM234 156h2v2h-2zM182 158h2v2h-2zM258 158h2v2h-2zM258 160h2v2h-2zM214 170h2v2h-2zM150 176h2v2h-2zM156 182h2v2h-2zM196 182h2v2h-2zM154 186h2v2h-2zM204 188h2v2h-2zM180 190h2v2h-2zM266 192h2v2h-2zM268 194h2v2h-2zM232 200h2v2h-2zM148 204h2v2h-2zM170 204h2v2h-2zM164 206h2v2h-2zM168 208h2v2h-2zM236 210h2v2h-2zM228 212h2v2h-2zM228 214h2v2h-2zM158 216h2v2h-2zM230 216h2v2h-2zM234 216h2v2h-2zM154 218h2v2h-2zM160 218h2v2h-2zM230 218h2v2h-2zM170 220h2v2h-2zM210 220h2v2h-2zM212 220h2v2h-2zM218 220h2v2h-2zM234 220h2v2h-2zM194 224h2v2h-2zM176 230h2v2h-2zM182 232h2v2h-2zM240 234h2v2h-2zM170 236h2v2h-2zM168 238h2v2h-2zM262 240h2v2h-2z" fill="#f0d0a0" shape-rendering="crispEdges"/>
<path d="M266 146h2v2h-2zM258 148h2v2h-2zM258 150h2v2h-2zM168 160h2v2h-2zM176 168h2v2h-2zM176 174h2v2h-2zM212 176h2v2h-2zM212 188h2v2h-2zM166 208h2v2h-2zM224 214h2v2h-2zM218 218h2v2h-2z" fill="#f8e8c8" shape-rendering="crispEdges"/>
<path d="M146 148h2v2h-2zM168 178h2v2h-2zM174 182h2v2h-2zM204 186h2v2h-2zM164 202h2v2h-2zM252 206h2v2h-2zM148 216h2v2h-2zM174 216h2v2h-2zM244 216h2v2h-2zM196 220h2v2h-2zM208 220h2v2h-2zM166 224h2v2h-2z" fill="#f0b060" shape-rendering="crispEdges"/>
<path d="M150 148h2v2h-2zM150 150h2v2h-2zM150 152h2v2h-2zM196 154h2v2h-2zM200 156h2v2h-2zM226 156h2v2h-2zM228 156h2v2h-2zM228 158h2v2h-2zM156 160h2v2h-2zM230 160h2v2h-2zM250 160h2v2h-2zM184 162h2v2h-2zM244 162h2v2h-2zM148 172h2v2h-2zM250 172h2v2h-2zM196 174h2v2h-2zM198 174h2v2h-2zM202 174h2v2h-2zM220 174h2v2h-2zM236 174h2v2h-2zM194 176h2v2h-2zM252 176h2v2h-2zM166 180h2v2h-2zM250 180h2v2h-2zM232 184h2v2h-2zM250 184h2v2h-2zM266 184h2v2h-2zM234 186h2v2h-2zM220 188h2v2h-2zM234 190h2v2h-2zM166 194h2v2h-2zM208 194h2v2h-2zM254 194h2v2h-2zM150 198h2v2h-2zM160 198h2v2h-2zM248 198h2v2h-2zM148 200h2v2h-2zM154 200h2v2h-2zM156 200h2v2h-2zM174 202h2v2h-2zM254 202h2v2h-2zM156 204h2v2h-2zM216 204h2v2h-2zM180 206h2v2h-2zM182 210h2v2h-2zM196 210h2v2h-2zM204 218h2v2h-2zM200 226h2v2h-2zM208 226h2v2h-2zM254 226h2v2h-2zM260 226h2v2h-2zM156 228h2v2h-2zM160 230h2v2h-2zM238 230h2v2h-2zM254 230h2v2h-2zM256 230h2v2h-2zM168 232h2v2h-2zM222 232h2v2h-2zM230 232h2v2h-2zM160 234h2v2h-2zM206 236h2v2h-2zM190 240h2v2h-2zM206 240h2v2h-2z" fill="#b85818" shape-rendering="crispEdges"/>
<path d="M162 148h2v2h-2zM252 158h2v2h-2zM196 178h2v2h-2zM240 184h2v2h-2zM202 194h2v2h-2zM234 194h2v2h-2zM172 200h2v2h-2zM144 202h2v2h-2zM238 208h2v2h-2zM168 210h2v2h-2zM210 212h2v2h-2zM248 220h2v2h-2zM146 222h2v2h-2zM188 230h2v2h-2zM254 234h2v2h-2z" fill="#e8a048" shape-rendering="crispEdges"/>
<path d="M166 148h2v2h-2zM168 148h2v2h-2zM262 156h2v2h-2zM266 156h2v2h-2zM260 158h2v2h-2zM262 158h2v2h-2zM166 160h2v2h-2zM178 170h2v2h-2zM154 182h2v2h-2zM158 190h2v2h-2zM216 190h2v2h-2zM148 206h2v2h-2zM148 210h2v2h-2zM144 212h2v2h-2zM222 212h2v2h-2zM144 214h2v2h-2zM146 214h2v2h-2zM220 216h2v2h-2zM220 218h2v2h-2zM216 220h2v2h-2z" fill="#fff8f0" shape-rendering="crispEdges"/>
<path d="M182 148h2v2h-2zM212 152h2v2h-2zM224 152h2v2h-2zM190 154h2v2h-2zM230 154h2v2h-2zM158 160h2v2h-2zM186 160h2v2h-2zM248 160h2v2h-2zM154 162h2v2h-2zM232 162h2v2h-2zM248 162h2v2h-2zM184 164h2v2h-2zM210 166h2v2h-2zM212 166h2v2h-2zM158 168h2v2h-2zM186 168h2v2h-2zM208 168h2v2h-2zM150 170h2v2h-2zM196 170h2v2h-2zM230 170h2v2h-2zM234 170h2v2h-2zM154 172h2v2h-2zM196 172h2v2h-2zM260 172h2v2h-2zM242 174h2v2h-2zM260 176h2v2h-2zM238 178h2v2h-2zM224 180h2v2h-2zM254 180h2v2h-2zM184 186h2v2h-2zM188 186h2v2h-2zM220 190h2v2h-2zM222 192h2v2h-2zM252 192h2v2h-2zM254 192h2v2h-2zM186 194h2v2h-2zM222 194h2v2h-2zM208 196h2v2h-2zM222 196h2v2h-2zM162 198h2v2h-2zM152 200h2v2h-2zM248 200h2v2h-2zM186 202h2v2h-2zM196 204h2v2h-2zM178 206h2v2h-2zM202 214h2v2h-2zM260 214h2v2h-2zM202 216h2v2h-2zM262 224h2v2h-2zM224 226h2v2h-2zM224 228h2v2h-2zM258 228h2v2h-2zM258 230h2v2h-2zM162 234h2v2h-2zM208 238h2v2h-2z" fill="#a85818" shape-rendering="crispEdges"/>
<path d="M184 148h2v2h-2zM218 154h2v2h-2zM224 154h2v2h-2zM192 156h2v2h-2zM190 158h2v2h-2zM202 158h2v2h-2zM212 158h2v2h-2zM190 162h2v2h-2zM152 172h2v2h-2zM194 172h2v2h-2zM238 174h2v2h-2zM252 182h2v2h-2zM254 186h2v2h-2zM166 196h2v2h-2zM178 196h2v2h-2zM158 202h2v2h-2zM182 202h2v2h-2zM184 202h2v2h-2zM216 202h2v2h-2zM260 204h2v2h-2zM268 206h2v2h-2zM262 210h2v2h-2zM264 212h2v2h-2zM262 216h2v2h-2zM202 218h2v2h-2zM268 224h2v2h-2zM206 228h2v2h-2zM210 228h2v2h-2zM168 230h2v2h-2zM212 230h2v2h-2zM228 232h2v2h-2zM202 240h2v2h-2zM204 240h2v2h-2z" fill="#984818" shape-rendering="crispEdges"/>
<path d="M188 148h2v2h-2zM266 152h2v2h-2zM172 156h2v2h-2zM180 166h2v2h-2zM210 180h2v2h-2zM156 192h2v2h-2zM172 192h2v2h-2zM144 204h2v2h-2zM164 204h2v2h-2zM236 212h2v2h-2zM184 218h2v2h-2zM220 220h2v2h-2zM246 222h2v2h-2zM178 226h2v2h-2zM248 232h2v2h-2zM248 236h2v2h-2zM238 238h2v2h-2zM242 238h2v2h-2zM220 240h2v2h-2z" fill="#f0b880" shape-rendering="crispEdges"/>
<path d="M192 148h2v2h-2zM160 150h2v2h-2zM204 150h2v2h-2zM200 152h2v2h-2zM250 154h2v2h-2zM224 158h2v2h-2zM242 158h2v2h-2zM250 158h2v2h-2zM264 162h2v2h-2zM168 164h2v2h-2zM182 164h2v2h-2zM166 178h2v2h-2zM198 178h2v2h-2zM264 180h2v2h-2zM170 182h2v2h-2zM194 184h2v2h-2zM200 184h2v2h-2zM204 184h2v2h-2zM172 186h2v2h-2zM268 186h2v2h-2zM194 188h2v2h-2zM188 190h2v2h-2zM200 192h2v2h-2zM232 192h2v2h-2zM162 194h2v2h-2zM150 196h2v2h-2zM170 196h2v2h-2zM252 196h2v2h-2zM212 198h2v2h-2zM256 198h2v2h-2zM194 200h2v2h-2zM262 200h2v2h-2zM202 202h2v2h-2zM206 202h2v2h-2zM178 210h2v2h-2zM212 210h2v2h-2zM214 212h2v2h-2zM248 216h2v2h-2zM180 218h2v2h-2zM150 222h2v2h-2zM198 222h2v2h-2zM236 222h2v2h-2zM240 222h2v2h-2zM148 228h2v2h-2zM186 228h2v2h-2zM168 234h2v2h-2zM186 234h2v2h-2zM182 236h2v2h-2zM260 236h2v2h-2zM186 238h2v2h-2zM216 240h2v2h-2z" fill="#e08830" shape-rendering="crispEdges"/>
<path d="M204 148h2v2h-2zM220 152h2v2h-2zM222 156h2v2h-2zM242 156h2v2h-2zM212 160h2v2h-2zM222 162h2v2h-2zM168 166h2v2h-2zM214 166h2v2h-2zM212 168h2v2h-2zM144 174h2v2h-2zM146 174h2v2h-2zM206 174h2v2h-2zM162 178h2v2h-2zM200 178h2v2h-2zM194 182h2v2h-2zM210 182h2v2h-2zM246 184h2v2h-2zM228 186h2v2h-2zM184 188h2v2h-2zM196 188h2v2h-2zM238 188h2v2h-2zM262 188h2v2h-2zM148 190h2v2h-2zM176 194h2v2h-2zM196 194h2v2h-2zM190 196h2v2h-2zM218 196h2v2h-2zM158 198h2v2h-2zM164 200h2v2h-2zM160 204h2v2h-2zM172 206h2v2h-2zM222 206h2v2h-2zM152 208h2v2h-2zM186 210h2v2h-2zM240 212h2v2h-2zM164 216h2v2h-2zM238 216h2v2h-2zM164 218h2v2h-2zM150 220h2v2h-2zM180 220h2v2h-2zM252 220h2v2h-2zM224 222h2v2h-2zM218 224h2v2h-2zM234 224h2v2h-2zM258 224h2v2h-2zM150 228h2v2h-2zM194 232h2v2h-2zM266 232h2v2h-2zM234 234h2v2h-2zM212 236h2v2h-2zM228 236h2v2h-2zM230 236h2v2h-2zM156 238h2v2h-2zM196 240h2v2h-2z" fill="#d88028" shape-rendering="crispEdges"/>
<path d="M210 148h2v2h-2zM222 148h2v2h-2zM266 150h2v2h-2zM264 172h2v2h-2zM156 216h2v2h-2zM212 224h2v2h-2z" fill="#f0d098" shape-rendering="crispEdges"/>
<path d="M234 148h2v2h-2zM234 150h2v2h-2zM158 152h2v2h-2zM216 152h2v2h-2zM192 154h2v2h-2zM204 154h2v2h-2zM222 154h2v2h-2zM202 156h2v2h-2zM154 158h2v2h-2zM210 158h2v2h-2zM214 158h2v2h-2zM204 160h2v2h-2zM244 160h2v2h-2zM196 162h2v2h-2zM202 162h2v2h-2zM238 162h2v2h-2zM250 162h2v2h-2zM218 166h2v2h-2zM260 166h2v2h-2zM148 168h2v2h-2zM232 168h2v2h-2zM152 170h2v2h-2zM228 170h2v2h-2zM242 170h2v2h-2zM156 172h2v2h-2zM222 172h2v2h-2zM158 174h2v2h-2zM160 174h2v2h-2zM254 174h2v2h-2zM232 178h2v2h-2zM234 178h2v2h-2zM236 178h2v2h-2zM240 178h2v2h-2zM180 182h2v2h-2zM250 182h2v2h-2zM228 184h2v2h-2zM256 184h2v2h-2zM258 184h2v2h-2zM262 184h2v2h-2zM252 188h2v2h-2zM222 190h2v2h-2zM182 196h2v2h-2zM184 204h2v2h-2zM198 204h2v2h-2zM266 204h2v2h-2zM200 206h2v2h-2zM198 210h2v2h-2zM198 212h2v2h-2zM256 214h2v2h-2zM230 228h2v2h-2zM260 228h2v2h-2zM266 228h2v2h-2zM162 230h2v2h-2zM230 230h2v2h-2zM260 230h2v2h-2zM200 234h2v2h-2zM206 234h2v2h-2z" fill="#a85018" shape-rendering="crispEdges"/>
<path d="M248 148h2v2h-2zM250 150h2v2h-2zM186 152h2v2h-2zM232 154h2v2h-2zM208 160h2v2h-2zM198 180h2v2h-2zM176 182h2v2h-2zM174 186h2v2h-2zM230 188h2v2h-2zM218 190h2v2h-2zM192 192h2v2h-2zM204 196h2v2h-2zM172 198h2v2h-2zM198 198h2v2h-2zM200 198h2v2h-2zM192 200h2v2h-2zM234 204h2v2h-2zM214 208h2v2h-2zM216 208h2v2h-2zM170 216h2v2h-2zM236 216h2v2h-2zM186 222h2v2h-2zM242 226h2v2h-2zM172 228h2v2h-2zM248 228h2v2h-2zM160 240h2v2h-2z" fill="#e89840" shape-rendering="crispEdges"/>
<path d="M264 148h2v2h-2zM254 152h2v2h-2zM170 162h2v2h-2zM172 170h2v2h-2zM264 178h2v2h-2zM144 180h2v2h-2zM212 180h2v2h-2zM154 184h2v2h-2zM264 194h2v2h-2zM264 196h2v2h-2zM228 198h2v2h-2zM220 214h2v2h-2zM222 214h2v2h-2zM246 214h2v2h-2zM156 218h2v2h-2zM226 218h2v2h-2zM154 220h2v2h-2zM184 220h2v2h-2zM168 222h2v2h-2zM178 240h2v2h-2z" fill="#f8d8b8" shape-rendering="crispEdges"/>
<path d="M266 148h2v2h-2zM166 150h2v2h-2zM174 152h2v2h-2zM268 152h2v2h-2zM180 158h2v2h-2zM174 162h2v2h-2zM172 166h2v2h-2zM178 166h2v2h-2zM174 168h2v2h-2zM178 168h2v2h-2zM174 170h2v2h-2zM268 178h2v2h-2zM148 184h2v2h-2zM212 190h2v2h-2zM144 198h2v2h-2zM168 206h2v2h-2zM230 208h2v2h-2zM222 210h2v2h-2zM146 212h2v2h-2zM232 212h2v2h-2zM172 224h2v2h-2zM178 228h2v2h-2zM180 228h2v2h-2zM180 230h2v2h-2zM248 238h2v2h-2zM250 240h2v2h-2z" fill="#f8f0e0" shape-rendering="crispEdges"/>
<path d="M268 148h2v2h-2zM162 154h2v2h-2zM168 156h2v2h-2zM174 160h2v2h-2zM170 164h2v2h-2zM210 174h2v2h-2zM208 176h2v2h-2zM214 180h2v2h-2zM196 184h2v2h-2zM178 186h2v2h-2zM156 190h2v2h-2zM160 192h2v2h-2zM144 206h2v2h-2zM190 206h2v2h-2zM236 208h2v2h-2zM250 210h2v2h-2zM196 218h2v2h-2zM212 218h2v2h-2zM182 220h2v2h-2zM170 224h2v2h-2zM192 226h2v2h-2zM176 228h2v2h-2zM240 238h2v2h-2zM144 240h2v2h-2zM176 240h2v2h-2zM244 240h2v2h-2zM246 240h2v2h-2z" fill="#f0d0a8" shape-rendering="crispEdges"/>
<path d="M190 150h2v2h-2zM194 150h2v2h-2zM202 150h2v2h-2zM244 150h2v2h-2zM160 158h2v2h-2zM148 160h2v2h-2zM208 162h2v2h-2zM220 162h2v2h-2zM254 162h2v2h-2zM260 164h2v2h-2zM168 168h2v2h-2zM210 170h2v2h-2zM150 174h2v2h-2zM246 174h2v2h-2zM178 176h2v2h-2zM164 178h2v2h-2zM164 180h2v2h-2zM204 182h2v2h-2zM212 184h2v2h-2zM238 184h2v2h-2zM160 186h2v2h-2zM248 186h2v2h-2zM190 188h2v2h-2zM240 188h2v2h-2zM172 190h2v2h-2zM224 190h2v2h-2zM224 192h2v2h-2zM190 194h2v2h-2zM240 196h2v2h-2zM206 198h2v2h-2zM210 198h2v2h-2zM214 198h2v2h-2zM224 198h2v2h-2zM146 200h2v2h-2zM208 204h2v2h-2zM224 204h2v2h-2zM250 204h2v2h-2zM172 210h2v2h-2zM176 210h2v2h-2zM212 212h2v2h-2zM240 214h2v2h-2zM180 216h2v2h-2zM178 218h2v2h-2zM166 220h2v2h-2zM256 220h2v2h-2zM238 222h2v2h-2zM252 224h2v2h-2zM146 228h2v2h-2zM148 230h2v2h-2zM150 230h2v2h-2zM186 230h2v2h-2zM250 230h2v2h-2zM170 232h2v2h-2zM196 232h2v2h-2zM256 232h2v2h-2zM144 234h2v2h-2zM164 236h2v2h-2zM226 236h2v2h-2zM232 236h2v2h-2zM234 236h2v2h-2zM152 238h2v2h-2zM162 238h2v2h-2zM164 238h2v2h-2zM150 240h2v2h-2zM156 240h2v2h-2zM212 240h2v2h-2z" fill="#d88030" shape-rendering="crispEdges"/>
<path d="M208 150h2v2h-2zM220 150h2v2h-2zM236 154h2v2h-2zM146 156h2v2h-2zM256 158h2v2h-2zM256 160h2v2h-2zM180 164h2v2h-2zM158 180h2v2h-2zM148 192h2v2h-2zM228 194h2v2h-2zM236 196h2v2h-2zM244 204h2v2h-2zM192 206h2v2h-2zM246 206h2v2h-2zM208 208h2v2h-2zM226 208h2v2h-2zM242 208h2v2h-2zM246 208h2v2h-2zM172 214h2v2h-2zM146 216h2v2h-2zM162 216h2v2h-2zM226 220h2v2h-2zM154 222h2v2h-2zM166 222h2v2h-2zM246 224h2v2h-2zM176 232h2v2h-2z" fill="#f0b070" shape-rendering="crispEdges"/>
<path d="M216 150h2v2h-2zM224 150h2v2h-2zM236 150h2v2h-2zM246 150h2v2h-2zM150 154h2v2h-2zM158 154h2v2h-2zM194 154h2v2h-2zM242 154h2v2h-2zM226 158h2v2h-2zM154 160h2v2h-2zM146 162h2v2h-2zM234 162h2v2h-2zM162 164h2v2h-2zM204 164h2v2h-2zM216 164h2v2h-2zM222 164h2v2h-2zM262 164h2v2h-2zM264 164h2v2h-2zM162 166h2v2h-2zM218 168h2v2h-2zM222 168h2v2h-2zM244 168h2v2h-2zM164 170h2v2h-2zM198 170h2v2h-2zM224 170h2v2h-2zM232 172h2v2h-2zM244 172h2v2h-2zM162 174h2v2h-2zM224 174h2v2h-2zM252 174h2v2h-2zM200 176h2v2h-2zM242 178h2v2h-2zM248 178h2v2h-2zM238 182h2v2h-2zM268 182h2v2h-2zM214 184h2v2h-2zM268 184h2v2h-2zM222 186h2v2h-2zM258 186h2v2h-2zM232 188h2v2h-2zM256 188h2v2h-2zM236 190h2v2h-2zM256 190h2v2h-2zM240 192h2v2h-2zM180 194h2v2h-2zM182 194h2v2h-2zM252 194h2v2h-2zM210 196h2v2h-2zM220 196h2v2h-2zM242 196h2v2h-2zM246 196h2v2h-2zM248 196h2v2h-2zM152 198h2v2h-2zM174 198h2v2h-2zM218 198h2v2h-2zM246 198h2v2h-2zM220 200h2v2h-2zM208 202h2v2h-2zM154 204h2v2h-2zM200 204h2v2h-2zM202 204h2v2h-2zM268 204h2v2h-2zM204 206h2v2h-2zM204 210h2v2h-2zM158 212h2v2h-2zM162 212h2v2h-2zM190 212h2v2h-2zM192 212h2v2h-2zM204 214h2v2h-2zM254 216h2v2h-2zM162 224h2v2h-2zM200 224h2v2h-2zM238 224h2v2h-2zM252 228h2v2h-2zM262 228h2v2h-2zM264 228h2v2h-2zM158 230h2v2h-2zM198 230h2v2h-2zM212 232h2v2h-2zM164 234h2v2h-2zM208 236h2v2h-2zM186 240h2v2h-2zM194 240h2v2h-2zM208 240h2v2h-2z" fill="#c06018" shape-rendering="crispEdges"/>
<path d="M238 150h2v2h-2zM236 152h2v2h-2zM150 160h2v2h-2zM248 168h2v2h-2zM206 170h2v2h-2zM262 170h2v2h-2zM248 174h2v2h-2zM158 176h2v2h-2zM202 180h2v2h-2zM208 182h2v2h-2zM240 182h2v2h-2zM266 182h2v2h-2zM218 184h2v2h-2zM162 186h2v2h-2zM170 186h2v2h-2zM250 188h2v2h-2zM194 190h2v2h-2zM198 190h2v2h-2zM238 190h2v2h-2zM198 194h2v2h-2zM238 194h2v2h-2zM196 196h2v2h-2zM166 198h2v2h-2zM258 198h2v2h-2zM260 198h2v2h-2zM268 198h2v2h-2zM268 200h2v2h-2zM162 202h2v2h-2zM246 202h2v2h-2zM154 206h2v2h-2zM194 206h2v2h-2zM212 206h2v2h-2zM162 214h2v2h-2zM240 216h2v2h-2zM230 224h2v2h-2zM154 226h2v2h-2zM144 228h2v2h-2zM152 228h2v2h-2zM146 230h2v2h-2zM212 234h2v2h-2zM210 240h2v2h-2zM214 240h2v2h-2z" fill="#d07820" shape-rendering="crispEdges"/>
<path d="M268 150h2v2h-2zM166 156h2v2h-2zM176 156h2v2h-2zM182 156h2v2h-2zM172 164h2v2h-2zM176 170h2v2h-2zM266 172h2v2h-2zM268 172h2v2h-2zM216 178h2v2h-2zM156 180h2v2h-2zM160 190h2v2h-2zM146 210h2v2h-2zM148 212h2v2h-2zM224 212h2v2h-2zM234 212h2v2h-2zM216 222h2v2h-2zM242 236h2v2h-2z" fill="#f8e8d8" shape-rendering="crispEdges"/>
<path d="M144 152h2v2h-2zM174 156h2v2h-2zM254 156h2v2h-2zM174 158h2v2h-2zM258 162h2v2h-2zM180 168h2v2h-2zM210 172h2v2h-2zM168 174h2v2h-2zM208 174h2v2h-2zM176 176h2v2h-2zM146 178h2v2h-2zM200 186h2v2h-2zM202 186h2v2h-2zM144 190h2v2h-2zM228 190h2v2h-2zM262 194h2v2h-2zM242 206h2v2h-2zM244 206h2v2h-2zM148 214h2v2h-2zM154 216h2v2h-2zM172 216h2v2h-2zM214 216h2v2h-2zM236 220h2v2h-2zM246 220h2v2h-2zM192 222h2v2h-2zM244 234h2v2h-2zM246 236h2v2h-2zM254 236h2v2h-2zM264 238h2v2h-2z" fill="#f0c080" shape-rendering="crispEdges"/>
<path d="M146 152h2v2h-2zM162 158h2v2h-2zM268 170h2v2h-2zM202 188h2v2h-2zM146 196h2v2h-2zM232 196h2v2h-2zM236 198h2v2h-2zM248 210h2v2h-2zM248 214h2v2h-2zM232 218h2v2h-2zM234 218h2v2h-2z" fill="#f0d8a8" shape-rendering="crispEdges"/>
<path d="M166 152h2v2h-2zM168 154h2v2h-2zM176 158h2v2h-2zM178 164h2v2h-2zM170 174h2v2h-2zM146 184h2v2h-2zM206 190h2v2h-2zM166 206h2v2h-2zM146 208h2v2h-2zM222 218h2v2h-2zM172 222h2v2h-2z" fill="#fff0e8" shape-rendering="crispEdges"/>
<path d="M178 152h2v2h-2zM262 154h2v2h-2zM164 160h2v2h-2zM172 162h2v2h-2zM158 188h2v2h-2zM146 192h2v2h-2zM228 200h2v2h-2zM150 210h2v2h-2zM220 210h2v2h-2zM228 210h2v2h-2zM230 212h2v2h-2zM226 214h2v2h-2zM232 214h2v2h-2zM226 216h2v2h-2zM214 218h2v2h-2zM224 218h2v2h-2zM242 240h2v2h-2z" fill="#f8e0b8" shape-rendering="crispEdges"/>
<path d="M196 152h2v2h-2zM202 172h2v2h-2zM180 184h2v2h-2zM222 184h2v2h-2zM168 186h2v2h-2zM192 186h2v2h-2zM208 198h2v2h-2zM194 204h2v2h-2zM154 210h2v2h-2zM190 210h2v2h-2zM182 214h2v2h-2zM178 220h2v2h-2zM164 226h2v2h-2zM232 234h2v2h-2z" fill="#d07828" shape-rendering="crispEdges"/>
<path d="M172 154h2v2h-2zM172 172h2v2h-2zM212 174h2v2h-2zM208 178h2v2h-2zM166 204h2v2h-2zM224 216h2v2h-2zM212 222h2v2h-2z" fill="#f8e0c8" shape-rendering="crispEdges"/>
<path d="M150 156h2v2h-2zM164 162h2v2h-2zM218 162h2v2h-2zM200 170h2v2h-2zM168 188h2v2h-2zM218 188h2v2h-2zM264 188h2v2h-2zM164 190h2v2h-2zM168 192h2v2h-2zM260 192h2v2h-2zM192 194h2v2h-2zM254 198h2v2h-2zM242 200h2v2h-2zM252 204h2v2h-2zM240 208h2v2h-2zM152 210h2v2h-2zM164 214h2v2h-2zM182 216h2v2h-2zM240 218h2v2h-2zM254 222h2v2h-2zM232 224h2v2h-2zM244 226h2v2h-2zM170 228h2v2h-2zM214 230h2v2h-2zM190 232h2v2h-2zM214 234h2v2h-2zM180 238h2v2h-2z" fill="#e08030" shape-rendering="crispEdges"/>
<path d="M196 156h2v2h-2zM204 156h2v2h-2zM214 156h2v2h-2zM156 158h2v2h-2zM158 158h2v2h-2zM148 162h2v2h-2zM152 162h2v2h-2zM192 162h2v2h-2zM228 162h2v2h-2zM230 162h2v2h-2zM154 164h2v2h-2zM186 164h2v2h-2zM196 164h2v2h-2zM148 166h2v2h-2zM154 166h2v2h-2zM208 166h2v2h-2zM232 166h2v2h-2zM156 168h2v2h-2zM196 168h2v2h-2zM242 168h2v2h-2zM256 170h2v2h-2zM146 172h2v2h-2zM222 174h2v2h-2zM238 176h2v2h-2zM236 180h2v2h-2zM260 180h2v2h-2zM232 182h2v2h-2zM164 196h2v2h-2zM180 196h2v2h-2zM186 198h2v2h-2zM176 206h2v2h-2zM198 206h2v2h-2zM182 208h2v2h-2zM262 212h2v2h-2zM266 222h2v2h-2zM200 230h2v2h-2zM164 232h2v2h-2zM202 236h2v2h-2z" fill="#985018" shape-rendering="crispEdges"/>
<path d="M176 166h2v2h-2z" fill="#fff0e0" shape-rendering="crispEdges"/>
<path d="M262 238h2v2h-2z" fill="#f0c090" shape-rendering="crispEdges"/>
</g>
<g filter="url(#sb3)" fill="none" stroke-linecap="round">
<path d="M143.4 189.9l3.3 -2.5M168.5 214.5l2.2 4.1M169.4 217.3l2.1 4.8M170.5 222.2l2.6 2.2M177.2 238.1l0.7 2.7M146 224.4l1.4 2.3M179.4 174.6l0.9 1.9M221.4 208.4l4.2 1.5M228.2 210.4l4.4 0.6M242.1 213.8l3 1.2M245.4 214.2l3.2 1.8M263 203.9l2.9 -0.3M237 232.2l2.1 1.7M239 232.9l3.5 1.8M242.2 234.3l2.7 -0.6" stroke="#fcf6ec" stroke-width="3.0" stroke-opacity="0.8"/>
<path d="M146.9 188.4l2.2 -2M170.2 171.1l3.2 -2.7M179.7 157.7l3.3 -3.8M177.4 156.5l0.9 1.6M179.3 159.6l-0.7 1.8M178.2 162.8l0.4 1.4M179.9 164.3l-0.2 3M180.2 168.8l-0.6 3M178.9 181l0.5 2.8M234.4 212.6l3.4 0.8M239 213.6l2.6 0M226.7 232.1l2.5 0M229.5 231.9l4.1 -0.1M244.8 235.1l2.8 -0.4M258.7 235.2l2.1 0.2" stroke="#fcf6ec" stroke-width="2.0" stroke-opacity="0.8"/>
<path d="M150.1 185.2l2.6 -0.9M166.5 175.7l1.7 -3.7M168.5 173.2l2.5 -2.8M174.7 165.4l2.1 -2.5M176.4 161.8l2.8 -1.7M180.8 171.9l-0.1 1.4M178.6 178l1.1 1.7M178.6 183.2l0.5 2.1M217.5 207.7l3.3 1.3M260 205.5l2.6 -1.3M193.9 219.1l2 4.2M252.4 235.2l2.9 -0.9M254.7 234.1l3.2 0.4" stroke="#fcf6ec" stroke-width="2.5" stroke-opacity="0.8"/>
<path d="M153.7 184.5l1.9 -1.6M161.2 178.2l2.9 -0.8M172.2 167.8l3.6 -3.7M145.1 204.7l0.6 2.3M145.2 214l1 4.2M146.3 221.4l-0.4 2.9M231.2 211.7l4.1 1.3M192.8 213.2l0.9 2.6M198 232.3l-0.1 2.7M198.6 235.5l0.7 1.9M197.9 238.1l0.1 3.7M164.4 145.9l3.9 0.7M167.2 147.6l3.1 0.8M170.6 148.4l4.4 0.1" stroke="#fcf6ec" stroke-width="4.0" stroke-opacity="0.8"/>
<path d="M155.1 182l2.4 -1.3M158.9 180.7l1.5 -2.1M163.2 176.6l2.7 -2.2M179.1 160.1l1.6 -2.2M182.9 153.7l1.8 -2.2M167.6 212l0.7 1.8M225.7 210.3l3.4 1.1M256.1 205.3l3.2 -1M196 222.5l0.4 2.7M196.2 226.4l1.1 1.6M225 231.8l2.6 0.2M232.2 231.9l3.3 0.3M249.3 234.6l2.5 -0.3M260.9 235.8l4.5 0M264.1 235.6l3.5 -0.3" stroke="#fcf6ec" stroke-width="3.5" stroke-opacity="0.8"/>
<path d="M164.7 201.3l0.7 3.9M166.8 207.5l1 5.1M173.8 228.5l0.8 2.9M175.5 234.9l0.7 3M146.1 210l-0.3 3.3M147.2 232l-0.7 2.1M191.1 210.4l0.9 2.4M192.8 216.6l2.4 2.4M196 229.7l0.2 2.6" stroke="#fcf6ec" stroke-width="4.5" stroke-opacity="0.8"/>
<path d="M165.7 206.1l1.7 1.7M146.1 238.5l0.4 2.8" stroke="#fcf6ec" stroke-width="5.5" stroke-opacity="0.8"/>
<path d="M172.6 225.1l0.7 2.5M174.5 231.6l2.1 3.2M146.4 217.9l0.7 2.4M147.2 228.6l-0.3 2.2" stroke="#fcf6ec" stroke-width="5.0" stroke-opacity="0.8"/>
<path d="M145.9 208.2l-0.9 1.9M147.2 235.2l-1.1 2.4" stroke="#fcf6ec" stroke-width="6.0" stroke-opacity="0.8"/>
<path d="M254 216.3l0.5 0.3M203.7 216.7l0.9 0.4M195.1 172.3l0.9 0.5M204.2 207.4l0.4 0.2M259.6 171.8l-0.9 0.2M231.1 175.2l-0.5 0.2" stroke="#805850" stroke-width="1.5" stroke-opacity="0.6"/>
<path d="M187.2 160.8l0.3 0.5M267.4 188.5l0 0.8M227.1 231.9l-0.1 0.6" stroke="#785848" stroke-width="3.0" stroke-opacity="0.6"/>
<path d="M148.8 172.1l-0.3 0.4M178.7 195.9l0.5 0.5M249.9 179.9l0.5 0.5M238 171.7l-0.4 0.6M243.8 171.9l0.2 0.6M248.5 160.5l-0.5 0.4M195.9 167.9l0.8 0.5" stroke="#684840" stroke-width="2.0" stroke-opacity="0.6"/>
<path d="M246 172.7l-0.5 0.3M185.1 199l0.5 0.3M155.5 146.3l-0.1 0.3M198.9 164.6l0 0.4M235.5 229.9l-0.3 0.1" stroke="#886058" stroke-width="2.0" stroke-opacity="0.6"/>
<path d="M209.7 157.3l0.7 0.6M245.4 157l-0.4 0.9M245.7 166.6l-0.8 0M259.6 217.8l0.1 0.5M198.8 163.6l-0.7 0.5M257.8 221.2l0.6 0.8M158.2 160.4l0.9 0.7M226.2 154.2l-0.4 0.3M255.6 186.1l-0.8 0.6M261.4 171.2l0.8 0.1" stroke="#886058" stroke-width="2.5" stroke-opacity="0.6"/>
<path d="M254.9 189.5l0.7 0.1M218.6 157l-1 0.7" stroke="#785850" stroke-width="2.5" stroke-opacity="0.6"/>
<path d="M145.5 168.8l0.4 0.2M242.7 173.7l0.2 0.8M236.6 180.7l-0.2 0.4" stroke="#684840" stroke-width="3.0" stroke-opacity="0.6"/>
<path d="M228.4 176.2l-0.3 0.7M251.9 183.2l0.3 1M230 228.7l-0.3 0.1M191.5 181.1l-0.1 1" stroke="#684840" stroke-width="1.5" stroke-opacity="0.6"/>
<path d="M180 201l-0.1 0.3M244.9 161.6l0 0.3M201.1 239.8l-1.1 0.4M204.3 155.3l0.3 0.9M203.1 179.3l0.4 0.1M227.4 162.5l0.2 0.8" stroke="#805850" stroke-width="2.0" stroke-opacity="0.6"/>
<path d="M265.5 217.2l0.9 0M204.1 225.2l-0.8 0M261.4 226.1l-0 1M266.5 211l-0.6 0.4M235 177.9l-0 1.2" stroke="#785848" stroke-width="2.5" stroke-opacity="0.6"/>
<path d="M205.5 214.8l-0.2 0.6M204.8 152.9l0.6 0.3" stroke="#785048" stroke-width="1.5" stroke-opacity="0.6"/>
<path d="M250.5 179.9l0.1 0.4M246.3 161.8l-0.2 0.5M261.1 209.9l0.2 0.2" stroke="#785850" stroke-width="2.0" stroke-opacity="0.6"/>
<path d="M246.2 150.2l-0.1 0.5M195.2 234.3l-0.4 0.1" stroke="#806050" stroke-width="2.5" stroke-opacity="0.6"/>
<path d="M233.2 174l-0 0.4M248.9 160.5l0.9 0.3M264.4 207.1l0.6 1.1M182.5 198.7l0.3 0M267.7 167.6l-0.3 0.7M249 184.5l-0.6 0.8M242.7 161.8l0.8 0.2M222.4 198.4l-0.3 0.6M263.3 213.9l0.7 1.2M190.1 173.9l-0.8 0.4M196 231.1l-0.3 0.5" stroke="#684840" stroke-width="2.5" stroke-opacity="0.6"/>
<path d="M213.4 164.3l-0.1 0.2M147.7 164.7l0.1 0.7M222.9 168l0.4 1.1M221.6 173.2l-0.6 0.9M183.6 181.3l-0.5 0.5M202.1 226.9l-0.2 0M201.6 208.1l-0.4 0.1" stroke="#705048" stroke-width="2.0" stroke-opacity="0.6"/>
<path d="M163.6 165.4l-0.2 0.2M194.5 231.9l0.8 0.3M224.3 195l0.3 0.7M243.9 159.9l-0 1" stroke="#886058" stroke-width="1.5" stroke-opacity="0.6"/>
<path d="M201.5 161.4l-1.2 0.7M254.7 189.5l0.1 0.6" stroke="#705048" stroke-width="2.5" stroke-opacity="0.6"/>
<path d="M229.5 183l-0.8 0.1M184.6 168.3l-0.3 0.2M244 177.4l-0.3 0.5" stroke="#785048" stroke-width="2.0" stroke-opacity="0.6"/>
<path d="M183.6 196.2l-1 0.2" stroke="#705048" stroke-width="1.5" stroke-opacity="0.6"/>
<path d="M243.3 163.3l-0.1 0.4M185.6 211l0.3 0.4" stroke="#785850" stroke-width="3.0" stroke-opacity="0.6"/>
<path d="M184.2 207.8l0.5 0.5M185.4 165.7l0.3 0.1M150.9 153.4l0.4 0.4" stroke="#785048" stroke-width="3.0" stroke-opacity="0.6"/>
<path d="M150.2 170.8l-0.2 0.7M225.6 156l-0.4 0.6" stroke="#886058" stroke-width="3.0" stroke-opacity="0.6"/>
<path d="M221.9 167.9l0.6 0.1M155.5 154l-0.3 0.4M203.4 228l-0.2 0.8M152.6 170.1l0.9 0.3" stroke="#785850" stroke-width="1.5" stroke-opacity="0.6"/>
<path d="M184.7 150.1l0.1 0.4" stroke="#805850" stroke-width="3.0" stroke-opacity="0.6"/>
<path d="M180.9 201.8l-0.3 0.7M192.5 237.9l-1 0" stroke="#705040" stroke-width="2.0" stroke-opacity="0.6"/>
<path d="M209.7 235.2l-0.8 0.1M205.6 226.4l-0.5 0.4M263.3 181.8l0.4 0.8" stroke="#705040" stroke-width="1.5" stroke-opacity="0.6"/>
<path d="M184.9 169.1l-0.5 0.2M228.2 177.7l0.2 0.6" stroke="#806050" stroke-width="1.5" stroke-opacity="0.6"/>
<path d="M250.8 160.8l-0.4 0.3" stroke="#705040" stroke-width="3.0" stroke-opacity="0.6"/>
<path d="M230.3 178.5l0.8 0.5" stroke="#705048" stroke-width="3.0" stroke-opacity="0.6"/>
<path d="M243.3 174.2l0 0.8M157.9 201.3l-0.1 1" stroke="#785048" stroke-width="2.5" stroke-opacity="0.6"/>
<path d="M196 240.3l-1.1 0.5" stroke="#705040" stroke-width="2.5" stroke-opacity="0.6"/>
<path d="M164.3 169.6l0.4 0M162.5 199l0.1 0" stroke="#fcfcf8" stroke-width="5.5"/>
<path d="M210.5 177l3 0M231 194l0.1 0M261 166.5l2 0" stroke="#fcfcf8" stroke-width="8.0"/>
<path d="M211 193l0.1 0" stroke="#fcfcf8" stroke-width="7.0"/>
<path d="M162.5 192l0.1 0M151 195l0.1 0M243 152l0.1 0M256 180l2 0" stroke="#fcfcf8" stroke-width="6.0"/>
<path d="M204 190l0.1 0M177.5 149l3 0" stroke="#fcfcf8" stroke-width="5.0"/>
<path d="M147 196l0 4M165 152l2 0" stroke="#fcfcf8" stroke-width="4.0"/>
<path d="M228.3 147.7l0.1 0.4M241 175l-1.3 1.2M204.4 227.1l1.3 1M160.3 154.5l-1.5 1M188.9 237.6l1.2 0.4M201.4 240.5l0.1 0.2M216.1 156.9l-1 0.1" stroke="#fcfaf4" stroke-width="4.0"/>
<path d="M260.6 181l1.1 0.4M227 233.4l1.2 0.3M152 172.7l0.3 1.1M259.7 209.2l0.5 1M262.7 218.3l-1 0.4M231.4 176.1l0.1 0.2" stroke="#fcfaf4" stroke-width="3.0"/>
<path d="M166.9 232.3l-0 0.7M244.9 165.2l0.7 0.7M153.1 156.9l-0.5 0.6M153.1 166.3l0.5 0.1M216.3 148.5l-1 0.3M160.4 228.7l-0.2 1.3" stroke="#fcfaf4" stroke-width="2.5"/>
<path d="M260.8 223.3l0.6 0.1M196.3 166.6l0.1 0.1" stroke="#fcfaf4" stroke-width="2.0"/>
<path d="M228.9 172.1l-0 0M190.1 178.3l0.6 1.4M269 221l-1.1 0.4M165.1 231.3l0.1 0.7M193.4 159.2l0.5 1.4" stroke="#fcfaf4" stroke-width="3.5"/>
<path d="M193.2 173l-0.6 0.4M150.1 162.6l0.6 0.5M258.6 181.1l0.1 0.1M210 152.8l0.6 0.4" stroke="#fcfaf4" stroke-width="4.5"/>
<path d="M249 228.7l0.1 0.2M236.9 209.4l0.2 0M191.5 202.7l0.4 0M266.3 190.2l-0.3 0.7M217 148.2l-0.3 0.4M161.3 197l-0.9 0.1M252.4 221l1.2 0.1M215.2 168.6l0.5 0.3" stroke="#6070b0" stroke-width="1.5" stroke-opacity="0.6"/>
<path d="M223.5 170.9l-1.2 0.1M149.9 201.4l0.3 0.4M268.9 163.4l-0.4 0.4M205.5 166.8l0.2 0.7M167.6 191.2l0.2 1.1" stroke="#7080c0" stroke-width="2.0" stroke-opacity="0.6"/>
<path d="M263.8 173.7l-0.2 1.4M144.8 151.6l-0.4 0.1M235 162.3l-0.6 0.5M230 197.1l-0.5 1M231.3 156.6l-0.8 0.3M245.4 185.9l0.1 0.3" stroke="#8080c0" stroke-width="2.0" stroke-opacity="0.6"/>
<path d="M190.3 231.5l-0.6 0M175.5 213.8l0.7 0.3M200.2 153.7l-0.8 0.4" stroke="#5060b0" stroke-width="2.0" stroke-opacity="0.6"/>
<path d="M147.1 237l-0.1 0.6" stroke="#5060b0" stroke-width="2.5" stroke-opacity="0.6"/>
<path d="M171.8 196.9l-0.4 0.2M251.7 166.8l-0.5 1M203 160l-0.6 1" stroke="#7070c0" stroke-width="1.5" stroke-opacity="0.6"/>
<path d="M227.3 157l0.1 1M146.2 164.6l0.2 0.8M189.3 178.5l-1.5 0.1M157.2 203.6l0.3 0.7M186.1 208.4l0.2 0.4M200.4 180.6l-0.4 0.2M228.8 162.1l-0.2 0.6M214.3 218.9l-0.3 0.6M207.7 210.5l1.4 0.3M172.4 203.8l0.9 0.6M219.8 157.3l-0 0.8M214.6 172.2l0.5 0.7" stroke="#7080c0" stroke-width="1.5" stroke-opacity="0.6"/>
<path d="M185.3 161.7l-0.1 0.7M150 160.3l-0.4 0.3" stroke="#6070b0" stroke-width="2.5" stroke-opacity="0.6"/>
<path d="M232.6 153.9l-0.7 0.4M195.1 226.1l0.3 0.8" stroke="#7080c0" stroke-width="1.0" stroke-opacity="0.6"/>
<path d="M185.3 216.3l-1 0M245.8 238l-0.4 0.1" stroke="#6060b0" stroke-width="1.5" stroke-opacity="0.6"/>
<path d="M179 171.3l0.2 0.1" stroke="#7070c0" stroke-width="2.0" stroke-opacity="0.6"/>
<path d="M264.5 178.9l0.2 0.6M247.2 160.7l0.6 0.2" stroke="#8080c0" stroke-width="1.5" stroke-opacity="0.6"/>
<path d="M186.1 173.5l-0.2 0.5M197.6 234l-0.3 0.7M191.4 211.5l0.3 0.1M238.5 193l0.7 0.1" stroke="#6060b0" stroke-width="2.0" stroke-opacity="0.6"/>
<path d="M184.3 203.7l-0.9 0.6M145.3 207.4l-0.3 0.1" stroke="#6070b0" stroke-width="2.0" stroke-opacity="0.6"/>
<path d="M163.6 217.6l0.3 0.3M197.3 182.8l0.6 0.9" stroke="#8080c0" stroke-width="2.5" stroke-opacity="0.6"/>
<path d="M147.9 163.1l0.1 0.3M210.9 157.4l-0.4 0.1" stroke="#7070b0" stroke-width="2.5" stroke-opacity="0.6"/>
<path d="M222.6 192.4l-0.8 0.4" stroke="#7080c0" stroke-width="2.5" stroke-opacity="0.6"/>
<path d="M192.8 212.5l0.2 0.5M236.8 201.7l0.5 0.2" stroke="#8090c0" stroke-width="3.0" stroke-opacity="0.6"/>
<path d="M182.8 183.2l0.1 0.4" stroke="#7080c0" stroke-width="3.0" stroke-opacity="0.6"/>
<path d="M222.3 222.4l-0.1 1.5" stroke="#5060b0" stroke-width="1.5" stroke-opacity="0.6"/>
<path d="M209.2 208.7l1.1 0.2" stroke="#6070b0" stroke-width="1.0" stroke-opacity="0.6"/>
<path d="M212.2 224l-0.6 0.4M231.9 229.9l0 0.3" stroke="#7070c0" stroke-width="2.5" stroke-opacity="0.6"/>
<path d="M169.1 212.9l-1 0.4" stroke="#6060b0" stroke-width="2.5" stroke-opacity="0.6"/>
<path d="M156.3 212.3l-0.8 0.3M216.9 165.3l0.3 0.6" stroke="#8080c0" stroke-width="1.0" stroke-opacity="0.6"/>
<path d="M208.5 152.1l0 0.2" stroke="#7070b0" stroke-width="2.0" stroke-opacity="0.6"/>
<path d="M177.1 218.2l0.9 0.5" stroke="#5060b0" stroke-width="1.0" stroke-opacity="0.6"/>
<path d="M175.1 148.1l0.5 0.1" stroke="#8080c0" stroke-width="3.0" stroke-opacity="0.6"/>
<path d="M173.6 197l-0.4 0.1" stroke="#5060b0" stroke-width="3.0" stroke-opacity="0.6"/>
<path d="M212.2 238l0.7 0.3" stroke="#7070b0" stroke-width="1.5" stroke-opacity="0.6"/>
<path d="M217.4 202.3l-0.7 0.1" stroke="#6070b0" stroke-width="3.0" stroke-opacity="0.6"/>
<path d="M250.6 198.8l0.5 0.8" stroke="#7070b0" stroke-width="1.0" stroke-opacity="0.6"/>
</g>
</g>
<text x="65" y="24.0" font-size="10" text-anchor="middle" fill="#111" font-weight="bold" >-</text>
<text x="202.7" y="24.0" font-size="10" text-anchor="middle" fill="#111" font-weight="bold" >+</text>
<text x="69.0" y="132.9" font-size="12.25" text-anchor="start" fill="#222" font-weight="normal" >High expression of NNMT</text>
<line x1="11" y1="136.2" x2="266" y2="136.2" stroke="#555" stroke-width="1.5" />
<text x="67.4" y="145.2" font-size="10.8" text-anchor="middle" fill="#111" font-weight="bold" >++</text>
<text x="207.2" y="145.2" font-size="10.8" text-anchor="middle" fill="#111" font-weight="bold" >+++</text>
<text x="135.7" y="113" font-size="8.7" text-anchor="end" fill="#000" font-weight="normal" >20 µm</text>
<line x1="116" y1="116.3" x2="135.5" y2="116.3" stroke="#111" stroke-width="1.3" />
<text x="268.7" y="113" font-size="8.7" text-anchor="end" fill="#000" font-weight="normal" >20 µm</text>
<line x1="249" y1="116.3" x2="268.5" y2="116.3" stroke="#111" stroke-width="1.3" />
<text x="135.7" y="235" font-size="8.7" text-anchor="end" fill="#000" font-weight="normal" >20 µm</text>
<line x1="116" y1="238.3" x2="135.5" y2="238.3" stroke="#111" stroke-width="1.3" />
<text x="268.7" y="235" font-size="8.7" text-anchor="end" fill="#000" font-weight="normal" >20 µm</text>
<line x1="249" y1="238.3" x2="268.5" y2="238.3" stroke="#111" stroke-width="1.3" />
<text x="289.5" y="8.8" font-size="10" text-anchor="start" fill="#222" font-weight="normal" >B</text>
<rect x="348.3" y="16.9" width="11.7" height="8.1" fill="#ff0000"/>
<rect x="348.3" y="31.3" width="11.7" height="8.3" fill="#0000ff"/>
<text x="366.5" y="24.8" font-size="11.5" text-anchor="start" fill="#222" font-weight="normal" >NNMT high expression</text>
<text x="366.5" y="39.6" font-size="11.5" text-anchor="start" fill="#222" font-weight="normal" >NNMT low expression</text>
<text x="376.5" y="62.5" font-size="11.7" text-anchor="start" fill="#222" font-weight="normal" >p&lt;0.01</text>
<rect x="351.2" y="68.6" width="32.8" height="27.417500000000004" fill="#ff0000"/>
<rect x="351.2" y="96.0175" width="32.8" height="61.68249999999999" fill="#0000ff"/>
<rect x="401.4" y="68.6" width="33.2" height="67.58000000000001" fill="#ff0000"/>
<rect x="401.4" y="136.18" width="33.2" height="21.519999999999982" fill="#0000ff"/>
<text x="366.8" y="89.8" font-size="11" text-anchor="middle" fill="#111" font-weight="normal" >31</text>
<text x="366.8" y="129.2" font-size="11" text-anchor="middle" fill="#fff" font-weight="normal" >69</text>
<text x="418.6" y="108.6" font-size="11" text-anchor="middle" fill="#111" font-weight="normal" >76</text>
<text x="418.6" y="151.8" font-size="11" text-anchor="middle" fill="#fff" font-weight="normal" >24</text>
<line x1="333.6" y1="49.8" x2="333.6" y2="158.3" stroke="#555" stroke-width="1.5" />
<line x1="333.0" y1="157.7" x2="452" y2="157.7" stroke="#555" stroke-width="1.5" />
<line x1="329.3" y1="50.5" x2="334" y2="50.5" stroke="#333" stroke-width="1.1" />
<text x="327.9" y="53.2" font-size="7.7" text-anchor="end" fill="#000" font-weight="normal" stroke="#000" stroke-width="0.25">120</text>
<line x1="329.3" y1="86.2" x2="334" y2="86.2" stroke="#333" stroke-width="1.1" />
<text x="327.9" y="88.9" font-size="7.7" text-anchor="end" fill="#000" font-weight="normal" stroke="#000" stroke-width="0.25">80</text>
<line x1="329.3" y1="121.9" x2="334" y2="121.9" stroke="#333" stroke-width="1.1" />
<text x="327.9" y="124.60000000000001" font-size="7.7" text-anchor="end" fill="#000" font-weight="normal" stroke="#000" stroke-width="0.25">40</text>
<line x1="329.3" y1="157.6" x2="334" y2="157.6" stroke="#333" stroke-width="1.1" />
<text x="327.9" y="160.29999999999998" font-size="7.7" text-anchor="end" fill="#000" font-weight="normal" stroke="#000" stroke-width="0.25">0</text>
<line x1="367.5" y1="157.7" x2="367.5" y2="162.6" stroke="#444" stroke-width="1.2" />
<line x1="418.0" y1="157.7" x2="418.0" y2="162.6" stroke="#444" stroke-width="1.2" />
<text x="309.3" y="103.4" font-size="11.5" text-anchor="middle" fill="#222" font-weight="normal" transform="rotate(-90 309.3 103.4)">Percentage of patients (%)</text>
<text x="371.0" y="169.8" font-size="12.2" text-anchor="end" fill="#222" font-weight="normal" transform="rotate(-45 371.0 169.8)">Sensitive (n=29)</text>
<text x="421.6" y="169.8" font-size="12.1" text-anchor="end" fill="#222" font-weight="normal" transform="rotate(-45 421.6 169.8)">Resistance (n=21)</text>
<text x="501.3" y="8.8" font-size="10" text-anchor="start" fill="#222" font-weight="normal" >C</text>
<line x1="551.8" y1="23" x2="563" y2="23" stroke="#1a1aff" stroke-width="1.4" />
<line x1="557.4" y1="23" x2="557.4" y2="20.5" stroke="#1a1aff" stroke-width="1.2" />
<line x1="551.8" y1="40.6" x2="563" y2="40.6" stroke="#ff2a2a" stroke-width="1.4" />
<line x1="557.4" y1="40.6" x2="557.4" y2="38.1" stroke="#ff2a2a" stroke-width="1.2" />
<text x="569.6" y="27.7" font-size="11.8" text-anchor="start" fill="#222" font-weight="normal" >NNMT-high</text>
<text x="569.6" y="44.5" font-size="11.8" text-anchor="start" fill="#222" font-weight="normal" >NNMT-low</text>
<path d="M540.7,71.4 H563.4 V76.2 H580.5 V80.8 H584.8 V83.4 H593.5 V85.3 H602.7 V87.4 H606.6 V90.4 H615.6 V96.8 H633.2 V101.5 H664.1 V113.3 H668.4 V124.5 H672.7" fill="none" stroke="#ff2a2a" stroke-width="1.5"/>
<path d="M540.7,71.4 H554.3 V78.2 H558.2 V80.1 H562.7 V82 H567.3 V87.3 H571.8 V92.5 H576.1 V96.4 H580.5 V100.3 H584.8 V107.4 H597.8 V109.4 H602.3 V113.6 H619.9 V120.2 H633.2 V125.1 H637.7 V130.1 H659.7 V137.2 H664.1 V147.9 H672.7" fill="none" stroke="#1a1aff" stroke-width="1.5"/>
<line x1="589.4" y1="107.4" x2="589.4" y2="104.60000000000001" stroke="#1a1aff" stroke-width="1.1" />
<line x1="593.2" y1="107.4" x2="593.2" y2="104.60000000000001" stroke="#1a1aff" stroke-width="1.1" />
<line x1="606.4" y1="113.6" x2="606.4" y2="110.8" stroke="#1a1aff" stroke-width="1.1" />
<line x1="611.3" y1="113.6" x2="611.3" y2="110.8" stroke="#1a1aff" stroke-width="1.1" />
<line x1="615.6" y1="113.6" x2="615.6" y2="110.8" stroke="#1a1aff" stroke-width="1.1" />
<line x1="624.2" y1="120.2" x2="624.2" y2="117.4" stroke="#1a1aff" stroke-width="1.1" />
<line x1="628.6" y1="120.2" x2="628.6" y2="117.4" stroke="#1a1aff" stroke-width="1.1" />
<line x1="650.6" y1="130.1" x2="650.6" y2="127.3" stroke="#1a1aff" stroke-width="1.1" />
<line x1="655.1" y1="130.1" x2="655.1" y2="127.3" stroke="#1a1aff" stroke-width="1.1" />
<line x1="672.7" y1="147.9" x2="672.7" y2="145.1" stroke="#1a1aff" stroke-width="1.1" />
<line x1="567.3" y1="76.2" x2="567.3" y2="73.4" stroke="#ff2a2a" stroke-width="1.1" />
<line x1="571.6" y1="76.2" x2="571.6" y2="73.4" stroke="#ff2a2a" stroke-width="1.1" />
<line x1="589.4" y1="83.4" x2="589.4" y2="80.60000000000001" stroke="#ff2a2a" stroke-width="1.1" />
<line x1="611.3" y1="90.4" x2="611.3" y2="87.60000000000001" stroke="#ff2a2a" stroke-width="1.1" />
<line x1="619.9" y1="96.8" x2="619.9" y2="94.0" stroke="#ff2a2a" stroke-width="1.1" />
<line x1="624.2" y1="96.8" x2="624.2" y2="94.0" stroke="#ff2a2a" stroke-width="1.1" />
<line x1="646.4" y1="101.5" x2="646.4" y2="98.7" stroke="#ff2a2a" stroke-width="1.1" />
<line x1="650.6" y1="101.5" x2="650.6" y2="98.7" stroke="#ff2a2a" stroke-width="1.1" />
<line x1="659.4" y1="101.5" x2="659.4" y2="98.7" stroke="#ff2a2a" stroke-width="1.1" />
<line x1="672.7" y1="124.5" x2="672.7" y2="121.7" stroke="#ff2a2a" stroke-width="1.1" />
<line x1="540.7" y1="52.6" x2="540.7" y2="159.9" stroke="#222" stroke-width="1.5" />
<line x1="540.0" y1="159.1" x2="673.4" y2="159.1" stroke="#222" stroke-width="1.5" />
<line x1="535.4" y1="159.1" x2="541" y2="159.1" stroke="#222" stroke-width="1.4" />
<text x="534.3" y="163.1" font-size="11" text-anchor="end" fill="#222" font-weight="normal" >0</text>
<line x1="535.4" y1="141.45" x2="541" y2="141.45" stroke="#222" stroke-width="1.4" />
<text x="534.3" y="145.45" font-size="11" text-anchor="end" fill="#222" font-weight="normal" >20</text>
<line x1="535.4" y1="123.8" x2="541" y2="123.8" stroke="#222" stroke-width="1.4" />
<text x="534.3" y="127.8" font-size="11" text-anchor="end" fill="#222" font-weight="normal" >40</text>
<line x1="535.4" y1="106.15" x2="541" y2="106.15" stroke="#222" stroke-width="1.4" />
<text x="534.3" y="110.15" font-size="11" text-anchor="end" fill="#222" font-weight="normal" >60</text>
<line x1="535.4" y1="88.5" x2="541" y2="88.5" stroke="#222" stroke-width="1.4" />
<text x="534.3" y="92.5" font-size="11" text-anchor="end" fill="#222" font-weight="normal" >80</text>
<line x1="535.4" y1="70.85" x2="541" y2="70.85" stroke="#222" stroke-width="1.4" />
<text x="534.3" y="74.85" font-size="11" text-anchor="end" fill="#222" font-weight="normal" >100</text>
<line x1="535.4" y1="53.2" x2="541" y2="53.2" stroke="#222" stroke-width="1.4" />
<text x="534.3" y="57.2" font-size="11" text-anchor="end" fill="#222" font-weight="normal" >120</text>
<line x1="540.7" y1="159" x2="540.7" y2="163.7" stroke="#222" stroke-width="1.4" />
<text x="540.7" y="175.4" font-size="11" text-anchor="middle" fill="#222" font-weight="normal" >0</text>
<line x1="562.6500000000001" y1="159" x2="562.6500000000001" y2="163.7" stroke="#222" stroke-width="1.4" />
<text x="562.6500000000001" y="175.4" font-size="11" text-anchor="middle" fill="#222" font-weight="normal" >5</text>
<line x1="584.6" y1="159" x2="584.6" y2="163.7" stroke="#222" stroke-width="1.4" />
<text x="584.6" y="175.4" font-size="11" text-anchor="middle" fill="#222" font-weight="normal" >10</text>
<line x1="606.5500000000001" y1="159" x2="606.5500000000001" y2="163.7" stroke="#222" stroke-width="1.4" />
<text x="606.5500000000001" y="175.4" font-size="11" text-anchor="middle" fill="#222" font-weight="normal" >15</text>
<line x1="628.5" y1="159" x2="628.5" y2="163.7" stroke="#222" stroke-width="1.4" />
<text x="628.5" y="175.4" font-size="11" text-anchor="middle" fill="#222" font-weight="normal" >20</text>
<line x1="650.45" y1="159" x2="650.45" y2="163.7" stroke="#222" stroke-width="1.4" />
<text x="650.45" y="175.4" font-size="11" text-anchor="middle" fill="#222" font-weight="normal" >25</text>
<line x1="672.4000000000001" y1="159" x2="672.4000000000001" y2="163.7" stroke="#222" stroke-width="1.4" />
<text x="672.4000000000001" y="175.4" font-size="11" text-anchor="middle" fill="#222" font-weight="normal" >30</text>
<text x="606.5" y="194.0" font-size="11.6" text-anchor="middle" fill="#222" font-weight="normal" >Months</text>
<text x="507.5" y="107.8" font-size="12.0" text-anchor="middle" fill="#222" font-weight="normal" transform="rotate(-90 507.5 107.8)">Progression-free survival</text>
<text x="555.5" y="136.1" font-size="11.8" text-anchor="start" fill="#222" font-weight="normal" >p&lt;0.001</text>
<text x="0.3" y="265" font-size="12" text-anchor="start" fill="#222" font-weight="normal" >D</text>
<text x="59.6" y="274.3" font-size="11.9" text-anchor="start" fill="#222" font-weight="normal" >p&lt;0.001</text>
<line x1="38.7" y1="280.9" x2="38.7" y2="415.6" stroke="#aaa" stroke-width="1" />
<line x1="38.2" y1="415.6" x2="261.2" y2="415.6" stroke="#bbb" stroke-width="1.2" />
<line x1="35.6" y1="415.65" x2="38.7" y2="415.65" stroke="#aaa" stroke-width="0.9" />
<text x="32.5" y="417.45" font-size="5" text-anchor="end" fill="#aaa" font-weight="normal" >-3</text>
<line x1="35.6" y1="393.2" x2="38.7" y2="393.2" stroke="#aaa" stroke-width="0.9" />
<text x="32.5" y="395.0" font-size="5" text-anchor="end" fill="#aaa" font-weight="normal" >-2</text>
<line x1="35.6" y1="370.75" x2="38.7" y2="370.75" stroke="#aaa" stroke-width="0.9" />
<text x="32.5" y="372.55" font-size="5" text-anchor="end" fill="#aaa" font-weight="normal" >-1</text>
<line x1="35.6" y1="348.3" x2="38.7" y2="348.3" stroke="#aaa" stroke-width="0.9" />
<text x="32.5" y="350.1" font-size="5" text-anchor="end" fill="#aaa" font-weight="normal" >0</text>
<line x1="35.6" y1="325.85" x2="38.7" y2="325.85" stroke="#aaa" stroke-width="0.9" />
<text x="32.5" y="327.65000000000003" font-size="5" text-anchor="end" fill="#aaa" font-weight="normal" >1</text>
<line x1="35.6" y1="303.40000000000003" x2="38.7" y2="303.40000000000003" stroke="#aaa" stroke-width="0.9" />
<text x="32.5" y="305.20000000000005" font-size="5" text-anchor="end" fill="#aaa" font-weight="normal" >2</text>
<line x1="35.6" y1="280.95000000000005" x2="38.7" y2="280.95000000000005" stroke="#aaa" stroke-width="0.9" />
<text x="32.5" y="282.75000000000006" font-size="5" text-anchor="end" fill="#aaa" font-weight="normal" >3</text>
<line x1="95.3" y1="347.5" x2="95.3" y2="370.6" stroke="#555" stroke-width="0.9" stroke-dasharray="1.2 1"/>
<line x1="95.3" y1="384.7" x2="95.3" y2="406" stroke="#555" stroke-width="0.9" stroke-dasharray="1.2 1"/>
<line x1="81.6" y1="347.5" x2="108.3" y2="347.5" stroke="#555" stroke-width="1.3" />
<line x1="81.6" y1="406" x2="108.3" y2="406" stroke="#555" stroke-width="1.3" />
<rect x="68" y="370.6" width="53.8" height="14.1" fill="#4d7cf0" stroke="#3e63d8" stroke-width="0.6"/>
<line x1="68" y1="378.7" x2="121.8" y2="378.7" stroke="#111" stroke-width="1.5" />
<line x1="206" y1="299.1" x2="206" y2="333.9" stroke="#555" stroke-width="0.9" stroke-dasharray="1.2 1"/>
<line x1="206" y1="361.2" x2="206" y2="392.7" stroke="#555" stroke-width="0.9" stroke-dasharray="1.2 1"/>
<line x1="193" y1="299.1" x2="219.4" y2="299.1" stroke="#555" stroke-width="1.3" />
<line x1="193" y1="392.7" x2="219.4" y2="392.7" stroke="#555" stroke-width="1.3" />
<rect x="178.8" y="333.9" width="53.9" height="27.3" fill="#ff3410"/>
<line x1="178.8" y1="348.2" x2="232.7" y2="348.2" stroke="#111" stroke-width="1.5" />
<text x="92.5" y="427.8" font-size="11.6" text-anchor="middle" fill="#222" font-weight="normal" letter-spacing="0.4">Normal</text>
<text x="92.7" y="440.8" font-size="12" text-anchor="middle" fill="#222" font-weight="normal" letter-spacing="0.45">(n=111)</text>
<text x="207.6" y="427.8" font-size="11.6" text-anchor="middle" fill="#222" font-weight="normal" letter-spacing="0.38">Primary tumor</text>
<text x="206.2" y="440.8" font-size="12" text-anchor="middle" fill="#222" font-weight="normal" letter-spacing="0.45">(n=111)</text>
<text x="149.0" y="456.6" font-size="11.8" text-anchor="middle" fill="#222" font-weight="normal" letter-spacing="0.4">CPTAC samples</text>
<text x="22.0" y="346.3" font-size="11.9" text-anchor="middle" fill="#222" font-weight="normal" transform="rotate(-90 22 346.3)">Z-value</text>
<text x="263.3" y="264.9" font-size="12" text-anchor="start" fill="#222" font-weight="normal" >E</text>
<rect x="302.5" y="275.4" width="170.2" height="140.10000000000002" fill="none" stroke="#d0d0d0" stroke-width="0.9"/>
<line x1="299.5" y1="410.5" x2="302.5" y2="410.5" stroke="#999" stroke-width="0.8" />
<text x="294.2" y="410.5" font-size="9.0" text-anchor="middle" fill="#333" font-weight="normal" transform="rotate(-90 294.2 410.5)">0.0</text>
<line x1="299.5" y1="384.5" x2="302.5" y2="384.5" stroke="#999" stroke-width="0.8" />
<text x="294.2" y="384.5" font-size="9.0" text-anchor="middle" fill="#333" font-weight="normal" transform="rotate(-90 294.2 384.5)">0.2</text>
<line x1="299.5" y1="358.5" x2="302.5" y2="358.5" stroke="#999" stroke-width="0.8" />
<text x="294.2" y="358.5" font-size="9.0" text-anchor="middle" fill="#333" font-weight="normal" transform="rotate(-90 294.2 358.5)">0.4</text>
<line x1="299.5" y1="332.5" x2="302.5" y2="332.5" stroke="#999" stroke-width="0.8" />
<text x="294.2" y="332.5" font-size="9.0" text-anchor="middle" fill="#333" font-weight="normal" transform="rotate(-90 294.2 332.5)">0.6</text>
<line x1="299.5" y1="306.5" x2="302.5" y2="306.5" stroke="#999" stroke-width="0.8" />
<text x="294.2" y="306.5" font-size="9.0" text-anchor="middle" fill="#333" font-weight="normal" transform="rotate(-90 294.2 306.5)">0.8</text>
<line x1="299.5" y1="280.5" x2="302.5" y2="280.5" stroke="#999" stroke-width="0.8" />
<text x="294.2" y="280.5" font-size="9.0" text-anchor="middle" fill="#333" font-weight="normal" transform="rotate(-90 294.2 280.5)">1.0</text>
<line x1="308.8" y1="415.5" x2="308.8" y2="418.5" stroke="#999" stroke-width="0.8" />
<text x="308.8" y="427.6" font-size="9.2" text-anchor="middle" fill="#333" font-weight="normal" >0</text>
<text x="308.8" y="453.6" font-size="6.2" text-anchor="middle" fill="#444" font-weight="normal" >265</text>
<text x="308.8" y="459.8" font-size="6.2" text-anchor="middle" fill="#ff6070" font-weight="normal" >454</text>
<line x1="344.3" y1="415.5" x2="344.3" y2="418.5" stroke="#999" stroke-width="0.8" />
<text x="344.3" y="427.6" font-size="9.2" text-anchor="middle" fill="#333" font-weight="normal" >50</text>
<text x="344.3" y="453.6" font-size="6.2" text-anchor="middle" fill="#444" font-weight="normal" >129</text>
<text x="344.3" y="459.8" font-size="6.2" text-anchor="middle" fill="#ff6070" font-weight="normal" >218</text>
<line x1="379.8" y1="415.5" x2="379.8" y2="418.5" stroke="#999" stroke-width="0.8" />
<text x="379.8" y="427.6" font-size="9.2" text-anchor="middle" fill="#333" font-weight="normal" >100</text>
<text x="379.8" y="453.6" font-size="6.2" text-anchor="middle" fill="#444" font-weight="normal" >22</text>
<text x="379.8" y="459.8" font-size="6.2" text-anchor="middle" fill="#ff6070" font-weight="normal" >47</text>
<line x1="415.3" y1="415.5" x2="415.3" y2="418.5" stroke="#999" stroke-width="0.8" />
<text x="415.3" y="427.6" font-size="9.2" text-anchor="middle" fill="#333" font-weight="normal" >150</text>
<text x="415.3" y="453.6" font-size="6.2" text-anchor="middle" fill="#444" font-weight="normal" >3</text>
<text x="415.3" y="459.8" font-size="6.2" text-anchor="middle" fill="#ff6070" font-weight="normal" >16</text>
<line x1="450.8" y1="415.5" x2="450.8" y2="418.5" stroke="#999" stroke-width="0.8" />
<text x="450.8" y="427.6" font-size="9.2" text-anchor="middle" fill="#333" font-weight="normal" >200</text>
<text x="450.8" y="453.6" font-size="6.2" text-anchor="middle" fill="#444" font-weight="normal" >0</text>
<text x="450.8" y="459.8" font-size="6.2" text-anchor="middle" fill="#ff6070" font-weight="normal" >1</text>
<text x="388.0" y="265.8" font-size="9.7" text-anchor="middle" fill="#111" font-weight="bold" >NNMT (202238_s_at)</text>
<text x="468.4" y="286.2" font-size="9.2" text-anchor="end" fill="#333" font-weight="normal" >HR = 1.69 (1.3 - 2.21)</text>
<text x="468.4" y="295.5" font-size="9.2" text-anchor="end" fill="#333" font-weight="normal" >logrank P = 7.9e-05</text>
<text x="280.9" y="345.5" font-size="8.9" text-anchor="middle" fill="#333" font-weight="normal" transform="rotate(-90 280.9 345.5)">Probability</text>
<text x="387.6" y="441.0" font-size="9.2" text-anchor="middle" fill="#333" font-weight="normal" >Time (months)</text>
<text x="305.8" y="390.4" font-size="8.7" text-anchor="start" fill="#333" font-weight="normal" >Expression</text>
<text x="331.5" y="401.5" font-size="8.7" text-anchor="start" fill="#333" font-weight="normal" >low</text>
<text x="331.5" y="410.6" font-size="8.7" text-anchor="start" fill="#333" font-weight="normal" >high</text>
<line x1="309.3" y1="398.3" x2="323.5" y2="398.3" stroke="#d4d4d4" stroke-width="0.8" />
<line x1="309.3" y1="407.2" x2="323.5" y2="407.2" stroke="#ffccd4" stroke-width="0.8" />
<text x="302.5" y="447.6" font-size="6.1" text-anchor="start" fill="#555" font-weight="normal" >Number at risk</text>
<text x="292.8" y="453.6" font-size="6.2" text-anchor="end" fill="#444" font-weight="normal" >low</text>
<text x="292.8" y="459.8" font-size="6.2" text-anchor="end" fill="#ff6070" font-weight="normal" >high</text>
<polyline points="308.8,280.7 311.7,286.6 315.6,293.4 319.5,303.1 325.3,313.9 332.2,321.7 339,328.5 346.8,334.3 356.5,338.2 364.3,344.1 370,345.1 379.7,352.9 389.5,356.8 401.2,360.3 405,364.6 411,365.6 416.8,368.5 432.4,368.5 433.4,380.2 436.3,388 466.5,388" fill="none" stroke="#ff5050" stroke-width="0.6"/>
<polyline points="308.8,280.7 314.6,283.6 321.4,289.5 324.4,295.3 331.2,300.2 337,306.1 340.9,311.9 346.8,316.8 352.6,318.7 357.5,318.7 362.4,321.7 367.3,324.6 372.1,327.5 385.8,327.5 386.6,333.4 388.5,340.2 393.4,340.2 393.4,349 399.2,349 399.2,359.7 422.6,359.7" fill="none" stroke="#444" stroke-width="0.6"/>
<path d="M308.8,280.7 L309.3,281.7 L309.8,282.7 L310.2,283.6 L310.7,284.6M328.1,317.0 L328.8,317.8 L329.4,318.6 L330.1,319.4 L330.8,320.1M333.7,323.2 L334.5,324.0 L335.2,324.7 L336.0,325.5 L336.7,326.2M339.9,329.1 L340.7,329.8 L341.6,330.4 L342.5,331.1 L343.3,331.7M361.7,342.1 L362.6,342.8 L363.4,343.4M363.4,343.4 L364.3,344.1 L365.4,344.3 L366.6,344.5M372.4,347.1 L373.2,347.7 L374.0,348.4 L374.9,349.0M378.1,351.6 L378.9,352.2 L379.7,352.9 L380.7,353.3M380.7,353.3 L381.7,353.7 L382.6,354.1M382.6,354.1 L383.6,354.5 L384.6,354.9 L385.6,355.2 L386.6,355.6M389.5,356.8 L390.5,357.1 L391.4,357.4M400.2,360.0 L401.2,360.3 L402.0,361.2 L402.7,362.0 L403.5,362.9" fill="none" stroke="#ff1a1a" stroke-width="1.5" stroke-linecap="round" stroke-linejoin="round"/>
<path d="M319.5,303.1 L320.0,304.0 L320.5,304.9 L320.9,305.8 L321.4,306.7M322.4,308.5 L322.9,309.4 L323.4,310.3 L323.9,311.2M326.0,314.7 L326.7,315.5 L327.4,316.2 L328.1,317.0M330.8,320.1 L331.5,320.9 L332.2,321.7 L333.0,322.5 L333.7,323.2M336.7,326.2 L337.5,327.0 L338.2,327.7M338.2,327.7 L339.0,328.5 L339.9,329.1M348.7,335.1 L349.7,335.5 L350.7,335.9 L351.6,336.2M355.5,337.8 L356.5,338.2 L357.4,338.9 L358.2,339.5M358.2,339.5 L359.1,340.2 L360.0,340.8 L360.8,341.5 L361.7,342.1M370.0,345.1 L370.8,345.8 L371.6,346.4 L372.4,347.1M391.4,357.4 L392.4,357.7 L393.4,358.0 L394.4,358.3 L395.4,358.6M395.4,358.6 L396.3,358.8 L397.3,359.1M403.5,362.9 L404.2,363.7 L405.0,364.6 L406.0,364.8" fill="none" stroke="#ff1a1a" stroke-width="2.0" stroke-linecap="round" stroke-linejoin="round"/>
<path d="M321.4,306.7 L321.9,307.6 L322.4,308.5M323.9,311.2 L324.3,312.1 L324.8,313.0 L325.3,313.9 L326.0,314.7M343.3,331.7 L344.2,332.4 L345.1,333.0 L345.9,333.7M345.9,333.7 L346.8,334.3 L347.8,334.7 L348.7,335.1M351.6,336.2 L352.6,336.6 L353.6,337.0 L354.6,337.4 L355.5,337.8M366.6,344.5 L367.7,344.7 L368.9,344.9 L370.0,345.1" fill="none" stroke="#ff1a1a" stroke-width="2.5" stroke-linecap="round" stroke-linejoin="round"/>
<path d="M374.9,349.0 L375.7,349.6 L376.5,350.3M376.5,350.3 L377.3,350.9 L378.1,351.6M386.6,355.6 L387.5,356.0 L388.5,356.4 L389.5,356.8M397.3,359.1 L398.3,359.4 L399.2,359.7 L400.2,360.0M406.0,364.8 L407.0,364.9 L408.0,365.1M408.0,365.1 L409.0,365.3 L410.0,365.4M410.0,365.4 L411.0,365.6 L412.0,366.1 L412.9,366.6M412.9,366.6 L413.9,367.1 L414.9,367.5 L415.8,368.0M415.8,368.0 L416.8,368.5 L417.8,368.5 L418.9,368.5" fill="none" stroke="#ff1a1a" stroke-width="1.0" stroke-linecap="round" stroke-linejoin="round"/>
<path d="M308.8,280.7 L309.8,281.2 L310.7,281.7 L311.7,282.1 L312.7,282.6" fill="none" stroke="#141414" stroke-width="1.0" stroke-linecap="round" stroke-linejoin="round"/>
<path d="M321.4,289.5 L321.9,290.5 L322.4,291.4 L322.9,292.4M322.9,292.4 L323.4,293.4 L323.9,294.3M329.5,299.0 L330.3,299.6 L331.2,300.2 L331.9,300.9 L332.6,301.7M334.1,303.1 L334.8,303.9 L335.6,304.6 L336.3,305.4 L337.0,306.1M337.0,306.1 L337.6,307.1 L338.3,308.0 L338.9,309.0 L339.6,310.0M350.7,318.1 L351.6,318.4 L352.6,318.7 L353.8,318.7M353.8,318.7 L355.1,318.7 L356.3,318.7 L357.5,318.7M357.5,318.7 L358.5,319.3 L359.5,319.9 L360.4,320.5 L361.4,321.1M365.3,323.4 L366.3,324.0 L367.3,324.6 L368.3,325.2M368.3,325.2 L369.2,325.8 L370.2,326.3" fill="none" stroke="#141414" stroke-width="1.5" stroke-linecap="round" stroke-linejoin="round"/>
<path d="M323.9,294.3 L324.4,295.3 L325.2,295.9 L326.1,296.5M326.1,296.5 L326.9,297.1 L327.8,297.8M327.8,297.8 L328.6,298.4 L329.5,299.0M339.6,310.0 L340.2,310.9 L340.9,311.9 L341.7,312.6 L342.6,313.3M342.6,313.3 L343.4,314.0 L344.3,314.7M361.4,321.1 L362.4,321.7 L363.4,322.3 L364.4,322.9 L365.3,323.4M370.2,326.3 L371.1,326.9 L372.1,327.5 L373.2,327.5" fill="none" stroke="#141414" stroke-width="2.0" stroke-linecap="round" stroke-linejoin="round"/>
<path d="M332.6,301.7 L333.4,302.4 L334.1,303.1M344.3,314.7 L345.1,315.4 L346.0,316.1 L346.8,316.8 L347.8,317.1M347.8,317.1 L348.7,317.4 L349.7,317.8 L350.7,318.1" fill="none" stroke="#141414" stroke-width="2.5" stroke-linecap="round" stroke-linejoin="round"/>
<path d="M311.8,283.1h2.4M313,281.90000000000003v2.4" stroke="#333" stroke-width="0.8"/>
<path d="M315.8,286.3h2.4M317,285.1v2.4" stroke="#333" stroke-width="0.8"/>
<path d="M311.1,288.3h2.4M312.3,287.1v2.4" stroke="#ff4040" stroke-width="0.8"/>
<path d="M314.3,293.3h2.4M315.5,292.1v2.4" stroke="#ff4040" stroke-width="0.8"/>
<path d="M374.8,327.5h2.4M376,326.3v2.4" stroke="#333" stroke-width="0.8"/>
<path d="M377.8,327.5h2.4M379,326.3v2.4" stroke="#333" stroke-width="0.8"/>
<path d="M380.8,327.5h2.4M382,326.3v2.4" stroke="#333" stroke-width="0.8"/>
<path d="M383.8,327.5h2.4M385,326.3v2.4" stroke="#333" stroke-width="0.8"/>
<path d="M386.3,334h2.4M387.5,332.8v2.4" stroke="#333" stroke-width="0.8"/>
<path d="M388.8,340.2h2.4M390,339.0v2.4" stroke="#333" stroke-width="0.8"/>
<path d="M394.8,349h2.4M396,347.8v2.4" stroke="#333" stroke-width="0.8"/>
<path d="M414.8,359.7h2.4M416,358.5v2.4" stroke="#333" stroke-width="0.8"/>
<path d="M417.8,359.7h2.4M419,358.5v2.4" stroke="#333" stroke-width="0.8"/>
<path d="M423.8,359.7h2.4M425,358.5v2.4" stroke="#ff4040" stroke-width="0.8"/>
<path d="M426.8,368.5h2.4M428,367.3v2.4" stroke="#ff4040" stroke-width="0.8"/>
<path d="M429.8,368.5h2.4M431,367.3v2.4" stroke="#ff4040" stroke-width="0.8"/>
<path d="M433.3,380.2h2.4M434.5,379.0v2.4" stroke="#ff4040" stroke-width="0.8"/>
<path d="M444.8,388h2.4M446,386.8v2.4" stroke="#ff4040" stroke-width="0.8"/>
<path d="M464.8,388h2.4M466,386.8v2.4" stroke="#ff4040" stroke-width="0.8"/>
<rect x="514.0" y="275.4" width="170.10000000000002" height="140.10000000000002" fill="none" stroke="#d0d0d0" stroke-width="0.9"/>
<line x1="511.0" y1="410.5" x2="514.0" y2="410.5" stroke="#999" stroke-width="0.8" />
<text x="505.7" y="410.5" font-size="9.0" text-anchor="middle" fill="#333" font-weight="normal" transform="rotate(-90 505.7 410.5)">0.0</text>
<line x1="511.0" y1="384.5" x2="514.0" y2="384.5" stroke="#999" stroke-width="0.8" />
<text x="505.7" y="384.5" font-size="9.0" text-anchor="middle" fill="#333" font-weight="normal" transform="rotate(-90 505.7 384.5)">0.2</text>
<line x1="511.0" y1="358.5" x2="514.0" y2="358.5" stroke="#999" stroke-width="0.8" />
<text x="505.7" y="358.5" font-size="9.0" text-anchor="middle" fill="#333" font-weight="normal" transform="rotate(-90 505.7 358.5)">0.4</text>
<line x1="511.0" y1="332.5" x2="514.0" y2="332.5" stroke="#999" stroke-width="0.8" />
<text x="505.7" y="332.5" font-size="9.0" text-anchor="middle" fill="#333" font-weight="normal" transform="rotate(-90 505.7 332.5)">0.6</text>
<line x1="511.0" y1="306.5" x2="514.0" y2="306.5" stroke="#999" stroke-width="0.8" />
<text x="505.7" y="306.5" font-size="9.0" text-anchor="middle" fill="#333" font-weight="normal" transform="rotate(-90 505.7 306.5)">0.8</text>
<line x1="511.0" y1="280.5" x2="514.0" y2="280.5" stroke="#999" stroke-width="0.8" />
<text x="505.7" y="280.5" font-size="9.0" text-anchor="middle" fill="#333" font-weight="normal" transform="rotate(-90 505.7 280.5)">1.0</text>
<line x1="520.3" y1="415.5" x2="520.3" y2="418.5" stroke="#999" stroke-width="0.8" />
<text x="520.3" y="427.6" font-size="9.2" text-anchor="middle" fill="#333" font-weight="normal" >0</text>
<text x="520.3" y="453.6" font-size="6.2" text-anchor="middle" fill="#444" font-weight="normal" >538</text>
<text x="520.3" y="459.8" font-size="6.2" text-anchor="middle" fill="#ff6070" font-weight="normal" >181</text>
<line x1="555.8" y1="415.5" x2="555.8" y2="418.5" stroke="#999" stroke-width="0.8" />
<text x="555.8" y="427.6" font-size="9.2" text-anchor="middle" fill="#333" font-weight="normal" >50</text>
<text x="555.8" y="453.6" font-size="6.2" text-anchor="middle" fill="#444" font-weight="normal" >259</text>
<text x="555.8" y="459.8" font-size="6.2" text-anchor="middle" fill="#ff6070" font-weight="normal" >88</text>
<line x1="591.3" y1="415.5" x2="591.3" y2="418.5" stroke="#999" stroke-width="0.8" />
<text x="591.3" y="427.6" font-size="9.2" text-anchor="middle" fill="#333" font-weight="normal" >100</text>
<text x="591.3" y="453.6" font-size="6.2" text-anchor="middle" fill="#444" font-weight="normal" >45</text>
<text x="591.3" y="459.8" font-size="6.2" text-anchor="middle" fill="#ff6070" font-weight="normal" >24</text>
<line x1="626.8" y1="415.5" x2="626.8" y2="418.5" stroke="#999" stroke-width="0.8" />
<text x="626.8" y="427.6" font-size="9.2" text-anchor="middle" fill="#333" font-weight="normal" >150</text>
<text x="626.8" y="453.6" font-size="6.2" text-anchor="middle" fill="#444" font-weight="normal" >10</text>
<text x="626.8" y="459.8" font-size="6.2" text-anchor="middle" fill="#ff6070" font-weight="normal" >9</text>
<line x1="662.3" y1="415.5" x2="662.3" y2="418.5" stroke="#999" stroke-width="0.8" />
<text x="662.3" y="427.6" font-size="9.2" text-anchor="middle" fill="#333" font-weight="normal" >200</text>
<text x="662.3" y="453.6" font-size="6.2" text-anchor="middle" fill="#444" font-weight="normal" >1</text>
<text x="662.3" y="459.8" font-size="6.2" text-anchor="middle" fill="#ff6070" font-weight="normal" >0</text>
<text x="599.4499999999999" y="265.8" font-size="9.7" text-anchor="middle" fill="#111" font-weight="bold" >NNMT (202237_at)</text>
<text x="679.8000000000001" y="286.2" font-size="9.2" text-anchor="end" fill="#333" font-weight="normal" >HR = 1.37 (1.06 - 1.75)</text>
<text x="679.8000000000001" y="295.5" font-size="9.2" text-anchor="end" fill="#333" font-weight="normal" >logrank P = 0.014</text>
<text x="494.3" y="345.5" font-size="8.9" text-anchor="middle" fill="#333" font-weight="normal" transform="rotate(-90 494.3 345.5)">Probability</text>
<text x="599.05" y="441.0" font-size="9.2" text-anchor="middle" fill="#333" font-weight="normal" >Time (months)</text>
<text x="517.3" y="390.4" font-size="8.7" text-anchor="start" fill="#333" font-weight="normal" >Expression</text>
<text x="543.0" y="401.5" font-size="8.7" text-anchor="start" fill="#333" font-weight="normal" >low</text>
<text x="543.0" y="410.6" font-size="8.7" text-anchor="start" fill="#333" font-weight="normal" >high</text>
<line x1="520.8" y1="398.3" x2="535.0" y2="398.3" stroke="#d4d4d4" stroke-width="0.8" />
<line x1="520.8" y1="407.2" x2="535.0" y2="407.2" stroke="#ffccd4" stroke-width="0.8" />
<text x="514.0" y="447.6" font-size="6.1" text-anchor="start" fill="#555" font-weight="normal" >Number at risk</text>
<text x="504.3" y="453.6" font-size="6.2" text-anchor="end" fill="#444" font-weight="normal" >low</text>
<text x="504.3" y="459.8" font-size="6.2" text-anchor="end" fill="#ff6070" font-weight="normal" >high</text>
<polyline points="520.4,281.5 526.9,292.3 530.2,305.3 536.6,316.1 543.1,322.6 547.5,329.1 554,333.4 562.6,337.8 569.1,344.3 577.8,348.6 586.4,351.8 590,352.1 593.5,354.2 596.9,357.3 609.9,357.3 610.8,361.1 616.8,361.1 617.3,366.3 627.2,366.3 627.7,371.5 645.4,371.5 645.4,380.2 648,380.2 648,395.7 658.3,395.7" fill="none" stroke="#ff5050" stroke-width="0.6"/>
<polyline points="520.4,281.5 526.9,290.2 535.6,301 545.3,310.7 554,320.5 562.6,327 571.3,329.1 579.9,334.5 588.6,339.9 597.2,344.3 603.7,350.8 607.3,353.4 615.1,357.3 616,361.1 645.4,361.1 645.4,377.6 678.2,377.6" fill="none" stroke="#444" stroke-width="0.6"/>
<path d="M520.4,281.5 L520.9,282.4 L521.5,283.3 L522.0,284.2M522.0,284.2 L522.6,285.1 L523.1,286.0 L523.6,286.9 L524.2,287.8M550.3,330.9 L551.2,331.6 L552.1,332.2 L553.1,332.8 L554.0,333.4M554.0,333.4 L555.0,333.9 L555.9,334.4 L556.9,334.9 L557.8,335.4M579.7,349.3 L580.7,349.7 L581.6,350.0 L582.6,350.4 L583.5,350.7M588.8,352.0 L590.0,352.1 L590.9,352.6M597.9,357.3 L598.9,357.3 L599.9,357.3" fill="none" stroke="#ff1a1a" stroke-width="1.5" stroke-linecap="round" stroke-linejoin="round"/>
<path d="M524.2,287.8 L524.7,288.7 L525.3,289.6 L525.8,290.5M525.8,290.5 L526.4,291.4 L526.9,292.3 L527.2,293.3" fill="none" stroke="#ff1a1a" stroke-width="2.0" stroke-linecap="round" stroke-linejoin="round"/>
<path d="M543.1,322.6 L543.7,323.5 L544.4,324.5 L545.0,325.4 L545.6,326.3M545.6,326.3 L546.2,327.2 L546.9,328.2 L547.5,329.1M547.5,329.1 L548.4,329.7 L549.4,330.3 L550.3,330.9M557.8,335.4 L558.8,335.8 L559.7,336.3 L560.7,336.8M574.9,347.2 L575.9,347.6 L576.8,348.1M576.8,348.1 L577.8,348.6 L578.8,349.0 L579.7,349.3M590.9,352.6 L591.8,353.1 L592.6,353.7 L593.5,354.2 L594.4,355.0M594.4,355.0 L595.2,355.8 L596.0,356.5M596.0,356.5 L596.9,357.3 L597.9,357.3" fill="none" stroke="#ff1a1a" stroke-width="1.0" stroke-linecap="round" stroke-linejoin="round"/>
<path d="M520.4,281.5 L521.0,282.4 L521.7,283.2M523.6,285.9 L524.3,286.7 L524.9,287.6 L525.6,288.5 L526.2,289.3M526.2,289.3 L526.9,290.2 L527.6,291.0 L528.2,291.9 L528.9,292.7M539.3,304.7 L540.1,305.5 L540.8,306.2M540.8,306.2 L541.6,307.0 L542.3,307.7 L543.1,308.5M543.1,308.5 L543.8,309.2 L544.6,310.0M544.6,310.0 L545.3,310.7 L546.0,311.5M550.0,316.0 L550.7,316.7 L551.3,317.5 L552.0,318.2M553.3,319.7 L554.0,320.5 L554.9,321.1M554.9,321.1 L555.7,321.8 L556.6,322.4 L557.4,323.1 L558.3,323.8M558.3,323.8 L559.2,324.4 L560.0,325.1 L560.9,325.7M570.2,328.8 L571.3,329.1 L572.2,329.6M572.2,329.6 L573.0,330.2 L573.9,330.7M573.9,330.7 L574.7,331.3 L575.6,331.8 L576.5,332.3M576.5,332.3 L577.3,332.9 L578.2,333.4M579.9,334.5 L580.8,335.0 L581.6,335.6 L582.5,336.1M582.5,336.1 L583.4,336.7 L584.2,337.2 L585.1,337.7M585.1,337.7 L586.0,338.3 L586.9,338.8 L587.7,339.4M597.2,344.3 L597.9,345.0 L598.6,345.7 L599.4,346.5M599.4,346.5 L600.1,347.2 L600.8,347.9M605.5,352.1 L606.4,352.8 L607.3,353.4 L608.3,353.9 L609.2,354.4" fill="none" stroke="#141414" stroke-width="2.0" stroke-linecap="round" stroke-linejoin="round"/>
<path d="M521.7,283.2 L522.4,284.1 L523.0,285.0 L523.6,285.9M546.0,311.5 L546.6,312.2 L547.3,313.0M547.3,313.0 L548.0,313.7 L548.6,314.5 L549.3,315.2 L550.0,316.0M552.0,318.2 L552.7,319.0 L553.3,319.7M560.9,325.7 L561.7,326.4 L562.6,327.0 L563.7,327.3 L564.8,327.5M564.8,327.5 L565.9,327.8 L567.0,328.1M567.0,328.1 L568.0,328.3 L569.1,328.6 L570.2,328.8M595.3,343.3 L596.2,343.8 L597.2,344.3M600.8,347.9 L601.5,348.6 L602.3,349.4 L603.0,350.1 L603.7,350.8M613.1,356.3 L614.1,356.8 L615.1,357.3 L615.4,358.6 L615.7,359.8" fill="none" stroke="#141414" stroke-width="1.5" stroke-linecap="round" stroke-linejoin="round"/>
<path d="M529.6,293.5 L530.2,294.4 L530.9,295.2M530.9,295.2 L531.6,296.0 L532.3,296.8 L532.9,297.7M532.9,297.7 L533.6,298.5 L534.3,299.3M603.7,350.8 L604.6,351.4 L605.5,352.1M609.2,354.4 L610.2,354.9 L611.2,355.4 L612.2,355.8 L613.1,356.3" fill="none" stroke="#141414" stroke-width="1.0" stroke-linecap="round" stroke-linejoin="round"/>
<path d="M535.6,301.0 L536.3,301.7 L537.1,302.5 L537.8,303.2M537.8,303.2 L538.6,304.0 L539.3,304.7M578.2,333.4 L579.0,334.0 L579.9,334.5M587.7,339.4 L588.6,339.9 L589.6,340.4 L590.5,340.9 L591.5,341.4M591.5,341.4 L592.4,341.9 L593.4,342.3 L594.3,342.8 L595.3,343.3" fill="none" stroke="#141414" stroke-width="2.5" stroke-linecap="round" stroke-linejoin="round"/>
<path d="M623.8,361.1h2.4M625,359.90000000000003v2.4" stroke="#333" stroke-width="0.8"/>
<path d="M628.8,361.1h2.4M630,359.90000000000003v2.4" stroke="#333" stroke-width="0.8"/>
<path d="M634.8,361.1h2.4M636,359.90000000000003v2.4" stroke="#333" stroke-width="0.8"/>
<path d="M640.8,361.1h2.4M642,359.90000000000003v2.4" stroke="#333" stroke-width="0.8"/>
<path d="M648.8,377.6h2.4M650,376.40000000000003v2.4" stroke="#333" stroke-width="0.8"/>
<path d="M676.8,377.6h2.4M678,376.40000000000003v2.4" stroke="#333" stroke-width="0.8"/>
<path d="M600.8,357.3h2.4M602,356.1v2.4" stroke="#ff4040" stroke-width="0.8"/>
<path d="M612.8,361.1h2.4M614,359.90000000000003v2.4" stroke="#ff4040" stroke-width="0.8"/>
<path d="M620.8,366.3h2.4M622,365.1v2.4" stroke="#ff4040" stroke-width="0.8"/>
<path d="M630.8,371.5h2.4M632,370.3v2.4" stroke="#ff4040" stroke-width="0.8"/>
<path d="M634.8,371.5h2.4M636,370.3v2.4" stroke="#ff4040" stroke-width="0.8"/>
<path d="M638.8,371.5h2.4M640,370.3v2.4" stroke="#ff4040" stroke-width="0.8"/>
<path d="M654.8,395.7h2.4M656,394.5v2.4" stroke="#ff4040" stroke-width="0.8"/>
</svg></body></html>
